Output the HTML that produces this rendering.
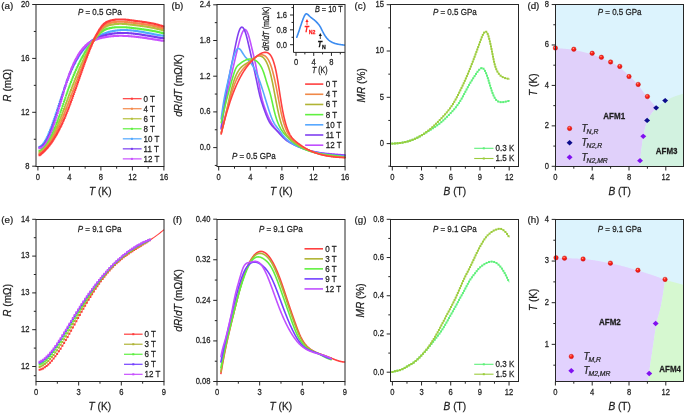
<!DOCTYPE html>
<html><head><meta charset="utf-8"><style>
html,body{margin:0;padding:0;background:#fff;}
svg{display:block;font-family:"Liberation Sans", sans-serif;will-change:transform;}
text{stroke-width:0.22px;}
</style></head><body>
<svg xmlns="http://www.w3.org/2000/svg" width="685" height="413" viewBox="0 0 685 413">
<defs><radialGradient id="rg" cx="0.4" cy="0.35" r="0.65"><stop offset="0" stop-color="#ffb0a0"/><stop offset="0.35" stop-color="#ff2a1a"/><stop offset="1" stop-color="#e01010"/></radialGradient></defs>
<rect width="685" height="413" fill="#fff"/>
<path d="M38.50,145.96h2.0v2.0h-2.0zM39.20,145.69h2.0v2.0h-2.0zM39.90,145.27h2.0v2.0h-2.0zM40.60,144.71h2.0v2.0h-2.0zM41.30,144.02h2.0v2.0h-2.0zM42.00,143.20h2.0v2.0h-2.0zM42.70,142.26h2.0v2.0h-2.0zM43.40,141.20h2.0v2.0h-2.0zM44.10,140.04h2.0v2.0h-2.0zM44.80,138.77h2.0v2.0h-2.0zM45.50,137.40h2.0v2.0h-2.0zM46.20,135.94h2.0v2.0h-2.0zM46.90,134.40h2.0v2.0h-2.0zM47.60,132.78h2.0v2.0h-2.0zM48.30,131.09h2.0v2.0h-2.0zM49.00,129.33h2.0v2.0h-2.0zM49.70,127.51h2.0v2.0h-2.0zM50.40,125.64h2.0v2.0h-2.0zM51.10,123.71h2.0v2.0h-2.0zM51.80,121.75h2.0v2.0h-2.0zM52.50,119.75h2.0v2.0h-2.0zM53.20,117.72h2.0v2.0h-2.0zM53.90,115.66h2.0v2.0h-2.0zM54.60,113.58h2.0v2.0h-2.0zM55.30,111.48h2.0v2.0h-2.0zM56.00,109.37h2.0v2.0h-2.0zM56.70,107.24h2.0v2.0h-2.0zM57.40,105.11h2.0v2.0h-2.0zM58.10,102.98h2.0v2.0h-2.0zM58.80,100.85h2.0v2.0h-2.0zM59.50,98.73h2.0v2.0h-2.0zM60.20,96.62h2.0v2.0h-2.0zM60.90,94.52h2.0v2.0h-2.0zM61.60,92.44h2.0v2.0h-2.0zM62.30,90.39h2.0v2.0h-2.0zM63.00,88.36h2.0v2.0h-2.0zM63.70,86.36h2.0v2.0h-2.0zM64.40,84.40h2.0v2.0h-2.0zM65.10,82.47h2.0v2.0h-2.0zM65.80,80.59h2.0v2.0h-2.0zM66.50,78.76h2.0v2.0h-2.0zM67.20,76.98h2.0v2.0h-2.0zM67.90,75.24h2.0v2.0h-2.0zM68.60,73.55h2.0v2.0h-2.0zM69.30,71.91h2.0v2.0h-2.0zM70.00,70.31h2.0v2.0h-2.0zM70.70,68.76h2.0v2.0h-2.0zM71.40,67.25h2.0v2.0h-2.0zM72.10,65.78h2.0v2.0h-2.0zM72.80,64.36h2.0v2.0h-2.0zM73.50,62.97h2.0v2.0h-2.0zM74.20,61.63h2.0v2.0h-2.0zM74.90,60.33h2.0v2.0h-2.0zM75.60,59.07h2.0v2.0h-2.0zM76.30,57.84h2.0v2.0h-2.0zM77.00,56.66h2.0v2.0h-2.0zM77.70,55.51h2.0v2.0h-2.0zM78.40,54.40h2.0v2.0h-2.0zM79.10,53.32h2.0v2.0h-2.0zM79.80,52.28h2.0v2.0h-2.0zM80.50,51.28h2.0v2.0h-2.0zM81.20,50.30h2.0v2.0h-2.0zM81.90,49.36h2.0v2.0h-2.0zM82.60,48.45h2.0v2.0h-2.0zM83.30,47.58h2.0v2.0h-2.0zM84.00,46.73h2.0v2.0h-2.0zM84.70,45.91h2.0v2.0h-2.0zM85.40,45.13h2.0v2.0h-2.0zM86.10,44.37h2.0v2.0h-2.0zM86.80,43.63h2.0v2.0h-2.0zM87.50,42.93h2.0v2.0h-2.0zM88.20,42.25h2.0v2.0h-2.0zM88.90,41.60h2.0v2.0h-2.0zM89.60,40.97h2.0v2.0h-2.0zM90.30,40.36h2.0v2.0h-2.0zM91.00,39.78h2.0v2.0h-2.0zM91.70,39.22h2.0v2.0h-2.0zM92.40,38.69h2.0v2.0h-2.0zM93.10,38.17h2.0v2.0h-2.0zM93.80,37.67h2.0v2.0h-2.0zM94.50,37.20h2.0v2.0h-2.0zM95.20,36.74h2.0v2.0h-2.0zM95.90,36.30h2.0v2.0h-2.0zM96.60,35.87h2.0v2.0h-2.0zM97.30,35.47h2.0v2.0h-2.0zM98.00,35.08h2.0v2.0h-2.0zM98.70,34.70h2.0v2.0h-2.0zM99.40,34.34h2.0v2.0h-2.0zM100.10,33.99h2.0v2.0h-2.0zM100.80,33.66h2.0v2.0h-2.0zM101.50,33.34h2.0v2.0h-2.0zM102.20,33.03h2.0v2.0h-2.0zM102.90,32.74h2.0v2.0h-2.0zM103.60,32.46h2.0v2.0h-2.0zM104.30,32.19h2.0v2.0h-2.0zM105.00,31.93h2.0v2.0h-2.0zM105.70,31.69h2.0v2.0h-2.0zM106.40,31.46h2.0v2.0h-2.0zM107.10,31.24h2.0v2.0h-2.0zM107.80,31.03h2.0v2.0h-2.0zM108.50,30.84h2.0v2.0h-2.0zM109.20,30.65h2.0v2.0h-2.0zM109.90,30.48h2.0v2.0h-2.0zM110.60,30.31h2.0v2.0h-2.0zM111.30,30.16h2.0v2.0h-2.0zM112.00,30.02h2.0v2.0h-2.0zM112.70,29.89h2.0v2.0h-2.0zM113.40,29.77h2.0v2.0h-2.0zM114.10,29.66h2.0v2.0h-2.0zM114.80,29.56h2.0v2.0h-2.0zM115.50,29.46h2.0v2.0h-2.0zM116.20,29.38h2.0v2.0h-2.0zM116.90,29.31h2.0v2.0h-2.0zM117.60,29.24h2.0v2.0h-2.0zM118.30,29.19h2.0v2.0h-2.0zM119.00,29.14h2.0v2.0h-2.0zM119.70,29.10h2.0v2.0h-2.0zM120.40,29.07h2.0v2.0h-2.0zM121.10,29.05h2.0v2.0h-2.0zM121.80,29.04h2.0v2.0h-2.0zM122.50,29.03h2.0v2.0h-2.0zM123.20,29.03h2.0v2.0h-2.0zM123.90,29.04h2.0v2.0h-2.0zM124.60,29.05h2.0v2.0h-2.0zM125.30,29.07h2.0v2.0h-2.0zM126.00,29.10h2.0v2.0h-2.0zM126.70,29.14h2.0v2.0h-2.0zM127.40,29.18h2.0v2.0h-2.0zM128.10,29.22h2.0v2.0h-2.0zM128.80,29.28h2.0v2.0h-2.0zM129.50,29.33h2.0v2.0h-2.0zM130.20,29.40h2.0v2.0h-2.0zM130.90,29.47h2.0v2.0h-2.0zM131.60,29.54h2.0v2.0h-2.0zM132.30,29.62h2.0v2.0h-2.0zM133.00,29.70h2.0v2.0h-2.0zM133.70,29.79h2.0v2.0h-2.0zM134.40,29.88h2.0v2.0h-2.0zM135.10,29.98h2.0v2.0h-2.0zM135.80,30.08h2.0v2.0h-2.0zM136.50,30.18h2.0v2.0h-2.0zM137.20,30.29h2.0v2.0h-2.0zM137.90,30.40h2.0v2.0h-2.0zM138.60,30.51h2.0v2.0h-2.0zM139.30,30.63h2.0v2.0h-2.0zM140.00,30.75h2.0v2.0h-2.0zM140.70,30.87h2.0v2.0h-2.0zM141.40,30.99h2.0v2.0h-2.0zM142.10,31.12h2.0v2.0h-2.0zM142.80,31.25h2.0v2.0h-2.0zM143.50,31.38h2.0v2.0h-2.0zM144.20,31.51h2.0v2.0h-2.0zM144.90,31.64h2.0v2.0h-2.0zM145.60,31.78h2.0v2.0h-2.0zM146.30,31.91h2.0v2.0h-2.0zM147.00,32.05h2.0v2.0h-2.0zM147.70,32.18h2.0v2.0h-2.0zM148.40,32.32h2.0v2.0h-2.0zM149.10,32.45h2.0v2.0h-2.0zM149.80,32.59h2.0v2.0h-2.0zM150.50,32.73h2.0v2.0h-2.0zM151.20,32.86h2.0v2.0h-2.0zM151.90,33.00h2.0v2.0h-2.0zM152.60,33.13h2.0v2.0h-2.0zM153.30,33.26h2.0v2.0h-2.0zM154.00,33.39h2.0v2.0h-2.0zM154.70,33.53h2.0v2.0h-2.0zM155.40,33.65h2.0v2.0h-2.0zM156.10,33.78h2.0v2.0h-2.0zM156.80,33.91h2.0v2.0h-2.0zM157.50,34.03h2.0v2.0h-2.0zM158.20,34.15h2.0v2.0h-2.0zM158.90,34.27h2.0v2.0h-2.0zM159.60,34.38h2.0v2.0h-2.0zM160.30,34.49h2.0v2.0h-2.0zM161.00,34.60h2.0v2.0h-2.0zM161.70,34.71h2.0v2.0h-2.0zM162.40,34.81h2.0v2.0h-2.0z" fill="#50a8ff"/>
<path d="M38.50,146.55h2.0v2.0h-2.0zM39.20,146.44h2.0v2.0h-2.0zM39.90,146.19h2.0v2.0h-2.0zM40.60,145.79h2.0v2.0h-2.0zM41.30,145.26h2.0v2.0h-2.0zM42.00,144.61h2.0v2.0h-2.0zM42.70,143.83h2.0v2.0h-2.0zM43.40,142.92h2.0v2.0h-2.0zM44.10,141.91h2.0v2.0h-2.0zM44.80,140.79h2.0v2.0h-2.0zM45.50,139.56h2.0v2.0h-2.0zM46.20,138.23h2.0v2.0h-2.0zM46.90,136.80h2.0v2.0h-2.0zM47.60,135.29h2.0v2.0h-2.0zM48.30,133.69h2.0v2.0h-2.0zM49.00,132.01h2.0v2.0h-2.0zM49.70,130.26h2.0v2.0h-2.0zM50.40,128.44h2.0v2.0h-2.0zM51.10,126.55h2.0v2.0h-2.0zM51.80,124.60h2.0v2.0h-2.0zM52.50,122.59h2.0v2.0h-2.0zM53.20,120.53h2.0v2.0h-2.0zM53.90,118.43h2.0v2.0h-2.0zM54.60,116.28h2.0v2.0h-2.0zM55.30,114.10h2.0v2.0h-2.0zM56.00,111.89h2.0v2.0h-2.0zM56.70,109.65h2.0v2.0h-2.0zM57.40,107.39h2.0v2.0h-2.0zM58.10,105.11h2.0v2.0h-2.0zM58.80,102.83h2.0v2.0h-2.0zM59.50,100.54h2.0v2.0h-2.0zM60.20,98.25h2.0v2.0h-2.0zM60.90,95.96h2.0v2.0h-2.0zM61.60,93.69h2.0v2.0h-2.0zM62.30,91.44h2.0v2.0h-2.0zM63.00,89.21h2.0v2.0h-2.0zM63.70,87.01h2.0v2.0h-2.0zM64.40,84.85h2.0v2.0h-2.0zM65.10,82.74h2.0v2.0h-2.0zM65.80,80.67h2.0v2.0h-2.0zM66.50,78.67h2.0v2.0h-2.0zM67.20,76.73h2.0v2.0h-2.0zM67.90,74.84h2.0v2.0h-2.0zM68.60,73.02h2.0v2.0h-2.0zM69.30,71.26h2.0v2.0h-2.0zM70.00,69.56h2.0v2.0h-2.0zM70.70,67.91h2.0v2.0h-2.0zM71.40,66.32h2.0v2.0h-2.0zM72.10,64.79h2.0v2.0h-2.0zM72.80,63.31h2.0v2.0h-2.0zM73.50,61.88h2.0v2.0h-2.0zM74.20,60.50h2.0v2.0h-2.0zM74.90,59.17h2.0v2.0h-2.0zM75.60,57.89h2.0v2.0h-2.0zM76.30,56.66h2.0v2.0h-2.0zM77.00,55.48h2.0v2.0h-2.0zM77.70,54.34h2.0v2.0h-2.0zM78.40,53.25h2.0v2.0h-2.0zM79.10,52.20h2.0v2.0h-2.0zM79.80,51.20h2.0v2.0h-2.0zM80.50,50.23h2.0v2.0h-2.0zM81.20,49.31h2.0v2.0h-2.0zM81.90,48.42h2.0v2.0h-2.0zM82.60,47.58h2.0v2.0h-2.0zM83.30,46.77h2.0v2.0h-2.0zM84.00,45.99h2.0v2.0h-2.0zM84.70,45.25h2.0v2.0h-2.0zM85.40,44.55h2.0v2.0h-2.0zM86.10,43.87h2.0v2.0h-2.0zM86.80,43.23h2.0v2.0h-2.0zM87.50,42.62h2.0v2.0h-2.0zM88.20,42.04h2.0v2.0h-2.0zM88.90,41.48h2.0v2.0h-2.0zM89.60,40.95h2.0v2.0h-2.0zM90.30,40.45h2.0v2.0h-2.0zM91.00,39.97h2.0v2.0h-2.0zM91.70,39.52h2.0v2.0h-2.0zM92.40,39.09h2.0v2.0h-2.0zM93.10,38.68h2.0v2.0h-2.0zM93.80,38.29h2.0v2.0h-2.0zM94.50,37.92h2.0v2.0h-2.0zM95.20,37.56h2.0v2.0h-2.0zM95.90,37.23h2.0v2.0h-2.0zM96.60,36.90h2.0v2.0h-2.0zM97.30,36.60h2.0v2.0h-2.0zM98.00,36.30h2.0v2.0h-2.0zM98.70,36.02h2.0v2.0h-2.0zM99.40,35.75h2.0v2.0h-2.0zM100.10,35.50h2.0v2.0h-2.0zM100.80,35.25h2.0v2.0h-2.0zM101.50,35.01h2.0v2.0h-2.0zM102.20,34.78h2.0v2.0h-2.0zM102.90,34.56h2.0v2.0h-2.0zM103.60,34.36h2.0v2.0h-2.0zM104.30,34.16h2.0v2.0h-2.0zM105.00,33.97h2.0v2.0h-2.0zM105.70,33.79h2.0v2.0h-2.0zM106.40,33.62h2.0v2.0h-2.0zM107.10,33.46h2.0v2.0h-2.0zM107.80,33.31h2.0v2.0h-2.0zM108.50,33.17h2.0v2.0h-2.0zM109.20,33.03h2.0v2.0h-2.0zM109.90,32.91h2.0v2.0h-2.0zM110.60,32.79h2.0v2.0h-2.0zM111.30,32.68h2.0v2.0h-2.0zM112.00,32.58h2.0v2.0h-2.0zM112.70,32.49h2.0v2.0h-2.0zM113.40,32.41h2.0v2.0h-2.0zM114.10,32.33h2.0v2.0h-2.0zM114.80,32.26h2.0v2.0h-2.0zM115.50,32.20h2.0v2.0h-2.0zM116.20,32.14h2.0v2.0h-2.0zM116.90,32.10h2.0v2.0h-2.0zM117.60,32.06h2.0v2.0h-2.0zM118.30,32.02h2.0v2.0h-2.0zM119.00,32.00h2.0v2.0h-2.0zM119.70,31.98h2.0v2.0h-2.0zM120.40,31.96h2.0v2.0h-2.0zM121.10,31.96h2.0v2.0h-2.0zM121.80,31.95h2.0v2.0h-2.0zM122.50,31.96h2.0v2.0h-2.0zM123.20,31.97h2.0v2.0h-2.0zM123.90,31.98h2.0v2.0h-2.0zM124.60,32.01h2.0v2.0h-2.0zM125.30,32.03h2.0v2.0h-2.0zM126.00,32.07h2.0v2.0h-2.0zM126.70,32.10h2.0v2.0h-2.0zM127.40,32.14h2.0v2.0h-2.0zM128.10,32.19h2.0v2.0h-2.0zM128.80,32.24h2.0v2.0h-2.0zM129.50,32.30h2.0v2.0h-2.0zM130.20,32.36h2.0v2.0h-2.0zM130.90,32.42h2.0v2.0h-2.0zM131.60,32.49h2.0v2.0h-2.0zM132.30,32.57h2.0v2.0h-2.0zM133.00,32.64h2.0v2.0h-2.0zM133.70,32.72h2.0v2.0h-2.0zM134.40,32.81h2.0v2.0h-2.0zM135.10,32.89h2.0v2.0h-2.0zM135.80,32.98h2.0v2.0h-2.0zM136.50,33.08h2.0v2.0h-2.0zM137.20,33.17h2.0v2.0h-2.0zM137.90,33.27h2.0v2.0h-2.0zM138.60,33.37h2.0v2.0h-2.0zM139.30,33.48h2.0v2.0h-2.0zM140.00,33.58h2.0v2.0h-2.0zM140.70,33.69h2.0v2.0h-2.0zM141.40,33.80h2.0v2.0h-2.0zM142.10,33.91h2.0v2.0h-2.0zM142.80,34.03h2.0v2.0h-2.0zM143.50,34.14h2.0v2.0h-2.0zM144.20,34.26h2.0v2.0h-2.0zM144.90,34.38h2.0v2.0h-2.0zM145.60,34.50h2.0v2.0h-2.0zM146.30,34.62h2.0v2.0h-2.0zM147.00,34.74h2.0v2.0h-2.0zM147.70,34.86h2.0v2.0h-2.0zM148.40,34.98h2.0v2.0h-2.0zM149.10,35.11h2.0v2.0h-2.0zM149.80,35.23h2.0v2.0h-2.0zM150.50,35.35h2.0v2.0h-2.0zM151.20,35.48h2.0v2.0h-2.0zM151.90,35.60h2.0v2.0h-2.0zM152.60,35.72h2.0v2.0h-2.0zM153.30,35.84h2.0v2.0h-2.0zM154.00,35.97h2.0v2.0h-2.0zM154.70,36.09h2.0v2.0h-2.0zM155.40,36.21h2.0v2.0h-2.0zM156.10,36.33h2.0v2.0h-2.0zM156.80,36.44h2.0v2.0h-2.0zM157.50,36.56h2.0v2.0h-2.0zM158.20,36.68h2.0v2.0h-2.0zM158.90,36.79h2.0v2.0h-2.0zM159.60,36.90h2.0v2.0h-2.0zM160.30,37.01h2.0v2.0h-2.0zM161.00,37.12h2.0v2.0h-2.0zM161.70,37.22h2.0v2.0h-2.0zM162.40,37.33h2.0v2.0h-2.0z" fill="#7a3cf0"/>
<path d="M38.50,147.14h2.0v2.0h-2.0zM39.20,147.19h2.0v2.0h-2.0zM39.90,147.10h2.0v2.0h-2.0zM40.60,146.87h2.0v2.0h-2.0zM41.30,146.51h2.0v2.0h-2.0zM42.00,146.01h2.0v2.0h-2.0zM42.70,145.39h2.0v2.0h-2.0zM43.40,144.65h2.0v2.0h-2.0zM44.10,143.78h2.0v2.0h-2.0zM44.80,142.80h2.0v2.0h-2.0zM45.50,141.71h2.0v2.0h-2.0zM46.20,140.51h2.0v2.0h-2.0zM46.90,139.20h2.0v2.0h-2.0zM47.60,137.80h2.0v2.0h-2.0zM48.30,136.29h2.0v2.0h-2.0zM49.00,134.70h2.0v2.0h-2.0zM49.70,133.01h2.0v2.0h-2.0zM50.40,131.23h2.0v2.0h-2.0zM51.10,129.38h2.0v2.0h-2.0zM51.80,127.44h2.0v2.0h-2.0zM52.50,125.43h2.0v2.0h-2.0zM53.20,123.35h2.0v2.0h-2.0zM53.90,121.20h2.0v2.0h-2.0zM54.60,118.99h2.0v2.0h-2.0zM55.30,116.72h2.0v2.0h-2.0zM56.00,114.41h2.0v2.0h-2.0zM56.70,112.05h2.0v2.0h-2.0zM57.40,109.66h2.0v2.0h-2.0zM58.10,107.24h2.0v2.0h-2.0zM58.80,104.80h2.0v2.0h-2.0zM59.50,102.34h2.0v2.0h-2.0zM60.20,99.88h2.0v2.0h-2.0zM60.90,97.41h2.0v2.0h-2.0zM61.60,94.94h2.0v2.0h-2.0zM62.30,92.49h2.0v2.0h-2.0zM63.00,90.06h2.0v2.0h-2.0zM63.70,87.66h2.0v2.0h-2.0zM64.40,85.30h2.0v2.0h-2.0zM65.10,83.00h2.0v2.0h-2.0zM65.80,80.75h2.0v2.0h-2.0zM66.50,78.57h2.0v2.0h-2.0zM67.20,76.47h2.0v2.0h-2.0zM67.90,74.45h2.0v2.0h-2.0zM68.60,72.49h2.0v2.0h-2.0zM69.30,70.62h2.0v2.0h-2.0zM70.00,68.81h2.0v2.0h-2.0zM70.70,67.07h2.0v2.0h-2.0zM71.40,65.40h2.0v2.0h-2.0zM72.10,63.79h2.0v2.0h-2.0zM72.80,62.26h2.0v2.0h-2.0zM73.50,60.78h2.0v2.0h-2.0zM74.20,59.37h2.0v2.0h-2.0zM74.90,58.01h2.0v2.0h-2.0zM75.60,56.72h2.0v2.0h-2.0zM76.30,55.48h2.0v2.0h-2.0zM77.00,54.30h2.0v2.0h-2.0zM77.70,53.18h2.0v2.0h-2.0zM78.40,52.11h2.0v2.0h-2.0zM79.10,51.08h2.0v2.0h-2.0zM79.80,50.11h2.0v2.0h-2.0zM80.50,49.19h2.0v2.0h-2.0zM81.20,48.32h2.0v2.0h-2.0zM81.90,47.49h2.0v2.0h-2.0zM82.60,46.70h2.0v2.0h-2.0zM83.30,45.96h2.0v2.0h-2.0zM84.00,45.26h2.0v2.0h-2.0zM84.70,44.59h2.0v2.0h-2.0zM85.40,43.97h2.0v2.0h-2.0zM86.10,43.38h2.0v2.0h-2.0zM86.80,42.83h2.0v2.0h-2.0zM87.50,42.31h2.0v2.0h-2.0zM88.20,41.82h2.0v2.0h-2.0zM88.90,41.37h2.0v2.0h-2.0zM89.60,40.94h2.0v2.0h-2.0zM90.30,40.54h2.0v2.0h-2.0zM91.00,40.16h2.0v2.0h-2.0zM91.70,39.82h2.0v2.0h-2.0zM92.40,39.49h2.0v2.0h-2.0zM93.10,39.18h2.0v2.0h-2.0zM93.80,38.90h2.0v2.0h-2.0zM94.50,38.63h2.0v2.0h-2.0zM95.20,38.39h2.0v2.0h-2.0zM95.90,38.15h2.0v2.0h-2.0zM96.60,37.93h2.0v2.0h-2.0zM97.30,37.73h2.0v2.0h-2.0zM98.00,37.53h2.0v2.0h-2.0zM98.70,37.35h2.0v2.0h-2.0zM99.40,37.17h2.0v2.0h-2.0zM100.10,37.00h2.0v2.0h-2.0zM100.80,36.84h2.0v2.0h-2.0zM101.50,36.68h2.0v2.0h-2.0zM102.20,36.53h2.0v2.0h-2.0zM102.90,36.39h2.0v2.0h-2.0zM103.60,36.26h2.0v2.0h-2.0zM104.30,36.13h2.0v2.0h-2.0zM105.00,36.01h2.0v2.0h-2.0zM105.70,35.89h2.0v2.0h-2.0zM106.40,35.78h2.0v2.0h-2.0zM107.10,35.68h2.0v2.0h-2.0zM107.80,35.59h2.0v2.0h-2.0zM108.50,35.50h2.0v2.0h-2.0zM109.20,35.42h2.0v2.0h-2.0zM109.90,35.34h2.0v2.0h-2.0zM110.60,35.27h2.0v2.0h-2.0zM111.30,35.20h2.0v2.0h-2.0zM112.00,35.14h2.0v2.0h-2.0zM112.70,35.09h2.0v2.0h-2.0zM113.40,35.04h2.0v2.0h-2.0zM114.10,35.00h2.0v2.0h-2.0zM114.80,34.96h2.0v2.0h-2.0zM115.50,34.93h2.0v2.0h-2.0zM116.20,34.91h2.0v2.0h-2.0zM116.90,34.89h2.0v2.0h-2.0zM117.60,34.87h2.0v2.0h-2.0zM118.30,34.86h2.0v2.0h-2.0zM119.00,34.85h2.0v2.0h-2.0zM119.70,34.85h2.0v2.0h-2.0zM120.40,34.85h2.0v2.0h-2.0zM121.10,34.86h2.0v2.0h-2.0zM121.80,34.87h2.0v2.0h-2.0zM122.50,34.89h2.0v2.0h-2.0zM123.20,34.91h2.0v2.0h-2.0zM123.90,34.93h2.0v2.0h-2.0zM124.60,34.96h2.0v2.0h-2.0zM125.30,34.99h2.0v2.0h-2.0zM126.00,35.03h2.0v2.0h-2.0zM126.70,35.07h2.0v2.0h-2.0zM127.40,35.11h2.0v2.0h-2.0zM128.10,35.16h2.0v2.0h-2.0zM128.80,35.21h2.0v2.0h-2.0zM129.50,35.27h2.0v2.0h-2.0zM130.20,35.32h2.0v2.0h-2.0zM130.90,35.38h2.0v2.0h-2.0zM131.60,35.45h2.0v2.0h-2.0zM132.30,35.51h2.0v2.0h-2.0zM133.00,35.58h2.0v2.0h-2.0zM133.70,35.66h2.0v2.0h-2.0zM134.40,35.73h2.0v2.0h-2.0zM135.10,35.81h2.0v2.0h-2.0zM135.80,35.89h2.0v2.0h-2.0zM136.50,35.97h2.0v2.0h-2.0zM137.20,36.06h2.0v2.0h-2.0zM137.90,36.14h2.0v2.0h-2.0zM138.60,36.23h2.0v2.0h-2.0zM139.30,36.32h2.0v2.0h-2.0zM140.00,36.42h2.0v2.0h-2.0zM140.70,36.51h2.0v2.0h-2.0zM141.40,36.61h2.0v2.0h-2.0zM142.10,36.71h2.0v2.0h-2.0zM142.80,36.81h2.0v2.0h-2.0zM143.50,36.91h2.0v2.0h-2.0zM144.20,37.01h2.0v2.0h-2.0zM144.90,37.11h2.0v2.0h-2.0zM145.60,37.22h2.0v2.0h-2.0zM146.30,37.33h2.0v2.0h-2.0zM147.00,37.43h2.0v2.0h-2.0zM147.70,37.54h2.0v2.0h-2.0zM148.40,37.65h2.0v2.0h-2.0zM149.10,37.76h2.0v2.0h-2.0zM149.80,37.87h2.0v2.0h-2.0zM150.50,37.98h2.0v2.0h-2.0zM151.20,38.09h2.0v2.0h-2.0zM151.90,38.20h2.0v2.0h-2.0zM152.60,38.31h2.0v2.0h-2.0zM153.30,38.43h2.0v2.0h-2.0zM154.00,38.54h2.0v2.0h-2.0zM154.70,38.65h2.0v2.0h-2.0zM155.40,38.76h2.0v2.0h-2.0zM156.10,38.87h2.0v2.0h-2.0zM156.80,38.98h2.0v2.0h-2.0zM157.50,39.09h2.0v2.0h-2.0zM158.20,39.20h2.0v2.0h-2.0zM158.90,39.31h2.0v2.0h-2.0zM159.60,39.42h2.0v2.0h-2.0zM160.30,39.53h2.0v2.0h-2.0zM161.00,39.63h2.0v2.0h-2.0zM161.70,39.74h2.0v2.0h-2.0zM162.40,39.84h2.0v2.0h-2.0z" fill="#c850ff"/>
<path d="M38.50,149.83h2.0v2.0h-2.0zM39.20,149.66h2.0v2.0h-2.0zM39.90,149.39h2.0v2.0h-2.0zM40.60,149.03h2.0v2.0h-2.0zM41.30,148.58h2.0v2.0h-2.0zM42.00,148.04h2.0v2.0h-2.0zM42.70,147.40h2.0v2.0h-2.0zM43.40,146.68h2.0v2.0h-2.0zM44.10,145.88h2.0v2.0h-2.0zM44.80,144.99h2.0v2.0h-2.0zM45.50,144.03h2.0v2.0h-2.0zM46.20,142.98h2.0v2.0h-2.0zM46.90,141.86h2.0v2.0h-2.0zM47.60,140.67h2.0v2.0h-2.0zM48.30,139.40h2.0v2.0h-2.0zM49.00,138.07h2.0v2.0h-2.0zM49.70,136.67h2.0v2.0h-2.0zM50.40,135.20h2.0v2.0h-2.0zM51.10,133.67h2.0v2.0h-2.0zM51.80,132.08h2.0v2.0h-2.0zM52.50,130.43h2.0v2.0h-2.0zM53.20,128.72h2.0v2.0h-2.0zM53.90,126.96h2.0v2.0h-2.0zM54.60,125.15h2.0v2.0h-2.0zM55.30,123.29h2.0v2.0h-2.0zM56.00,121.39h2.0v2.0h-2.0zM56.70,119.45h2.0v2.0h-2.0zM57.40,117.47h2.0v2.0h-2.0zM58.10,115.46h2.0v2.0h-2.0zM58.80,113.43h2.0v2.0h-2.0zM59.50,111.37h2.0v2.0h-2.0zM60.20,109.29h2.0v2.0h-2.0zM60.90,107.20h2.0v2.0h-2.0zM61.60,105.09h2.0v2.0h-2.0zM62.30,102.98h2.0v2.0h-2.0zM63.00,100.87h2.0v2.0h-2.0zM63.70,98.76h2.0v2.0h-2.0zM64.40,96.67h2.0v2.0h-2.0zM65.10,94.59h2.0v2.0h-2.0zM65.80,92.54h2.0v2.0h-2.0zM66.50,90.52h2.0v2.0h-2.0zM67.20,88.54h2.0v2.0h-2.0zM67.90,86.59h2.0v2.0h-2.0zM68.60,84.68h2.0v2.0h-2.0zM69.30,82.80h2.0v2.0h-2.0zM70.00,80.96h2.0v2.0h-2.0zM70.70,79.16h2.0v2.0h-2.0zM71.40,77.39h2.0v2.0h-2.0zM72.10,75.66h2.0v2.0h-2.0zM72.80,73.96h2.0v2.0h-2.0zM73.50,72.30h2.0v2.0h-2.0zM74.20,70.67h2.0v2.0h-2.0zM74.90,69.08h2.0v2.0h-2.0zM75.60,67.52h2.0v2.0h-2.0zM76.30,65.99h2.0v2.0h-2.0zM77.00,64.50h2.0v2.0h-2.0zM77.70,63.04h2.0v2.0h-2.0zM78.40,61.61h2.0v2.0h-2.0zM79.10,60.22h2.0v2.0h-2.0zM79.80,58.86h2.0v2.0h-2.0zM80.50,57.53h2.0v2.0h-2.0zM81.20,56.23h2.0v2.0h-2.0zM81.90,54.97h2.0v2.0h-2.0zM82.60,53.74h2.0v2.0h-2.0zM83.30,52.53h2.0v2.0h-2.0zM84.00,51.36h2.0v2.0h-2.0zM84.70,50.22h2.0v2.0h-2.0zM85.40,49.12h2.0v2.0h-2.0zM86.10,48.07h2.0v2.0h-2.0zM86.80,47.06h2.0v2.0h-2.0zM87.50,46.09h2.0v2.0h-2.0zM88.20,45.15h2.0v2.0h-2.0zM88.90,44.23h2.0v2.0h-2.0zM89.60,43.32h2.0v2.0h-2.0zM90.30,42.42h2.0v2.0h-2.0zM91.00,41.53h2.0v2.0h-2.0zM91.70,40.64h2.0v2.0h-2.0zM92.40,39.76h2.0v2.0h-2.0zM93.10,38.88h2.0v2.0h-2.0zM93.80,38.00h2.0v2.0h-2.0zM94.50,37.14h2.0v2.0h-2.0zM95.20,36.30h2.0v2.0h-2.0zM95.90,35.47h2.0v2.0h-2.0zM96.60,34.67h2.0v2.0h-2.0zM97.30,33.90h2.0v2.0h-2.0zM98.00,33.18h2.0v2.0h-2.0zM98.70,32.50h2.0v2.0h-2.0zM99.40,31.87h2.0v2.0h-2.0zM100.10,31.29h2.0v2.0h-2.0zM100.80,30.74h2.0v2.0h-2.0zM101.50,30.23h2.0v2.0h-2.0zM102.20,29.77h2.0v2.0h-2.0zM102.90,29.34h2.0v2.0h-2.0zM103.60,28.96h2.0v2.0h-2.0zM104.30,28.62h2.0v2.0h-2.0zM105.00,28.31h2.0v2.0h-2.0zM105.70,28.04h2.0v2.0h-2.0zM106.40,27.81h2.0v2.0h-2.0zM107.10,27.59h2.0v2.0h-2.0zM107.80,27.41h2.0v2.0h-2.0zM108.50,27.24h2.0v2.0h-2.0zM109.20,27.09h2.0v2.0h-2.0zM109.90,26.95h2.0v2.0h-2.0zM110.60,26.82h2.0v2.0h-2.0zM111.30,26.71h2.0v2.0h-2.0zM112.00,26.60h2.0v2.0h-2.0zM112.70,26.51h2.0v2.0h-2.0zM113.40,26.43h2.0v2.0h-2.0zM114.10,26.36h2.0v2.0h-2.0zM114.80,26.30h2.0v2.0h-2.0zM115.50,26.25h2.0v2.0h-2.0zM116.20,26.20h2.0v2.0h-2.0zM116.90,26.17h2.0v2.0h-2.0zM117.60,26.15h2.0v2.0h-2.0zM118.30,26.13h2.0v2.0h-2.0zM119.00,26.13h2.0v2.0h-2.0zM119.70,26.13h2.0v2.0h-2.0zM120.40,26.14h2.0v2.0h-2.0zM121.10,26.15h2.0v2.0h-2.0zM121.80,26.17h2.0v2.0h-2.0zM122.50,26.20h2.0v2.0h-2.0zM123.20,26.23h2.0v2.0h-2.0zM123.90,26.28h2.0v2.0h-2.0zM124.60,26.32h2.0v2.0h-2.0zM125.30,26.37h2.0v2.0h-2.0zM126.00,26.43h2.0v2.0h-2.0zM126.70,26.49h2.0v2.0h-2.0zM127.40,26.55h2.0v2.0h-2.0zM128.10,26.62h2.0v2.0h-2.0zM128.80,26.69h2.0v2.0h-2.0zM129.50,26.76h2.0v2.0h-2.0zM130.20,26.84h2.0v2.0h-2.0zM130.90,26.92h2.0v2.0h-2.0zM131.60,27.00h2.0v2.0h-2.0zM132.30,27.08h2.0v2.0h-2.0zM133.00,27.16h2.0v2.0h-2.0zM133.70,27.25h2.0v2.0h-2.0zM134.40,27.33h2.0v2.0h-2.0zM135.10,27.42h2.0v2.0h-2.0zM135.80,27.50h2.0v2.0h-2.0zM136.50,27.59h2.0v2.0h-2.0zM137.20,27.68h2.0v2.0h-2.0zM137.90,27.77h2.0v2.0h-2.0zM138.60,27.86h2.0v2.0h-2.0zM139.30,27.95h2.0v2.0h-2.0zM140.00,28.04h2.0v2.0h-2.0zM140.70,28.14h2.0v2.0h-2.0zM141.40,28.23h2.0v2.0h-2.0zM142.10,28.33h2.0v2.0h-2.0zM142.80,28.43h2.0v2.0h-2.0zM143.50,28.53h2.0v2.0h-2.0zM144.20,28.63h2.0v2.0h-2.0zM144.90,28.74h2.0v2.0h-2.0zM145.60,28.84h2.0v2.0h-2.0zM146.30,28.95h2.0v2.0h-2.0zM147.00,29.06h2.0v2.0h-2.0zM147.70,29.18h2.0v2.0h-2.0zM148.40,29.29h2.0v2.0h-2.0zM149.10,29.41h2.0v2.0h-2.0zM149.80,29.53h2.0v2.0h-2.0zM150.50,29.66h2.0v2.0h-2.0zM151.20,29.78h2.0v2.0h-2.0zM151.90,29.91h2.0v2.0h-2.0zM152.60,30.05h2.0v2.0h-2.0zM153.30,30.18h2.0v2.0h-2.0zM154.00,30.32h2.0v2.0h-2.0zM154.70,30.47h2.0v2.0h-2.0zM155.40,30.61h2.0v2.0h-2.0zM156.10,30.76h2.0v2.0h-2.0zM156.80,30.92h2.0v2.0h-2.0zM157.50,31.08h2.0v2.0h-2.0zM158.20,31.24h2.0v2.0h-2.0zM158.90,31.41h2.0v2.0h-2.0zM159.60,31.58h2.0v2.0h-2.0zM160.30,31.75h2.0v2.0h-2.0zM161.00,31.93h2.0v2.0h-2.0zM161.70,32.11h2.0v2.0h-2.0zM162.40,32.30h2.0v2.0h-2.0z" fill="#5ef040"/>
<path d="M38.50,151.60h2.0v2.0h-2.0zM39.20,151.28h2.0v2.0h-2.0zM39.90,150.90h2.0v2.0h-2.0zM40.60,150.46h2.0v2.0h-2.0zM41.30,149.94h2.0v2.0h-2.0zM42.00,149.37h2.0v2.0h-2.0zM42.70,148.73h2.0v2.0h-2.0zM43.40,148.02h2.0v2.0h-2.0zM44.10,147.26h2.0v2.0h-2.0zM44.80,146.43h2.0v2.0h-2.0zM45.50,145.55h2.0v2.0h-2.0zM46.20,144.61h2.0v2.0h-2.0zM46.90,143.61h2.0v2.0h-2.0zM47.60,142.56h2.0v2.0h-2.0zM48.30,141.45h2.0v2.0h-2.0zM49.00,140.29h2.0v2.0h-2.0zM49.70,139.07h2.0v2.0h-2.0zM50.40,137.81h2.0v2.0h-2.0zM51.10,136.49h2.0v2.0h-2.0zM51.80,135.13h2.0v2.0h-2.0zM52.50,133.71h2.0v2.0h-2.0zM53.20,132.25h2.0v2.0h-2.0zM53.90,130.75h2.0v2.0h-2.0zM54.60,129.20h2.0v2.0h-2.0zM55.30,127.61h2.0v2.0h-2.0zM56.00,125.98h2.0v2.0h-2.0zM56.70,124.31h2.0v2.0h-2.0zM57.40,122.61h2.0v2.0h-2.0zM58.10,120.87h2.0v2.0h-2.0zM58.80,119.10h2.0v2.0h-2.0zM59.50,117.31h2.0v2.0h-2.0zM60.20,115.49h2.0v2.0h-2.0zM60.90,113.64h2.0v2.0h-2.0zM61.60,111.77h2.0v2.0h-2.0zM62.30,109.89h2.0v2.0h-2.0zM63.00,107.98h2.0v2.0h-2.0zM63.70,106.07h2.0v2.0h-2.0zM64.40,104.14h2.0v2.0h-2.0zM65.10,102.22h2.0v2.0h-2.0zM65.80,100.30h2.0v2.0h-2.0zM66.50,98.38h2.0v2.0h-2.0zM67.20,96.47h2.0v2.0h-2.0zM67.90,94.58h2.0v2.0h-2.0zM68.60,92.69h2.0v2.0h-2.0zM69.30,90.82h2.0v2.0h-2.0zM70.00,88.96h2.0v2.0h-2.0zM70.70,87.12h2.0v2.0h-2.0zM71.40,85.29h2.0v2.0h-2.0zM72.10,83.47h2.0v2.0h-2.0zM72.80,81.67h2.0v2.0h-2.0zM73.50,79.88h2.0v2.0h-2.0zM74.20,78.11h2.0v2.0h-2.0zM74.90,76.36h2.0v2.0h-2.0zM75.60,74.62h2.0v2.0h-2.0zM76.30,72.91h2.0v2.0h-2.0zM77.00,71.21h2.0v2.0h-2.0zM77.70,69.53h2.0v2.0h-2.0zM78.40,67.87h2.0v2.0h-2.0zM79.10,66.23h2.0v2.0h-2.0zM79.80,64.61h2.0v2.0h-2.0zM80.50,63.02h2.0v2.0h-2.0zM81.20,61.44h2.0v2.0h-2.0zM81.90,59.89h2.0v2.0h-2.0zM82.60,58.36h2.0v2.0h-2.0zM83.30,56.86h2.0v2.0h-2.0zM84.00,55.38h2.0v2.0h-2.0zM84.70,53.93h2.0v2.0h-2.0zM85.40,52.50h2.0v2.0h-2.0zM86.10,51.12h2.0v2.0h-2.0zM86.80,49.77h2.0v2.0h-2.0zM87.50,48.46h2.0v2.0h-2.0zM88.20,47.17h2.0v2.0h-2.0zM88.90,45.91h2.0v2.0h-2.0zM89.60,44.67h2.0v2.0h-2.0zM90.30,43.45h2.0v2.0h-2.0zM91.00,42.24h2.0v2.0h-2.0zM91.70,41.05h2.0v2.0h-2.0zM92.40,39.88h2.0v2.0h-2.0zM93.10,38.73h2.0v2.0h-2.0zM93.80,37.61h2.0v2.0h-2.0zM94.50,36.50h2.0v2.0h-2.0zM95.20,35.43h2.0v2.0h-2.0zM95.90,34.39h2.0v2.0h-2.0zM96.60,33.39h2.0v2.0h-2.0zM97.30,32.43h2.0v2.0h-2.0zM98.00,31.52h2.0v2.0h-2.0zM98.70,30.67h2.0v2.0h-2.0zM99.40,29.87h2.0v2.0h-2.0zM100.10,29.13h2.0v2.0h-2.0zM100.80,28.44h2.0v2.0h-2.0zM101.50,27.80h2.0v2.0h-2.0zM102.20,27.21h2.0v2.0h-2.0zM102.90,26.68h2.0v2.0h-2.0zM103.60,26.20h2.0v2.0h-2.0zM104.30,25.78h2.0v2.0h-2.0zM105.00,25.41h2.0v2.0h-2.0zM105.70,25.08h2.0v2.0h-2.0zM106.40,24.80h2.0v2.0h-2.0zM107.10,24.54h2.0v2.0h-2.0zM107.80,24.32h2.0v2.0h-2.0zM108.50,24.12h2.0v2.0h-2.0zM109.20,23.94h2.0v2.0h-2.0zM109.90,23.78h2.0v2.0h-2.0zM110.60,23.63h2.0v2.0h-2.0zM111.30,23.50h2.0v2.0h-2.0zM112.00,23.38h2.0v2.0h-2.0zM112.70,23.27h2.0v2.0h-2.0zM113.40,23.18h2.0v2.0h-2.0zM114.10,23.10h2.0v2.0h-2.0zM114.80,23.03h2.0v2.0h-2.0zM115.50,22.97h2.0v2.0h-2.0zM116.20,22.92h2.0v2.0h-2.0zM116.90,22.88h2.0v2.0h-2.0zM117.60,22.86h2.0v2.0h-2.0zM118.30,22.84h2.0v2.0h-2.0zM119.00,22.83h2.0v2.0h-2.0zM119.70,22.84h2.0v2.0h-2.0zM120.40,22.85h2.0v2.0h-2.0zM121.10,22.86h2.0v2.0h-2.0zM121.80,22.89h2.0v2.0h-2.0zM122.50,22.92h2.0v2.0h-2.0zM123.20,22.96h2.0v2.0h-2.0zM123.90,23.01h2.0v2.0h-2.0zM124.60,23.06h2.0v2.0h-2.0zM125.30,23.12h2.0v2.0h-2.0zM126.00,23.18h2.0v2.0h-2.0zM126.70,23.25h2.0v2.0h-2.0zM127.40,23.32h2.0v2.0h-2.0zM128.10,23.39h2.0v2.0h-2.0zM128.80,23.47h2.0v2.0h-2.0zM129.50,23.55h2.0v2.0h-2.0zM130.20,23.64h2.0v2.0h-2.0zM130.90,23.72h2.0v2.0h-2.0zM131.60,23.81h2.0v2.0h-2.0zM132.30,23.90h2.0v2.0h-2.0zM133.00,23.99h2.0v2.0h-2.0zM133.70,24.07h2.0v2.0h-2.0zM134.40,24.16h2.0v2.0h-2.0zM135.10,24.25h2.0v2.0h-2.0zM135.80,24.34h2.0v2.0h-2.0zM136.50,24.43h2.0v2.0h-2.0zM137.20,24.52h2.0v2.0h-2.0zM137.90,24.61h2.0v2.0h-2.0zM138.60,24.70h2.0v2.0h-2.0zM139.30,24.79h2.0v2.0h-2.0zM140.00,24.88h2.0v2.0h-2.0zM140.70,24.98h2.0v2.0h-2.0zM141.40,25.07h2.0v2.0h-2.0zM142.10,25.17h2.0v2.0h-2.0zM142.80,25.27h2.0v2.0h-2.0zM143.50,25.37h2.0v2.0h-2.0zM144.20,25.47h2.0v2.0h-2.0zM144.90,25.57h2.0v2.0h-2.0zM145.60,25.68h2.0v2.0h-2.0zM146.30,25.79h2.0v2.0h-2.0zM147.00,25.90h2.0v2.0h-2.0zM147.70,26.02h2.0v2.0h-2.0zM148.40,26.14h2.0v2.0h-2.0zM149.10,26.26h2.0v2.0h-2.0zM149.80,26.38h2.0v2.0h-2.0zM150.50,26.51h2.0v2.0h-2.0zM151.20,26.65h2.0v2.0h-2.0zM151.90,26.78h2.0v2.0h-2.0zM152.60,26.93h2.0v2.0h-2.0zM153.30,27.07h2.0v2.0h-2.0zM154.00,27.22h2.0v2.0h-2.0zM154.70,27.38h2.0v2.0h-2.0zM155.40,27.54h2.0v2.0h-2.0zM156.10,27.70h2.0v2.0h-2.0zM156.80,27.88h2.0v2.0h-2.0zM157.50,28.05h2.0v2.0h-2.0zM158.20,28.23h2.0v2.0h-2.0zM158.90,28.42h2.0v2.0h-2.0zM159.60,28.62h2.0v2.0h-2.0zM160.30,28.82h2.0v2.0h-2.0zM161.00,29.02h2.0v2.0h-2.0zM161.70,29.24h2.0v2.0h-2.0zM162.40,29.46h2.0v2.0h-2.0z" fill="#b4c03c"/>
<path d="M38.50,152.94h2.0v2.0h-2.0zM39.20,152.52h2.0v2.0h-2.0zM39.90,152.05h2.0v2.0h-2.0zM40.60,151.54h2.0v2.0h-2.0zM41.30,150.98h2.0v2.0h-2.0zM42.00,150.38h2.0v2.0h-2.0zM42.70,149.73h2.0v2.0h-2.0zM43.40,149.04h2.0v2.0h-2.0zM44.10,148.31h2.0v2.0h-2.0zM44.80,147.53h2.0v2.0h-2.0zM45.50,146.71h2.0v2.0h-2.0zM46.20,145.85h2.0v2.0h-2.0zM46.90,144.94h2.0v2.0h-2.0zM47.60,143.99h2.0v2.0h-2.0zM48.30,143.00h2.0v2.0h-2.0zM49.00,141.97h2.0v2.0h-2.0zM49.70,140.90h2.0v2.0h-2.0zM50.40,139.79h2.0v2.0h-2.0zM51.10,138.64h2.0v2.0h-2.0zM51.80,137.44h2.0v2.0h-2.0zM52.50,136.21h2.0v2.0h-2.0zM53.20,134.94h2.0v2.0h-2.0zM53.90,133.63h2.0v2.0h-2.0zM54.60,132.28h2.0v2.0h-2.0zM55.30,130.89h2.0v2.0h-2.0zM56.00,129.47h2.0v2.0h-2.0zM56.70,128.01h2.0v2.0h-2.0zM57.40,126.51h2.0v2.0h-2.0zM58.10,124.98h2.0v2.0h-2.0zM58.80,123.42h2.0v2.0h-2.0zM59.50,121.82h2.0v2.0h-2.0zM60.20,120.20h2.0v2.0h-2.0zM60.90,118.54h2.0v2.0h-2.0zM61.60,116.85h2.0v2.0h-2.0zM62.30,115.13h2.0v2.0h-2.0zM63.00,113.39h2.0v2.0h-2.0zM63.70,111.62h2.0v2.0h-2.0zM64.40,109.83h2.0v2.0h-2.0zM65.10,108.02h2.0v2.0h-2.0zM65.80,106.19h2.0v2.0h-2.0zM66.50,104.35h2.0v2.0h-2.0zM67.20,102.50h2.0v2.0h-2.0zM67.90,100.65h2.0v2.0h-2.0zM68.60,98.78h2.0v2.0h-2.0zM69.30,96.91h2.0v2.0h-2.0zM70.00,95.04h2.0v2.0h-2.0zM70.70,93.16h2.0v2.0h-2.0zM71.40,91.28h2.0v2.0h-2.0zM72.10,89.40h2.0v2.0h-2.0zM72.80,87.52h2.0v2.0h-2.0zM73.50,85.64h2.0v2.0h-2.0zM74.20,83.76h2.0v2.0h-2.0zM74.90,81.89h2.0v2.0h-2.0zM75.60,80.02h2.0v2.0h-2.0zM76.30,78.16h2.0v2.0h-2.0zM77.00,76.31h2.0v2.0h-2.0zM77.70,74.46h2.0v2.0h-2.0zM78.40,72.62h2.0v2.0h-2.0zM79.10,70.80h2.0v2.0h-2.0zM79.80,68.99h2.0v2.0h-2.0zM80.50,67.19h2.0v2.0h-2.0zM81.20,65.40h2.0v2.0h-2.0zM81.90,63.63h2.0v2.0h-2.0zM82.60,61.88h2.0v2.0h-2.0zM83.30,60.15h2.0v2.0h-2.0zM84.00,58.44h2.0v2.0h-2.0zM84.70,56.74h2.0v2.0h-2.0zM85.40,55.07h2.0v2.0h-2.0zM86.10,53.43h2.0v2.0h-2.0zM86.80,51.82h2.0v2.0h-2.0zM87.50,50.24h2.0v2.0h-2.0zM88.20,48.69h2.0v2.0h-2.0zM88.90,47.16h2.0v2.0h-2.0zM89.60,45.67h2.0v2.0h-2.0zM90.30,44.20h2.0v2.0h-2.0zM91.00,42.76h2.0v2.0h-2.0zM91.70,41.35h2.0v2.0h-2.0zM92.40,39.97h2.0v2.0h-2.0zM93.10,38.63h2.0v2.0h-2.0zM93.80,37.33h2.0v2.0h-2.0zM94.50,36.06h2.0v2.0h-2.0zM95.20,34.84h2.0v2.0h-2.0zM95.90,33.67h2.0v2.0h-2.0zM96.60,32.54h2.0v2.0h-2.0zM97.30,31.46h2.0v2.0h-2.0zM98.00,30.44h2.0v2.0h-2.0zM98.70,29.48h2.0v2.0h-2.0zM99.40,28.57h2.0v2.0h-2.0zM100.10,27.73h2.0v2.0h-2.0zM100.80,26.94h2.0v2.0h-2.0zM101.50,26.22h2.0v2.0h-2.0zM102.20,25.55h2.0v2.0h-2.0zM102.90,24.95h2.0v2.0h-2.0zM103.60,24.41h2.0v2.0h-2.0zM104.30,23.94h2.0v2.0h-2.0zM105.00,23.52h2.0v2.0h-2.0zM105.70,23.16h2.0v2.0h-2.0zM106.40,22.84h2.0v2.0h-2.0zM107.10,22.56h2.0v2.0h-2.0zM107.80,22.31h2.0v2.0h-2.0zM108.50,22.10h2.0v2.0h-2.0zM109.20,21.90h2.0v2.0h-2.0zM109.90,21.72h2.0v2.0h-2.0zM110.60,21.56h2.0v2.0h-2.0zM111.30,21.41h2.0v2.0h-2.0zM112.00,21.28h2.0v2.0h-2.0zM112.70,21.17h2.0v2.0h-2.0zM113.40,21.07h2.0v2.0h-2.0zM114.10,20.98h2.0v2.0h-2.0zM114.80,20.90h2.0v2.0h-2.0zM115.50,20.84h2.0v2.0h-2.0zM116.20,20.79h2.0v2.0h-2.0zM116.90,20.75h2.0v2.0h-2.0zM117.60,20.72h2.0v2.0h-2.0zM118.30,20.70h2.0v2.0h-2.0zM119.00,20.69h2.0v2.0h-2.0zM119.70,20.70h2.0v2.0h-2.0zM120.40,20.71h2.0v2.0h-2.0zM121.10,20.73h2.0v2.0h-2.0zM121.80,20.76h2.0v2.0h-2.0zM122.50,20.79h2.0v2.0h-2.0zM123.20,20.84h2.0v2.0h-2.0zM123.90,20.88h2.0v2.0h-2.0zM124.60,20.94h2.0v2.0h-2.0zM125.30,21.00h2.0v2.0h-2.0zM126.00,21.07h2.0v2.0h-2.0zM126.70,21.14h2.0v2.0h-2.0zM127.40,21.22h2.0v2.0h-2.0zM128.10,21.30h2.0v2.0h-2.0zM128.80,21.38h2.0v2.0h-2.0zM129.50,21.47h2.0v2.0h-2.0zM130.20,21.55h2.0v2.0h-2.0zM130.90,21.64h2.0v2.0h-2.0zM131.60,21.74h2.0v2.0h-2.0zM132.30,21.83h2.0v2.0h-2.0zM133.00,21.92h2.0v2.0h-2.0zM133.70,22.01h2.0v2.0h-2.0zM134.40,22.10h2.0v2.0h-2.0zM135.10,22.19h2.0v2.0h-2.0zM135.80,22.29h2.0v2.0h-2.0zM136.50,22.38h2.0v2.0h-2.0zM137.20,22.47h2.0v2.0h-2.0zM137.90,22.56h2.0v2.0h-2.0zM138.60,22.65h2.0v2.0h-2.0zM139.30,22.74h2.0v2.0h-2.0zM140.00,22.83h2.0v2.0h-2.0zM140.70,22.92h2.0v2.0h-2.0zM141.40,23.02h2.0v2.0h-2.0zM142.10,23.11h2.0v2.0h-2.0zM142.80,23.21h2.0v2.0h-2.0zM143.50,23.31h2.0v2.0h-2.0zM144.20,23.41h2.0v2.0h-2.0zM144.90,23.52h2.0v2.0h-2.0zM145.60,23.63h2.0v2.0h-2.0zM146.30,23.74h2.0v2.0h-2.0zM147.00,23.85h2.0v2.0h-2.0zM147.70,23.97h2.0v2.0h-2.0zM148.40,24.09h2.0v2.0h-2.0zM149.10,24.21h2.0v2.0h-2.0zM149.80,24.34h2.0v2.0h-2.0zM150.50,24.47h2.0v2.0h-2.0zM151.20,24.61h2.0v2.0h-2.0zM151.90,24.75h2.0v2.0h-2.0zM152.60,24.90h2.0v2.0h-2.0zM153.30,25.05h2.0v2.0h-2.0zM154.00,25.21h2.0v2.0h-2.0zM154.70,25.37h2.0v2.0h-2.0zM155.40,25.54h2.0v2.0h-2.0zM156.10,25.72h2.0v2.0h-2.0zM156.80,25.90h2.0v2.0h-2.0zM157.50,26.09h2.0v2.0h-2.0zM158.20,26.28h2.0v2.0h-2.0zM158.90,26.48h2.0v2.0h-2.0zM159.60,26.69h2.0v2.0h-2.0zM160.30,26.91h2.0v2.0h-2.0zM161.00,27.13h2.0v2.0h-2.0zM161.70,27.37h2.0v2.0h-2.0zM162.40,27.61h2.0v2.0h-2.0z" fill="#f4894a"/>
<path d="M38.50,154.22h2.0v2.0h-2.0zM39.20,153.69h2.0v2.0h-2.0zM39.90,153.14h2.0v2.0h-2.0zM40.60,152.56h2.0v2.0h-2.0zM41.30,151.96h2.0v2.0h-2.0zM42.00,151.34h2.0v2.0h-2.0zM42.70,150.68h2.0v2.0h-2.0zM43.40,150.01h2.0v2.0h-2.0zM44.10,149.30h2.0v2.0h-2.0zM44.80,148.57h2.0v2.0h-2.0zM45.50,147.81h2.0v2.0h-2.0zM46.20,147.02h2.0v2.0h-2.0zM46.90,146.20h2.0v2.0h-2.0zM47.60,145.35h2.0v2.0h-2.0zM48.30,144.48h2.0v2.0h-2.0zM49.00,143.57h2.0v2.0h-2.0zM49.70,142.63h2.0v2.0h-2.0zM50.40,141.67h2.0v2.0h-2.0zM51.10,140.67h2.0v2.0h-2.0zM51.80,139.64h2.0v2.0h-2.0zM52.50,138.58h2.0v2.0h-2.0zM53.20,137.48h2.0v2.0h-2.0zM53.90,136.35h2.0v2.0h-2.0zM54.60,135.19h2.0v2.0h-2.0zM55.30,134.00h2.0v2.0h-2.0zM56.00,132.77h2.0v2.0h-2.0zM56.70,131.51h2.0v2.0h-2.0zM57.40,130.21h2.0v2.0h-2.0zM58.10,128.87h2.0v2.0h-2.0zM58.80,127.50h2.0v2.0h-2.0zM59.50,126.10h2.0v2.0h-2.0zM60.20,124.66h2.0v2.0h-2.0zM60.90,123.18h2.0v2.0h-2.0zM61.60,121.66h2.0v2.0h-2.0zM62.30,120.10h2.0v2.0h-2.0zM63.00,118.51h2.0v2.0h-2.0zM63.70,116.88h2.0v2.0h-2.0zM64.40,115.21h2.0v2.0h-2.0zM65.10,113.51h2.0v2.0h-2.0zM65.80,111.77h2.0v2.0h-2.0zM66.50,110.01h2.0v2.0h-2.0zM67.20,108.22h2.0v2.0h-2.0zM67.90,106.40h2.0v2.0h-2.0zM68.60,104.56h2.0v2.0h-2.0zM69.30,102.69h2.0v2.0h-2.0zM70.00,100.80h2.0v2.0h-2.0zM70.70,98.89h2.0v2.0h-2.0zM71.40,96.96h2.0v2.0h-2.0zM72.10,95.02h2.0v2.0h-2.0zM72.80,93.07h2.0v2.0h-2.0zM73.50,91.10h2.0v2.0h-2.0zM74.20,89.12h2.0v2.0h-2.0zM74.90,87.13h2.0v2.0h-2.0zM75.60,85.14h2.0v2.0h-2.0zM76.30,83.14h2.0v2.0h-2.0zM77.00,81.14h2.0v2.0h-2.0zM77.70,79.13h2.0v2.0h-2.0zM78.40,77.13h2.0v2.0h-2.0zM79.10,75.13h2.0v2.0h-2.0zM79.80,73.13h2.0v2.0h-2.0zM80.50,71.14h2.0v2.0h-2.0zM81.20,69.15h2.0v2.0h-2.0zM81.90,67.18h2.0v2.0h-2.0zM82.60,65.21h2.0v2.0h-2.0zM83.30,63.26h2.0v2.0h-2.0zM84.00,61.33h2.0v2.0h-2.0zM84.70,59.41h2.0v2.0h-2.0zM85.40,57.51h2.0v2.0h-2.0zM86.10,55.63h2.0v2.0h-2.0zM86.80,53.77h2.0v2.0h-2.0zM87.50,51.94h2.0v2.0h-2.0zM88.20,50.14h2.0v2.0h-2.0zM88.90,48.37h2.0v2.0h-2.0zM89.60,46.63h2.0v2.0h-2.0zM90.30,44.93h2.0v2.0h-2.0zM91.00,43.27h2.0v2.0h-2.0zM91.70,41.65h2.0v2.0h-2.0zM92.40,40.07h2.0v2.0h-2.0zM93.10,38.53h2.0v2.0h-2.0zM93.80,37.05h2.0v2.0h-2.0zM94.50,35.61h2.0v2.0h-2.0zM95.20,34.23h2.0v2.0h-2.0zM95.90,32.90h2.0v2.0h-2.0zM96.60,31.64h2.0v2.0h-2.0zM97.30,30.43h2.0v2.0h-2.0zM98.00,29.28h2.0v2.0h-2.0zM98.70,28.20h2.0v2.0h-2.0zM99.40,27.17h2.0v2.0h-2.0zM100.10,26.22h2.0v2.0h-2.0zM100.80,25.33h2.0v2.0h-2.0zM101.50,24.51h2.0v2.0h-2.0zM102.20,23.77h2.0v2.0h-2.0zM102.90,23.09h2.0v2.0h-2.0zM103.60,22.49h2.0v2.0h-2.0zM104.30,21.96h2.0v2.0h-2.0zM105.00,21.49h2.0v2.0h-2.0zM105.70,21.08h2.0v2.0h-2.0zM106.40,20.73h2.0v2.0h-2.0zM107.10,20.42h2.0v2.0h-2.0zM107.80,20.15h2.0v2.0h-2.0zM108.50,19.91h2.0v2.0h-2.0zM109.20,19.70h2.0v2.0h-2.0zM109.90,19.51h2.0v2.0h-2.0zM110.60,19.33h2.0v2.0h-2.0zM111.30,19.17h2.0v2.0h-2.0zM112.00,19.03h2.0v2.0h-2.0zM112.70,18.90h2.0v2.0h-2.0zM113.40,18.79h2.0v2.0h-2.0zM114.10,18.69h2.0v2.0h-2.0zM114.80,18.61h2.0v2.0h-2.0zM115.50,18.54h2.0v2.0h-2.0zM116.20,18.49h2.0v2.0h-2.0zM116.90,18.45h2.0v2.0h-2.0zM117.60,18.42h2.0v2.0h-2.0zM118.30,18.40h2.0v2.0h-2.0zM119.00,18.39h2.0v2.0h-2.0zM119.70,18.39h2.0v2.0h-2.0zM120.40,18.41h2.0v2.0h-2.0zM121.10,18.43h2.0v2.0h-2.0zM121.80,18.46h2.0v2.0h-2.0zM122.50,18.50h2.0v2.0h-2.0zM123.20,18.54h2.0v2.0h-2.0zM123.90,18.60h2.0v2.0h-2.0zM124.60,18.66h2.0v2.0h-2.0zM125.30,18.73h2.0v2.0h-2.0zM126.00,18.80h2.0v2.0h-2.0zM126.70,18.87h2.0v2.0h-2.0zM127.40,18.96h2.0v2.0h-2.0zM128.10,19.04h2.0v2.0h-2.0zM128.80,19.13h2.0v2.0h-2.0zM129.50,19.22h2.0v2.0h-2.0zM130.20,19.31h2.0v2.0h-2.0zM130.90,19.41h2.0v2.0h-2.0zM131.60,19.50h2.0v2.0h-2.0zM132.30,19.60h2.0v2.0h-2.0zM133.00,19.70h2.0v2.0h-2.0zM133.70,19.79h2.0v2.0h-2.0zM134.40,19.89h2.0v2.0h-2.0zM135.10,19.98h2.0v2.0h-2.0zM135.80,20.07h2.0v2.0h-2.0zM136.50,20.16h2.0v2.0h-2.0zM137.20,20.25h2.0v2.0h-2.0zM137.90,20.34h2.0v2.0h-2.0zM138.60,20.43h2.0v2.0h-2.0zM139.30,20.53h2.0v2.0h-2.0zM140.00,20.62h2.0v2.0h-2.0zM140.70,20.71h2.0v2.0h-2.0zM141.40,20.81h2.0v2.0h-2.0zM142.10,20.90h2.0v2.0h-2.0zM142.80,21.00h2.0v2.0h-2.0zM143.50,21.10h2.0v2.0h-2.0zM144.20,21.20h2.0v2.0h-2.0zM144.90,21.30h2.0v2.0h-2.0zM145.60,21.41h2.0v2.0h-2.0zM146.30,21.52h2.0v2.0h-2.0zM147.00,21.64h2.0v2.0h-2.0zM147.70,21.76h2.0v2.0h-2.0zM148.40,21.88h2.0v2.0h-2.0zM149.10,22.01h2.0v2.0h-2.0zM149.80,22.14h2.0v2.0h-2.0zM150.50,22.27h2.0v2.0h-2.0zM151.20,22.41h2.0v2.0h-2.0zM151.90,22.56h2.0v2.0h-2.0zM152.60,22.71h2.0v2.0h-2.0zM153.30,22.87h2.0v2.0h-2.0zM154.00,23.04h2.0v2.0h-2.0zM154.70,23.21h2.0v2.0h-2.0zM155.40,23.39h2.0v2.0h-2.0zM156.10,23.57h2.0v2.0h-2.0zM156.80,23.77h2.0v2.0h-2.0zM157.50,23.97h2.0v2.0h-2.0zM158.20,24.18h2.0v2.0h-2.0zM158.90,24.39h2.0v2.0h-2.0zM159.60,24.62h2.0v2.0h-2.0zM160.30,24.86h2.0v2.0h-2.0zM161.00,25.10h2.0v2.0h-2.0zM161.70,25.35h2.0v2.0h-2.0zM162.40,25.62h2.0v2.0h-2.0z" fill="#ff3c3c"/>
<rect x="36" y="4.5" width="128" height="162" fill="none" stroke="#262626" stroke-width="1"/>
<line x1="37.9" y1="166.5" x2="37.9" y2="170.5" stroke="#262626" stroke-width="1"/>
<line x1="69.4" y1="166.5" x2="69.4" y2="170.5" stroke="#262626" stroke-width="1"/>
<line x1="100.9" y1="166.5" x2="100.9" y2="170.5" stroke="#262626" stroke-width="1"/>
<line x1="132.4" y1="166.5" x2="132.4" y2="170.5" stroke="#262626" stroke-width="1"/>
<line x1="163.9" y1="166.5" x2="163.9" y2="170.5" stroke="#262626" stroke-width="1"/>
<line x1="53.65" y1="166.5" x2="53.65" y2="168.7" stroke="#262626" stroke-width="1"/>
<line x1="85.15" y1="166.5" x2="85.15" y2="168.7" stroke="#262626" stroke-width="1"/>
<line x1="116.65" y1="166.5" x2="116.65" y2="168.7" stroke="#262626" stroke-width="1"/>
<line x1="148.15" y1="166.5" x2="148.15" y2="168.7" stroke="#262626" stroke-width="1"/>
<text transform="translate(37.9,180.2) scale(1,1.2)" font-size="7.6" text-anchor="middle" font-weight="normal" font-style="normal" fill="#1e1e1e" stroke="#1e1e1e" >0</text>
<text transform="translate(69.4,180.2) scale(1,1.2)" font-size="7.6" text-anchor="middle" font-weight="normal" font-style="normal" fill="#1e1e1e" stroke="#1e1e1e" >4</text>
<text transform="translate(100.9,180.2) scale(1,1.2)" font-size="7.6" text-anchor="middle" font-weight="normal" font-style="normal" fill="#1e1e1e" stroke="#1e1e1e" >8</text>
<text transform="translate(132.4,180.2) scale(1,1.2)" font-size="7.6" text-anchor="middle" font-weight="normal" font-style="normal" fill="#1e1e1e" stroke="#1e1e1e" >12</text>
<text transform="translate(163.9,180.2) scale(1,1.2)" font-size="7.6" text-anchor="middle" font-weight="normal" font-style="normal" fill="#1e1e1e" stroke="#1e1e1e" >16</text>
<line x1="32.2" y1="166.2" x2="36" y2="166.2" stroke="#262626" stroke-width="1"/>
<line x1="32.2" y1="112.3" x2="36" y2="112.3" stroke="#262626" stroke-width="1"/>
<line x1="32.2" y1="58.4" x2="36" y2="58.4" stroke="#262626" stroke-width="1"/>
<line x1="32.2" y1="4.5" x2="36" y2="4.5" stroke="#262626" stroke-width="1"/>
<line x1="33.8" y1="139.25" x2="36" y2="139.25" stroke="#262626" stroke-width="1"/>
<line x1="33.8" y1="85.35" x2="36" y2="85.35" stroke="#262626" stroke-width="1"/>
<line x1="33.8" y1="31.45" x2="36" y2="31.45" stroke="#262626" stroke-width="1"/>
<text transform="translate(29.4,168.58) scale(1,1.2)" font-size="7.6" text-anchor="end" font-weight="normal" font-style="normal" fill="#1e1e1e" stroke="#1e1e1e" >8</text>
<text transform="translate(29.4,114.68) scale(1,1.2)" font-size="7.6" text-anchor="end" font-weight="normal" font-style="normal" fill="#1e1e1e" stroke="#1e1e1e" >12</text>
<text transform="translate(29.4,60.78) scale(1,1.2)" font-size="7.6" text-anchor="end" font-weight="normal" font-style="normal" fill="#1e1e1e" stroke="#1e1e1e" >16</text>
<text transform="translate(29.4,6.88) scale(1,1.2)" font-size="7.6" text-anchor="end" font-weight="normal" font-style="normal" fill="#1e1e1e" stroke="#1e1e1e" >20</text>
<line x1="122.8" y1="98.7" x2="141.6" y2="98.7" stroke="#ff3c3c" stroke-width="1.2"/>
<rect x="130.9" y="97.7" width="2" height="2" fill="#ff3c3c"/>
<text transform="translate(143.6,101.6) scale(1,1.2)" font-size="8" text-anchor="start" font-weight="normal" font-style="normal" fill="#1e1e1e" stroke="#1e1e1e" >0 T</text>
<line x1="122.8" y1="108.73" x2="141.6" y2="108.73" stroke="#f4894a" stroke-width="1.2"/>
<rect x="130.9" y="107.73" width="2" height="2" fill="#f4894a"/>
<text transform="translate(143.6,111.63) scale(1,1.2)" font-size="8" text-anchor="start" font-weight="normal" font-style="normal" fill="#1e1e1e" stroke="#1e1e1e" >4 T</text>
<line x1="122.8" y1="118.76" x2="141.6" y2="118.76" stroke="#b4c03c" stroke-width="1.2"/>
<rect x="130.9" y="117.76" width="2" height="2" fill="#b4c03c"/>
<text transform="translate(143.6,121.66) scale(1,1.2)" font-size="8" text-anchor="start" font-weight="normal" font-style="normal" fill="#1e1e1e" stroke="#1e1e1e" >6 T</text>
<line x1="122.8" y1="128.79" x2="141.6" y2="128.79" stroke="#5ef040" stroke-width="1.2"/>
<rect x="130.9" y="127.79" width="2" height="2" fill="#5ef040"/>
<text transform="translate(143.6,131.69) scale(1,1.2)" font-size="8" text-anchor="start" font-weight="normal" font-style="normal" fill="#1e1e1e" stroke="#1e1e1e" >8 T</text>
<line x1="122.8" y1="138.82" x2="141.6" y2="138.82" stroke="#50a8ff" stroke-width="1.2"/>
<rect x="130.9" y="137.82" width="2" height="2" fill="#50a8ff"/>
<text transform="translate(143.6,141.72) scale(1,1.2)" font-size="8" text-anchor="start" font-weight="normal" font-style="normal" fill="#1e1e1e" stroke="#1e1e1e" >10 T</text>
<line x1="122.8" y1="148.85" x2="141.6" y2="148.85" stroke="#7a3cf0" stroke-width="1.2"/>
<rect x="130.9" y="147.85" width="2" height="2" fill="#7a3cf0"/>
<text transform="translate(143.6,151.75) scale(1,1.2)" font-size="8" text-anchor="start" font-weight="normal" font-style="normal" fill="#1e1e1e" stroke="#1e1e1e" >11 T</text>
<line x1="122.8" y1="158.88" x2="141.6" y2="158.88" stroke="#c850ff" stroke-width="1.2"/>
<rect x="130.9" y="157.88" width="2" height="2" fill="#c850ff"/>
<text transform="translate(143.6,161.78) scale(1,1.2)" font-size="8" text-anchor="start" font-weight="normal" font-style="normal" fill="#1e1e1e" stroke="#1e1e1e" >12 T</text>
<text transform="translate(99.8,14.7) scale(1,1.2)" font-size="8" text-anchor="middle" font-weight="normal" font-style="normal" fill="#1e1e1e" stroke="#1e1e1e" ><tspan font-style="italic">P</tspan> = 0.5 GPa</text>
<text transform="translate(100.3,194.7) scale(1,1.14)" font-size="10.1" text-anchor="middle" fill="#1e1e1e" stroke="#1e1e1e"><tspan font-style="italic">T</tspan> (K)</text>
<text transform="translate(10.9,85.3) rotate(-90) scale(1,1.14)" x="0" y="0" font-size="10.1" text-anchor="middle" fill="#1e1e1e" stroke="#1e1e1e"><tspan font-style="italic">R</tspan> (mΩ)</text>
<text transform="translate(1.2,9.2) scale(1,1.0)" font-size="9.8" fill="#1e1e1e" stroke="#1e1e1e">(a)</text>
<path d="M221.2,129.19 L221.51,126.96 L221.82,124.78 L222.13,122.66 L222.44,120.59 L222.75,118.57 L223.06,116.59 L223.37,114.67 L223.68,112.79 L223.99,110.95 L224.3,109.15 L224.61,107.39 L224.92,105.67 L225.23,103.98 L225.54,102.33 L225.85,100.71 L226.16,99.13 L226.47,97.57 L226.78,96.03 L227.1,94.52 L227.41,93.04 L227.72,91.58 L228.03,90.13 L228.34,88.7 L228.65,87.29 L228.96,85.9 L229.27,84.52 L229.58,83.14 L229.89,81.78 L230.2,80.42 L230.51,79.07 L230.82,77.72 L231.13,76.38 L231.44,75.03 L231.75,73.68 L232.06,72.33 L232.37,70.98 L232.68,69.63 L232.99,68.28 L233.3,66.92 L233.61,65.57 L233.92,64.22 L234.23,62.87 L234.54,61.53 L234.85,60.18 L235.16,58.85 L235.47,57.51 L235.78,56.18 L236.09,54.86 L236.4,53.55 L236.71,52.24 L237.02,50.94 L237.33,49.65 L237.64,48.37 L237.95,47.1 L238.27,45.85 L238.58,44.62 L238.89,43.41 L239.2,42.23 L239.51,41.07 L239.82,39.95 L240.13,38.87 L240.44,37.83 L240.75,36.83 L241.06,35.89 L241.37,34.99 L241.68,34.15 L241.99,33.36 L242.3,32.64 L242.61,31.99 L242.92,31.4 L243.23,30.89 L243.54,30.45 L243.85,30.09 L244.16,29.82 L244.47,29.64 L244.78,29.54 L245.09,29.54 L245.4,29.63 L245.71,29.81 L246.02,30.08 L246.33,30.44 L246.64,30.89 L246.95,31.42 L247.26,32.03 L247.57,32.73 L247.88,33.5 L248.19,34.35 L248.5,35.28 L248.81,36.27 L249.12,37.32 L249.44,38.43 L249.75,39.59 L250.06,40.78 L250.37,42.02 L250.68,43.28 L250.99,44.56 L251.3,45.85 L251.61,47.16 L251.92,48.46 L252.23,49.76 L252.54,51.06 L252.85,52.36 L253.16,53.66 L253.47,54.97 L253.78,56.29 L254.09,57.63 L254.4,58.99 L254.71,60.37 L255.02,61.79 L255.33,63.23 L255.64,64.71 L255.95,66.24 L256.26,67.81 L256.57,69.42 L256.88,71.09 L257.19,72.82 L257.5,74.59 L257.81,76.39 L258.12,78.21 L258.43,80.05 L258.74,81.9 L259.05,83.73 L259.36,85.55 L259.67,87.35 L259.98,89.1 L260.29,90.8 L260.61,92.43 L260.92,93.99 L261.23,95.47 L261.54,96.86 L261.85,98.17 L262.16,99.41 L262.47,100.59 L262.78,101.7 L263.09,102.76 L263.4,103.78 L263.71,104.75 L264.02,105.69 L264.33,106.6 L264.64,107.48 L264.95,108.35 L265.26,109.21 L265.57,110.05 L265.88,110.88 L266.19,111.7 L266.5,112.5 L266.81,113.29 L267.12,114.06 L267.43,114.81 L267.74,115.55 L268.05,116.27 L268.36,116.98 L268.67,117.66 L268.98,118.33 L269.29,118.98 L269.6,119.62 L269.91,120.23 L270.22,120.83 L270.53,121.4 L270.84,121.96 L271.15,122.51 L271.46,123.04 L271.77,123.55 L272.09,124.05 L272.4,124.53 L272.71,125 L273.02,125.46 L273.33,125.91 L273.64,126.34 L273.95,126.76 L274.26,127.18 L274.57,127.58 L274.88,127.98 L275.19,128.36 L275.5,128.74 L275.81,129.11 L276.12,129.48 L276.43,129.84 L276.74,130.19 L277.05,130.54 L277.36,130.89 L277.67,131.23 L277.98,131.56 L278.29,131.9 L278.6,132.23 L278.91,132.55 L279.22,132.87 L279.53,133.19 L279.84,133.5 L280.15,133.81 L280.46,134.12 L280.77,134.42 L281.08,134.72 L281.39,135.02 L281.7,135.31 L282.01,135.6 L282.32,135.88 L282.63,136.16 L282.94,136.44 L283.26,136.72 L283.57,136.99 L283.88,137.26 L284.19,137.52 L284.5,137.78 L284.81,138.04 L285.12,138.29 L285.43,138.55 L285.74,138.79 L286.05,139.04 L286.36,139.28 L286.67,139.52 L286.98,139.76 L287.29,139.99 L287.6,140.22 L287.91,140.45 L288.22,140.67 L288.53,140.89 L288.84,141.11 L289.15,141.33 L289.46,141.54 L289.77,141.75 L290.08,141.96 L290.39,142.16 L290.7,142.37 L291.01,142.57 L291.32,142.76 L291.63,142.96 L291.94,143.15 L292.25,143.34 L292.56,143.53 L292.87,143.72 L293.18,143.9 L293.49,144.08 L293.8,144.26 L294.11,144.43 L294.43,144.61 L294.74,144.78 L295.05,144.95 L295.36,145.11 L295.67,145.28 L295.98,145.44 L296.29,145.6 L296.6,145.76 L296.91,145.91 L297.22,146.06 L297.53,146.22 L297.84,146.36 L298.15,146.51 L298.46,146.66 L298.77,146.8 L299.08,146.94 L299.39,147.08 L299.7,147.21 L300.01,147.35 L300.32,147.48 L300.63,147.61 L300.94,147.74 L301.25,147.87 L301.56,147.99 L301.87,148.12 L302.18,148.24 L302.49,148.36 L302.8,148.47 L303.11,148.59 L303.42,148.7 L303.73,148.82 L304.04,148.93 L304.35,149.03 L304.66,149.14 L304.97,149.25 L305.28,149.35 L305.59,149.45 L305.91,149.55 L306.22,149.65 L306.53,149.75 L306.84,149.84 L307.15,149.93 L307.46,150.03 L307.77,150.12 L308.08,150.21 L308.39,150.29 L308.7,150.38 L309.01,150.46 L309.32,150.55 L309.63,150.63 L309.94,150.71 L310.25,150.79 L310.56,150.87 L310.87,150.94 L311.18,151.02 L311.49,151.09 L311.8,151.16 L312.11,151.23 L312.42,151.3 L312.73,151.37 L313.04,151.44 L313.35,151.5 L313.66,151.57 L313.97,151.63 L314.28,151.69 L314.59,151.75 L314.9,151.81 L315.21,151.87 L315.52,151.93 L315.83,151.99 L316.14,152.04 L316.45,152.1 L316.76,152.15 L317.08,152.2 L317.39,152.26 L317.7,152.31 L318.01,152.36 L318.32,152.4 L318.63,152.45 L318.94,152.5 L319.25,152.55 L319.56,152.59 L319.87,152.63 L320.18,152.68 L320.49,152.72 L320.8,152.76 L321.11,152.8 L321.42,152.85 L321.73,152.88 L322.04,152.92 L322.35,152.96 L322.66,153 L322.97,153.04 L323.28,153.07 L323.59,153.11 L323.9,153.14 L324.21,153.18 L324.52,153.21 L324.83,153.25 L325.14,153.28 L325.45,153.31 L325.76,153.34 L326.07,153.38 L326.38,153.41 L326.69,153.44 L327,153.47 L327.31,153.5 L327.62,153.53 L327.93,153.56 L328.25,153.58 L328.56,153.61 L328.87,153.64 L329.18,153.67 L329.49,153.7 L329.8,153.72 L330.11,153.75 L330.42,153.78 L330.73,153.8 L331.04,153.83 L331.35,153.86 L331.66,153.88 L331.97,153.91 L332.28,153.93 L332.59,153.96 L332.9,153.99 L333.21,154.01 L333.52,154.04 L333.83,154.06 L334.14,154.09 L334.45,154.11 L334.76,154.14 L335.07,154.17 L335.38,154.19 L335.69,154.22 L336,154.24 L336.31,154.27 L336.62,154.3 L336.93,154.32 L337.24,154.35 L337.55,154.38 L337.86,154.4 L338.17,154.43 L338.48,154.46 L338.79,154.49 L339.1,154.51 L339.42,154.54 L339.73,154.57 L340.04,154.6 L340.35,154.63 L340.66,154.66 L340.97,154.69 L341.28,154.72 L341.59,154.75 L341.9,154.78 L342.21,154.82 L342.52,154.85 L342.83,154.88 L343.14,154.91 L343.45,154.95 L343.76,154.98 L344.07,155.02 L344.38,155.05 L344.69,155.09 L345,155.13" fill="none" stroke="#c050ff" stroke-width="1.6" stroke-linejoin="round" stroke-linecap="round" />
<path d="M221.2,128.28 L221.51,125.62 L221.82,123.04 L222.13,120.51 L222.44,118.06 L222.75,115.66 L223.06,113.33 L223.37,111.05 L223.68,108.83 L223.99,106.67 L224.3,104.55 L224.61,102.49 L224.92,100.47 L225.23,98.5 L225.54,96.58 L225.85,94.69 L226.16,92.85 L226.47,91.04 L226.78,89.27 L227.1,87.53 L227.41,85.82 L227.72,84.14 L228.03,82.48 L228.34,80.85 L228.65,79.25 L228.96,77.66 L229.27,76.09 L229.58,74.54 L229.89,73.01 L230.2,71.48 L230.51,69.97 L230.82,68.46 L231.13,66.96 L231.44,65.46 L231.75,63.96 L232.06,62.46 L232.37,60.96 L232.68,59.46 L232.99,57.95 L233.3,56.43 L233.61,54.9 L233.92,53.35 L234.23,51.8 L234.54,50.25 L234.85,48.7 L235.16,47.16 L235.47,45.64 L235.78,44.14 L236.09,42.67 L236.4,41.23 L236.71,39.82 L237.02,38.47 L237.33,37.16 L237.64,35.91 L237.95,34.72 L238.27,33.6 L238.58,32.56 L238.89,31.59 L239.2,30.71 L239.51,29.91 L239.82,29.22 L240.13,28.63 L240.44,28.14 L240.75,27.75 L241.06,27.46 L241.37,27.27 L241.68,27.17 L241.99,27.16 L242.3,27.24 L242.61,27.41 L242.92,27.66 L243.23,27.99 L243.54,28.41 L243.85,28.91 L244.16,29.49 L244.47,30.15 L244.78,30.89 L245.09,31.7 L245.4,32.58 L245.71,33.54 L246.02,34.56 L246.33,35.64 L246.64,36.77 L246.95,37.95 L247.26,39.17 L247.57,40.43 L247.88,41.71 L248.19,43.02 L248.5,44.35 L248.81,45.7 L249.12,47.05 L249.44,48.4 L249.75,49.75 L250.06,51.11 L250.37,52.47 L250.68,53.83 L250.99,55.2 L251.3,56.57 L251.61,57.94 L251.92,59.32 L252.23,60.7 L252.54,62.09 L252.85,63.48 L253.16,64.88 L253.47,66.28 L253.78,67.68 L254.09,69.1 L254.4,70.52 L254.71,71.94 L255.02,73.38 L255.33,74.82 L255.64,76.26 L255.95,77.72 L256.26,79.18 L256.57,80.65 L256.88,82.13 L257.19,83.62 L257.5,85.11 L257.81,86.6 L258.12,88.07 L258.43,89.52 L258.74,90.95 L259.05,92.33 L259.36,93.67 L259.67,94.96 L259.98,96.19 L260.29,97.37 L260.61,98.51 L260.92,99.6 L261.23,100.65 L261.54,101.67 L261.85,102.66 L262.16,103.62 L262.47,104.56 L262.78,105.48 L263.09,106.38 L263.4,107.28 L263.71,108.17 L264.02,109.05 L264.33,109.93 L264.64,110.8 L264.95,111.66 L265.26,112.51 L265.57,113.34 L265.88,114.17 L266.19,114.97 L266.5,115.76 L266.81,116.52 L267.12,117.27 L267.43,117.99 L267.74,118.69 L268.05,119.36 L268.36,120 L268.67,120.61 L268.98,121.19 L269.29,121.75 L269.6,122.28 L269.91,122.79 L270.22,123.27 L270.53,123.73 L270.84,124.18 L271.15,124.6 L271.46,125.01 L271.77,125.4 L272.09,125.77 L272.4,126.13 L272.71,126.48 L273.02,126.82 L273.33,127.15 L273.64,127.48 L273.95,127.79 L274.26,128.11 L274.57,128.41 L274.88,128.72 L275.19,129.02 L275.5,129.33 L275.81,129.64 L276.12,129.95 L276.43,130.26 L276.74,130.58 L277.05,130.91 L277.36,131.23 L277.67,131.56 L277.98,131.9 L278.29,132.23 L278.6,132.57 L278.91,132.91 L279.22,133.25 L279.53,133.59 L279.84,133.93 L280.15,134.27 L280.46,134.61 L280.77,134.95 L281.08,135.29 L281.39,135.62 L281.7,135.96 L282.01,136.29 L282.32,136.61 L282.63,136.93 L282.94,137.25 L283.26,137.56 L283.57,137.87 L283.88,138.17 L284.19,138.47 L284.5,138.75 L284.81,139.03 L285.12,139.31 L285.43,139.57 L285.74,139.83 L286.05,140.08 L286.36,140.32 L286.67,140.55 L286.98,140.77 L287.29,140.99 L287.6,141.2 L287.91,141.4 L288.22,141.6 L288.53,141.79 L288.84,141.97 L289.15,142.16 L289.46,142.33 L289.77,142.51 L290.08,142.68 L290.39,142.84 L290.7,143.01 L291.01,143.17 L291.32,143.33 L291.63,143.5 L291.94,143.65 L292.25,143.81 L292.56,143.97 L292.87,144.12 L293.18,144.27 L293.49,144.43 L293.8,144.58 L294.11,144.73 L294.43,144.87 L294.74,145.02 L295.05,145.16 L295.36,145.31 L295.67,145.45 L295.98,145.59 L296.29,145.73 L296.6,145.87 L296.91,146 L297.22,146.14 L297.53,146.27 L297.84,146.4 L298.15,146.53 L298.46,146.66 L298.77,146.79 L299.08,146.92 L299.39,147.05 L299.7,147.17 L300.01,147.29 L300.32,147.42 L300.63,147.54 L300.94,147.66 L301.25,147.77 L301.56,147.89 L301.87,148.01 L302.18,148.12 L302.49,148.23 L302.8,148.35 L303.11,148.46 L303.42,148.57 L303.73,148.68 L304.04,148.78 L304.35,148.89 L304.66,148.99 L304.97,149.1 L305.28,149.2 L305.59,149.3 L305.91,149.4 L306.22,149.5 L306.53,149.6 L306.84,149.7 L307.15,149.79 L307.46,149.89 L307.77,149.98 L308.08,150.07 L308.39,150.17 L308.7,150.26 L309.01,150.35 L309.32,150.43 L309.63,150.52 L309.94,150.61 L310.25,150.69 L310.56,150.78 L310.87,150.86 L311.18,150.94 L311.49,151.02 L311.8,151.1 L312.11,151.18 L312.42,151.26 L312.73,151.34 L313.04,151.41 L313.35,151.49 L313.66,151.56 L313.97,151.63 L314.28,151.71 L314.59,151.78 L314.9,151.85 L315.21,151.92 L315.52,151.99 L315.83,152.05 L316.14,152.12 L316.45,152.19 L316.76,152.25 L317.08,152.31 L317.39,152.38 L317.7,152.44 L318.01,152.5 L318.32,152.56 L318.63,152.62 L318.94,152.68 L319.25,152.74 L319.56,152.79 L319.87,152.85 L320.18,152.91 L320.49,152.96 L320.8,153.01 L321.11,153.07 L321.42,153.12 L321.73,153.17 L322.04,153.22 L322.35,153.27 L322.66,153.32 L322.97,153.37 L323.28,153.42 L323.59,153.46 L323.9,153.51 L324.21,153.55 L324.52,153.6 L324.83,153.64 L325.14,153.69 L325.45,153.73 L325.76,153.77 L326.07,153.81 L326.38,153.85 L326.69,153.89 L327,153.93 L327.31,153.97 L327.62,154.01 L327.93,154.04 L328.25,154.08 L328.56,154.12 L328.87,154.15 L329.18,154.19 L329.49,154.22 L329.8,154.25 L330.11,154.29 L330.42,154.32 L330.73,154.35 L331.04,154.38 L331.35,154.41 L331.66,154.44 L331.97,154.47 L332.28,154.5 L332.59,154.53 L332.9,154.56 L333.21,154.58 L333.52,154.61 L333.83,154.64 L334.14,154.66 L334.45,154.69 L334.76,154.71 L335.07,154.74 L335.38,154.76 L335.69,154.78 L336,154.81 L336.31,154.83 L336.62,154.85 L336.93,154.87 L337.24,154.89 L337.55,154.92 L337.86,154.94 L338.17,154.96 L338.48,154.98 L338.79,154.99 L339.1,155.01 L339.42,155.03 L339.73,155.05 L340.04,155.07 L340.35,155.08 L340.66,155.1 L340.97,155.12 L341.28,155.13 L341.59,155.15 L341.9,155.16 L342.21,155.18 L342.52,155.19 L342.83,155.21 L343.14,155.22 L343.45,155.24 L343.76,155.25 L344.07,155.26 L344.38,155.28 L344.69,155.29 L345,155.3" fill="none" stroke="#8040f0" stroke-width="1.6" stroke-linejoin="round" stroke-linecap="round" />
<path d="M221.2,119 L221.51,116.48 L221.82,114.07 L222.13,111.77 L222.44,109.58 L222.75,107.48 L223.06,105.47 L223.37,103.54 L223.68,101.7 L223.99,99.93 L224.3,98.22 L224.61,96.58 L224.92,95 L225.23,93.46 L225.54,91.98 L225.85,90.53 L226.16,89.11 L226.47,87.72 L226.78,86.35 L227.1,85 L227.41,83.66 L227.72,82.32 L228.03,80.98 L228.34,79.64 L228.65,78.28 L228.96,76.9 L229.27,75.51 L229.58,74.11 L229.89,72.7 L230.2,71.29 L230.51,69.88 L230.82,68.48 L231.13,67.09 L231.44,65.72 L231.75,64.38 L232.06,63.06 L232.37,61.77 L232.68,60.52 L232.99,59.31 L233.3,58.14 L233.61,57.03 L233.92,55.97 L234.23,54.97 L234.54,54.04 L234.85,53.18 L235.16,52.39 L235.47,51.68 L235.78,51.04 L236.09,50.48 L236.4,49.99 L236.71,49.57 L237.02,49.22 L237.33,48.94 L237.64,48.73 L237.95,48.59 L238.27,48.51 L238.58,48.5 L238.89,48.55 L239.2,48.66 L239.51,48.83 L239.82,49.07 L240.13,49.36 L240.44,49.71 L240.75,50.1 L241.06,50.53 L241.37,50.99 L241.68,51.47 L241.99,51.97 L242.3,52.47 L242.61,52.97 L242.92,53.46 L243.23,53.95 L243.54,54.44 L243.85,54.91 L244.16,55.37 L244.47,55.81 L244.78,56.24 L245.09,56.64 L245.4,57.03 L245.71,57.39 L246.02,57.73 L246.33,58.06 L246.64,58.38 L246.95,58.7 L247.26,59 L247.57,59.31 L247.88,59.62 L248.19,59.94 L248.5,60.27 L248.81,60.61 L249.12,60.96 L249.44,61.32 L249.75,61.7 L250.06,62.08 L250.37,62.48 L250.68,62.89 L250.99,63.31 L251.3,63.74 L251.61,64.19 L251.92,64.65 L252.23,65.12 L252.54,65.61 L252.85,66.11 L253.16,66.62 L253.47,67.15 L253.78,67.7 L254.09,68.25 L254.4,68.83 L254.71,69.41 L255.02,70.02 L255.33,70.64 L255.64,71.27 L255.95,71.92 L256.26,72.59 L256.57,73.27 L256.88,73.97 L257.19,74.69 L257.5,75.43 L257.81,76.18 L258.12,76.95 L258.43,77.74 L258.74,78.54 L259.05,79.37 L259.36,80.21 L259.67,81.07 L259.98,81.94 L260.29,82.83 L260.61,83.74 L260.92,84.65 L261.23,85.58 L261.54,86.53 L261.85,87.48 L262.16,88.44 L262.47,89.41 L262.78,90.39 L263.09,91.38 L263.4,92.37 L263.71,93.37 L264.02,94.38 L264.33,95.39 L264.64,96.4 L264.95,97.41 L265.26,98.43 L265.57,99.44 L265.88,100.46 L266.19,101.47 L266.5,102.49 L266.81,103.5 L267.12,104.5 L267.43,105.5 L267.74,106.5 L268.05,107.49 L268.36,108.47 L268.67,109.44 L268.98,110.41 L269.29,111.36 L269.6,112.29 L269.91,113.21 L270.22,114.11 L270.53,114.99 L270.84,115.85 L271.15,116.68 L271.46,117.49 L271.77,118.26 L272.09,119.01 L272.4,119.72 L272.71,120.4 L273.02,121.05 L273.33,121.66 L273.64,122.25 L273.95,122.81 L274.26,123.35 L274.57,123.86 L274.88,124.35 L275.19,124.83 L275.5,125.28 L275.81,125.72 L276.12,126.15 L276.43,126.57 L276.74,126.98 L277.05,127.39 L277.36,127.79 L277.67,128.18 L277.98,128.58 L278.29,128.98 L278.6,129.38 L278.91,129.79 L279.22,130.2 L279.53,130.62 L279.84,131.05 L280.15,131.48 L280.46,131.92 L280.77,132.35 L281.08,132.79 L281.39,133.22 L281.7,133.66 L282.01,134.08 L282.32,134.51 L282.63,134.92 L282.94,135.33 L283.26,135.73 L283.57,136.12 L283.88,136.5 L284.19,136.87 L284.5,137.23 L284.81,137.58 L285.12,137.92 L285.43,138.26 L285.74,138.58 L286.05,138.9 L286.36,139.21 L286.67,139.51 L286.98,139.8 L287.29,140.09 L287.6,140.37 L287.91,140.64 L288.22,140.9 L288.53,141.16 L288.84,141.41 L289.15,141.65 L289.46,141.89 L289.77,142.12 L290.08,142.35 L290.39,142.57 L290.7,142.78 L291.01,142.99 L291.32,143.19 L291.63,143.39 L291.94,143.59 L292.25,143.77 L292.56,143.96 L292.87,144.14 L293.18,144.31 L293.49,144.48 L293.8,144.65 L294.11,144.82 L294.43,144.98 L294.74,145.13 L295.05,145.29 L295.36,145.44 L295.67,145.59 L295.98,145.73 L296.29,145.88 L296.6,146.02 L296.91,146.16 L297.22,146.29 L297.53,146.43 L297.84,146.56 L298.15,146.69 L298.46,146.83 L298.77,146.96 L299.08,147.08 L299.39,147.21 L299.7,147.34 L300.01,147.46 L300.32,147.59 L300.63,147.71 L300.94,147.83 L301.25,147.95 L301.56,148.07 L301.87,148.19 L302.18,148.3 L302.49,148.42 L302.8,148.53 L303.11,148.65 L303.42,148.76 L303.73,148.87 L304.04,148.98 L304.35,149.09 L304.66,149.2 L304.97,149.3 L305.28,149.41 L305.59,149.51 L305.91,149.61 L306.22,149.72 L306.53,149.82 L306.84,149.92 L307.15,150.02 L307.46,150.11 L307.77,150.21 L308.08,150.31 L308.39,150.4 L308.7,150.49 L309.01,150.59 L309.32,150.68 L309.63,150.77 L309.94,150.86 L310.25,150.95 L310.56,151.03 L310.87,151.12 L311.18,151.21 L311.49,151.29 L311.8,151.37 L312.11,151.46 L312.42,151.54 L312.73,151.62 L313.04,151.7 L313.35,151.78 L313.66,151.86 L313.97,151.93 L314.28,152.01 L314.59,152.09 L314.9,152.16 L315.21,152.23 L315.52,152.31 L315.83,152.38 L316.14,152.45 L316.45,152.52 L316.76,152.59 L317.08,152.66 L317.39,152.72 L317.7,152.79 L318.01,152.86 L318.32,152.92 L318.63,152.99 L318.94,153.05 L319.25,153.11 L319.56,153.17 L319.87,153.23 L320.18,153.29 L320.49,153.35 L320.8,153.41 L321.11,153.47 L321.42,153.53 L321.73,153.58 L322.04,153.64 L322.35,153.7 L322.66,153.75 L322.97,153.8 L323.28,153.86 L323.59,153.91 L323.9,153.96 L324.21,154.01 L324.52,154.06 L324.83,154.11 L325.14,154.16 L325.45,154.21 L325.76,154.25 L326.07,154.3 L326.38,154.35 L326.69,154.39 L327,154.44 L327.31,154.48 L327.62,154.53 L327.93,154.57 L328.25,154.61 L328.56,154.65 L328.87,154.69 L329.18,154.74 L329.49,154.78 L329.8,154.81 L330.11,154.85 L330.42,154.89 L330.73,154.93 L331.04,154.97 L331.35,155 L331.66,155.04 L331.97,155.08 L332.28,155.11 L332.59,155.15 L332.9,155.18 L333.21,155.21 L333.52,155.25 L333.83,155.28 L334.14,155.31 L334.45,155.35 L334.76,155.38 L335.07,155.41 L335.38,155.44 L335.69,155.47 L336,155.5 L336.31,155.53 L336.62,155.56 L336.93,155.58 L337.24,155.61 L337.55,155.64 L337.86,155.67 L338.17,155.69 L338.48,155.72 L338.79,155.75 L339.1,155.77 L339.42,155.8 L339.73,155.82 L340.04,155.85 L340.35,155.87 L340.66,155.9 L340.97,155.92 L341.28,155.94 L341.59,155.97 L341.9,155.99 L342.21,156.01 L342.52,156.03 L342.83,156.06 L343.14,156.08 L343.45,156.1 L343.76,156.12 L344.07,156.14 L344.38,156.16 L344.69,156.18 L345,156.2" fill="none" stroke="#58a8ff" stroke-width="1.6" stroke-linejoin="round" stroke-linecap="round" />
<path d="M221.2,122.61 L221.51,121.18 L221.82,119.78 L222.13,118.39 L222.44,117.01 L222.75,115.65 L223.06,114.31 L223.37,112.98 L223.68,111.66 L223.99,110.36 L224.3,109.07 L224.61,107.79 L224.92,106.52 L225.23,105.27 L225.54,104.03 L225.85,102.79 L226.16,101.57 L226.47,100.36 L226.78,99.15 L227.1,97.96 L227.41,96.77 L227.72,95.6 L228.03,94.43 L228.34,93.26 L228.65,92.11 L228.96,90.96 L229.27,89.81 L229.58,88.68 L229.89,87.54 L230.2,86.42 L230.51,85.29 L230.82,84.17 L231.13,83.06 L231.44,81.94 L231.75,80.83 L232.06,79.73 L232.37,78.64 L232.68,77.56 L232.99,76.5 L233.3,75.46 L233.61,74.46 L233.92,73.48 L234.23,72.54 L234.54,71.65 L234.85,70.8 L235.16,70 L235.47,69.26 L235.78,68.57 L236.09,67.95 L236.4,67.4 L236.71,66.9 L237.02,66.45 L237.33,66.05 L237.64,65.69 L237.95,65.37 L238.27,65.07 L238.58,64.79 L238.89,64.53 L239.2,64.27 L239.51,64.02 L239.82,63.78 L240.13,63.53 L240.44,63.29 L240.75,63.06 L241.06,62.83 L241.37,62.61 L241.68,62.39 L241.99,62.18 L242.3,61.97 L242.61,61.76 L242.92,61.57 L243.23,61.38 L243.54,61.19 L243.85,61.01 L244.16,60.84 L244.47,60.67 L244.78,60.52 L245.09,60.36 L245.4,60.22 L245.71,60.08 L246.02,59.95 L246.33,59.83 L246.64,59.71 L246.95,59.61 L247.26,59.51 L247.57,59.42 L247.88,59.34 L248.19,59.26 L248.5,59.2 L248.81,59.14 L249.12,59.1 L249.44,59.06 L249.75,59.03 L250.06,59.02 L250.37,59.01 L250.68,59.01 L250.99,59.02 L251.3,59.05 L251.61,59.08 L251.92,59.12 L252.23,59.18 L252.54,59.25 L252.85,59.32 L253.16,59.41 L253.47,59.51 L253.78,59.62 L254.09,59.75 L254.4,59.88 L254.71,60.03 L255.02,60.19 L255.33,60.37 L255.64,60.55 L255.95,60.75 L256.26,60.96 L256.57,61.19 L256.88,61.43 L257.19,61.68 L257.5,61.95 L257.81,62.24 L258.12,62.54 L258.43,62.87 L258.74,63.21 L259.05,63.58 L259.36,63.97 L259.67,64.38 L259.98,64.82 L260.29,65.29 L260.61,65.79 L260.92,66.32 L261.23,66.88 L261.54,67.47 L261.85,68.1 L262.16,68.76 L262.47,69.45 L262.78,70.19 L263.09,70.97 L263.4,71.78 L263.71,72.64 L264.02,73.54 L264.33,74.49 L264.64,75.47 L264.95,76.49 L265.26,77.54 L265.57,78.59 L265.88,79.65 L266.19,80.7 L266.5,81.73 L266.81,82.75 L267.12,83.73 L267.43,84.7 L267.74,85.66 L268.05,86.62 L268.36,87.57 L268.67,88.53 L268.98,89.51 L269.29,90.51 L269.6,91.53 L269.91,92.6 L270.22,93.71 L270.53,94.87 L270.84,96.09 L271.15,97.37 L271.46,98.71 L271.77,100.08 L272.09,101.49 L272.4,102.91 L272.71,104.33 L273.02,105.75 L273.33,107.14 L273.64,108.5 L273.95,109.82 L274.26,111.09 L274.57,112.31 L274.88,113.48 L275.19,114.62 L275.5,115.71 L275.81,116.75 L276.12,117.76 L276.43,118.73 L276.74,119.66 L277.05,120.55 L277.36,121.41 L277.67,122.23 L277.98,123.02 L278.29,123.78 L278.6,124.51 L278.91,125.2 L279.22,125.87 L279.53,126.51 L279.84,127.13 L280.15,127.72 L280.46,128.28 L280.77,128.83 L281.08,129.35 L281.39,129.85 L281.7,130.33 L282.01,130.79 L282.32,131.24 L282.63,131.67 L282.94,132.09 L283.26,132.49 L283.57,132.89 L283.88,133.27 L284.19,133.64 L284.5,134 L284.81,134.36 L285.12,134.71 L285.43,135.05 L285.74,135.39 L286.05,135.73 L286.36,136.06 L286.67,136.39 L286.98,136.71 L287.29,137.03 L287.6,137.35 L287.91,137.66 L288.22,137.97 L288.53,138.27 L288.84,138.57 L289.15,138.87 L289.46,139.16 L289.77,139.45 L290.08,139.73 L290.39,140.01 L290.7,140.29 L291.01,140.56 L291.32,140.83 L291.63,141.1 L291.94,141.36 L292.25,141.62 L292.56,141.87 L292.87,142.12 L293.18,142.37 L293.49,142.62 L293.8,142.86 L294.11,143.09 L294.43,143.33 L294.74,143.56 L295.05,143.79 L295.36,144.01 L295.67,144.23 L295.98,144.45 L296.29,144.66 L296.6,144.88 L296.91,145.08 L297.22,145.29 L297.53,145.49 L297.84,145.69 L298.15,145.88 L298.46,146.08 L298.77,146.27 L299.08,146.45 L299.39,146.64 L299.7,146.82 L300.01,146.99 L300.32,147.17 L300.63,147.34 L300.94,147.51 L301.25,147.68 L301.56,147.84 L301.87,148 L302.18,148.16 L302.49,148.32 L302.8,148.47 L303.11,148.62 L303.42,148.77 L303.73,148.91 L304.04,149.06 L304.35,149.2 L304.66,149.33 L304.97,149.47 L305.28,149.6 L305.59,149.73 L305.91,149.86 L306.22,149.99 L306.53,150.11 L306.84,150.23 L307.15,150.35 L307.46,150.47 L307.77,150.58 L308.08,150.7 L308.39,150.81 L308.7,150.92 L309.01,151.02 L309.32,151.13 L309.63,151.23 L309.94,151.33 L310.25,151.43 L310.56,151.53 L310.87,151.62 L311.18,151.72 L311.49,151.81 L311.8,151.9 L312.11,151.98 L312.42,152.07 L312.73,152.15 L313.04,152.24 L313.35,152.32 L313.66,152.4 L313.97,152.47 L314.28,152.55 L314.59,152.63 L314.9,152.7 L315.21,152.77 L315.52,152.84 L315.83,152.91 L316.14,152.98 L316.45,153.04 L316.76,153.11 L317.08,153.17 L317.39,153.23 L317.7,153.29 L318.01,153.35 L318.32,153.41 L318.63,153.47 L318.94,153.53 L319.25,153.58 L319.56,153.64 L319.87,153.69 L320.18,153.74 L320.49,153.79 L320.8,153.84 L321.11,153.89 L321.42,153.94 L321.73,153.99 L322.04,154.03 L322.35,154.08 L322.66,154.13 L322.97,154.17 L323.28,154.21 L323.59,154.26 L323.9,154.3 L324.21,154.34 L324.52,154.38 L324.83,154.42 L325.14,154.46 L325.45,154.5 L325.76,154.54 L326.07,154.58 L326.38,154.62 L326.69,154.65 L327,154.69 L327.31,154.73 L327.62,154.76 L327.93,154.8 L328.25,154.84 L328.56,154.87 L328.87,154.91 L329.18,154.94 L329.49,154.98 L329.8,155.01 L330.11,155.05 L330.42,155.08 L330.73,155.12 L331.04,155.15 L331.35,155.19 L331.66,155.22 L331.97,155.26 L332.28,155.29 L332.59,155.33 L332.9,155.36 L333.21,155.4 L333.52,155.44 L333.83,155.47 L334.14,155.51 L334.45,155.55 L334.76,155.58 L335.07,155.62 L335.38,155.66 L335.69,155.7 L336,155.74 L336.31,155.78 L336.62,155.82 L336.93,155.86 L337.24,155.9 L337.55,155.94 L337.86,155.98 L338.17,156.02 L338.48,156.07 L338.79,156.11 L339.1,156.16 L339.42,156.2 L339.73,156.25 L340.04,156.3 L340.35,156.35 L340.66,156.4 L340.97,156.45 L341.28,156.5 L341.59,156.55 L341.9,156.6 L342.21,156.66 L342.52,156.71 L342.83,156.77 L343.14,156.83 L343.45,156.88 L343.76,156.94 L344.07,157.01 L344.38,157.07 L344.69,157.13 L345,157.2" fill="none" stroke="#60f040" stroke-width="1.6" stroke-linejoin="round" stroke-linecap="round" />
<path d="M221.2,132.44 L221.51,131.36 L221.82,130.25 L222.13,129.11 L222.44,127.94 L222.75,126.74 L223.06,125.52 L223.37,124.27 L223.68,123 L223.99,121.71 L224.3,120.4 L224.61,119.07 L224.92,117.73 L225.23,116.38 L225.54,115.01 L225.85,113.64 L226.16,112.26 L226.47,110.87 L226.78,109.48 L227.1,108.09 L227.41,106.7 L227.72,105.31 L228.03,103.92 L228.34,102.54 L228.65,101.17 L228.96,99.81 L229.27,98.46 L229.58,97.12 L229.89,95.8 L230.2,94.5 L230.51,93.21 L230.82,91.95 L231.13,90.71 L231.44,89.49 L231.75,88.3 L232.06,87.14 L232.37,86.01 L232.68,84.91 L232.99,83.85 L233.3,82.82 L233.61,81.82 L233.92,80.87 L234.23,79.96 L234.54,79.08 L234.85,78.24 L235.16,77.43 L235.47,76.65 L235.78,75.91 L236.09,75.2 L236.4,74.53 L236.71,73.88 L237.02,73.26 L237.33,72.67 L237.64,72.11 L237.95,71.57 L238.27,71.06 L238.58,70.57 L238.89,70.11 L239.2,69.66 L239.51,69.24 L239.82,68.84 L240.13,68.46 L240.44,68.1 L240.75,67.76 L241.06,67.43 L241.37,67.12 L241.68,66.82 L241.99,66.54 L242.3,66.27 L242.61,66.01 L242.92,65.76 L243.23,65.53 L243.54,65.3 L243.85,65.08 L244.16,64.87 L244.47,64.66 L244.78,64.46 L245.09,64.26 L245.4,64.07 L245.71,63.87 L246.02,63.68 L246.33,63.49 L246.64,63.3 L246.95,63.11 L247.26,62.92 L247.57,62.72 L247.88,62.52 L248.19,62.31 L248.5,62.1 L248.81,61.88 L249.12,61.66 L249.44,61.43 L249.75,61.2 L250.06,60.96 L250.37,60.73 L250.68,60.49 L250.99,60.25 L251.3,60.01 L251.61,59.77 L251.92,59.54 L252.23,59.3 L252.54,59.07 L252.85,58.84 L253.16,58.61 L253.47,58.39 L253.78,58.17 L254.09,57.96 L254.4,57.76 L254.71,57.56 L255.02,57.37 L255.33,57.19 L255.64,57.02 L255.95,56.86 L256.26,56.71 L256.57,56.57 L256.88,56.45 L257.19,56.33 L257.5,56.23 L257.81,56.14 L258.12,56.07 L258.43,56.01 L258.74,55.97 L259.05,55.95 L259.36,55.94 L259.67,55.95 L259.98,55.98 L260.29,56.03 L260.61,56.1 L260.92,56.19 L261.23,56.3 L261.54,56.43 L261.85,56.59 L262.16,56.77 L262.47,56.97 L262.78,57.2 L263.09,57.46 L263.4,57.73 L263.71,58.04 L264.02,58.38 L264.33,58.74 L264.64,59.13 L264.95,59.55 L265.26,60.01 L265.57,60.5 L265.88,61.02 L266.19,61.58 L266.5,62.18 L266.81,62.82 L267.12,63.49 L267.43,64.21 L267.74,64.97 L268.05,65.78 L268.36,66.63 L268.67,67.53 L268.98,68.47 L269.29,69.47 L269.6,70.51 L269.91,71.61 L270.22,72.76 L270.53,73.96 L270.84,75.22 L271.15,76.52 L271.46,77.87 L271.77,79.27 L272.09,80.71 L272.4,82.18 L272.71,83.69 L273.02,85.24 L273.33,86.81 L273.64,88.41 L273.95,90.03 L274.26,91.66 L274.57,93.3 L274.88,94.95 L275.19,96.6 L275.5,98.25 L275.81,99.88 L276.12,101.51 L276.43,103.12 L276.74,104.71 L277.05,106.27 L277.36,107.81 L277.67,109.31 L277.98,110.77 L278.29,112.2 L278.6,113.58 L278.91,114.92 L279.22,116.22 L279.53,117.47 L279.84,118.67 L280.15,119.82 L280.46,120.92 L280.77,121.97 L281.08,122.98 L281.39,123.94 L281.7,124.85 L282.01,125.73 L282.32,126.56 L282.63,127.36 L282.94,128.12 L283.26,128.84 L283.57,129.53 L283.88,130.18 L284.19,130.8 L284.5,131.39 L284.81,131.96 L285.12,132.49 L285.43,133.01 L285.74,133.49 L286.05,133.96 L286.36,134.4 L286.67,134.82 L286.98,135.23 L287.29,135.62 L287.6,135.99 L287.91,136.36 L288.22,136.7 L288.53,137.04 L288.84,137.36 L289.15,137.67 L289.46,137.97 L289.77,138.27 L290.08,138.55 L290.39,138.83 L290.7,139.1 L291.01,139.36 L291.32,139.62 L291.63,139.88 L291.94,140.13 L292.25,140.38 L292.56,140.62 L292.87,140.87 L293.18,141.11 L293.49,141.34 L293.8,141.58 L294.11,141.81 L294.43,142.04 L294.74,142.27 L295.05,142.5 L295.36,142.72 L295.67,142.94 L295.98,143.16 L296.29,143.38 L296.6,143.59 L296.91,143.81 L297.22,144.01 L297.53,144.22 L297.84,144.43 L298.15,144.63 L298.46,144.83 L298.77,145.03 L299.08,145.22 L299.39,145.42 L299.7,145.61 L300.01,145.8 L300.32,145.99 L300.63,146.17 L300.94,146.35 L301.25,146.53 L301.56,146.71 L301.87,146.89 L302.18,147.06 L302.49,147.23 L302.8,147.4 L303.11,147.57 L303.42,147.74 L303.73,147.9 L304.04,148.06 L304.35,148.22 L304.66,148.38 L304.97,148.54 L305.28,148.69 L305.59,148.84 L305.91,148.99 L306.22,149.14 L306.53,149.29 L306.84,149.43 L307.15,149.58 L307.46,149.72 L307.77,149.86 L308.08,149.99 L308.39,150.13 L308.7,150.26 L309.01,150.39 L309.32,150.52 L309.63,150.65 L309.94,150.78 L310.25,150.9 L310.56,151.03 L310.87,151.15 L311.18,151.27 L311.49,151.39 L311.8,151.5 L312.11,151.62 L312.42,151.73 L312.73,151.84 L313.04,151.95 L313.35,152.06 L313.66,152.17 L313.97,152.27 L314.28,152.37 L314.59,152.48 L314.9,152.58 L315.21,152.68 L315.52,152.77 L315.83,152.87 L316.14,152.97 L316.45,153.06 L316.76,153.15 L317.08,153.24 L317.39,153.33 L317.7,153.42 L318.01,153.5 L318.32,153.59 L318.63,153.67 L318.94,153.75 L319.25,153.84 L319.56,153.92 L319.87,153.99 L320.18,154.07 L320.49,154.15 L320.8,154.22 L321.11,154.3 L321.42,154.37 L321.73,154.44 L322.04,154.51 L322.35,154.58 L322.66,154.64 L322.97,154.71 L323.28,154.78 L323.59,154.84 L323.9,154.9 L324.21,154.97 L324.52,155.03 L324.83,155.09 L325.14,155.15 L325.45,155.2 L325.76,155.26 L326.07,155.32 L326.38,155.37 L326.69,155.42 L327,155.48 L327.31,155.53 L327.62,155.58 L327.93,155.63 L328.25,155.68 L328.56,155.73 L328.87,155.78 L329.18,155.82 L329.49,155.87 L329.8,155.91 L330.11,155.96 L330.42,156 L330.73,156.04 L331.04,156.09 L331.35,156.13 L331.66,156.17 L331.97,156.21 L332.28,156.25 L332.59,156.28 L332.9,156.32 L333.21,156.36 L333.52,156.4 L333.83,156.43 L334.14,156.47 L334.45,156.5 L334.76,156.53 L335.07,156.57 L335.38,156.6 L335.69,156.63 L336,156.66 L336.31,156.69 L336.62,156.73 L336.93,156.76 L337.24,156.79 L337.55,156.81 L337.86,156.84 L338.17,156.87 L338.48,156.9 L338.79,156.93 L339.1,156.95 L339.42,156.98 L339.73,157.01 L340.04,157.03 L340.35,157.06 L340.66,157.08 L340.97,157.11 L341.28,157.13 L341.59,157.16 L341.9,157.18 L342.21,157.21 L342.52,157.23 L342.83,157.25 L343.14,157.28 L343.45,157.3 L343.76,157.32 L344.07,157.34 L344.38,157.37 L344.69,157.39 L345,157.41" fill="none" stroke="#b0b434" stroke-width="1.6" stroke-linejoin="round" stroke-linecap="round" />
<path d="M221.2,133.24 L221.51,132.04 L221.82,130.82 L222.13,129.6 L222.44,128.37 L222.75,127.14 L223.06,125.9 L223.37,124.65 L223.68,123.4 L223.99,122.15 L224.3,120.9 L224.61,119.65 L224.92,118.39 L225.23,117.14 L225.54,115.89 L225.85,114.64 L226.16,113.39 L226.47,112.15 L226.78,110.92 L227.1,109.69 L227.41,108.47 L227.72,107.25 L228.03,106.05 L228.34,104.85 L228.65,103.67 L228.96,102.5 L229.27,101.33 L229.58,100.19 L229.89,99.05 L230.2,97.93 L230.51,96.83 L230.82,95.75 L231.13,94.68 L231.44,93.63 L231.75,92.6 L232.06,91.59 L232.37,90.6 L232.68,89.63 L232.99,88.68 L233.3,87.76 L233.61,86.87 L233.92,86 L234.23,85.15 L234.54,84.33 L234.85,83.53 L235.16,82.75 L235.47,82 L235.78,81.26 L236.09,80.55 L236.4,79.86 L236.71,79.19 L237.02,78.54 L237.33,77.91 L237.64,77.3 L237.95,76.7 L238.27,76.13 L238.58,75.57 L238.89,75.02 L239.2,74.5 L239.51,73.98 L239.82,73.49 L240.13,73 L240.44,72.53 L240.75,72.08 L241.06,71.63 L241.37,71.2 L241.68,70.78 L241.99,70.37 L242.3,69.98 L242.61,69.59 L242.92,69.21 L243.23,68.84 L243.54,68.48 L243.85,68.12 L244.16,67.78 L244.47,67.44 L244.78,67.11 L245.09,66.78 L245.4,66.46 L245.71,66.14 L246.02,65.83 L246.33,65.52 L246.64,65.21 L246.95,64.91 L247.26,64.61 L247.57,64.31 L247.88,64.01 L248.19,63.71 L248.5,63.41 L248.81,63.11 L249.12,62.81 L249.44,62.51 L249.75,62.22 L250.06,61.92 L250.37,61.63 L250.68,61.33 L250.99,61.04 L251.3,60.76 L251.61,60.47 L251.92,60.19 L252.23,59.91 L252.54,59.63 L252.85,59.36 L253.16,59.09 L253.47,58.83 L253.78,58.57 L254.09,58.32 L254.4,58.07 L254.71,57.83 L255.02,57.59 L255.33,57.36 L255.64,57.13 L255.95,56.92 L256.26,56.71 L256.57,56.51 L256.88,56.32 L257.19,56.14 L257.5,55.96 L257.81,55.8 L258.12,55.65 L258.43,55.51 L258.74,55.38 L259.05,55.26 L259.36,55.16 L259.67,55.07 L259.98,54.99 L260.29,54.92 L260.61,54.88 L260.92,54.84 L261.23,54.82 L261.54,54.82 L261.85,54.83 L262.16,54.86 L262.47,54.9 L262.78,54.97 L263.09,55.05 L263.4,55.15 L263.71,55.27 L264.02,55.41 L264.33,55.57 L264.64,55.75 L264.95,55.95 L265.26,56.17 L265.57,56.42 L265.88,56.69 L266.19,56.99 L266.5,57.31 L266.81,57.66 L267.12,58.03 L267.43,58.44 L267.74,58.89 L268.05,59.36 L268.36,59.87 L268.67,60.42 L268.98,61.01 L269.29,61.64 L269.6,62.31 L269.91,63.03 L270.22,63.79 L270.53,64.6 L270.84,65.45 L271.15,66.35 L271.46,67.3 L271.77,68.29 L272.09,69.33 L272.4,70.42 L272.71,71.54 L273.02,72.72 L273.33,73.93 L273.64,75.19 L273.95,76.49 L274.26,77.83 L274.57,79.2 L274.88,80.62 L275.19,82.06 L275.5,83.55 L275.81,85.06 L276.12,86.61 L276.43,88.18 L276.74,89.79 L277.05,91.42 L277.36,93.06 L277.67,94.72 L277.98,96.39 L278.29,98.05 L278.6,99.72 L278.91,101.37 L279.22,103.01 L279.53,104.63 L279.84,106.23 L280.15,107.8 L280.46,109.34 L280.77,110.84 L281.08,112.31 L281.39,113.73 L281.7,115.11 L282.01,116.44 L282.32,117.72 L282.63,118.94 L282.94,120.12 L283.26,121.25 L283.57,122.33 L283.88,123.37 L284.19,124.36 L284.5,125.31 L284.81,126.22 L285.12,127.09 L285.43,127.92 L285.74,128.71 L286.05,129.47 L286.36,130.19 L286.67,130.88 L286.98,131.54 L287.29,132.17 L287.6,132.77 L287.91,133.34 L288.22,133.89 L288.53,134.41 L288.84,134.91 L289.15,135.39 L289.46,135.84 L289.77,136.28 L290.08,136.7 L290.39,137.09 L290.7,137.48 L291.01,137.84 L291.32,138.19 L291.63,138.53 L291.94,138.86 L292.25,139.17 L292.56,139.47 L292.87,139.77 L293.18,140.06 L293.49,140.33 L293.8,140.6 L294.11,140.87 L294.43,141.12 L294.74,141.38 L295.05,141.63 L295.36,141.87 L295.67,142.11 L295.98,142.35 L296.29,142.59 L296.6,142.82 L296.91,143.05 L297.22,143.28 L297.53,143.51 L297.84,143.73 L298.15,143.95 L298.46,144.17 L298.77,144.39 L299.08,144.6 L299.39,144.81 L299.7,145.02 L300.01,145.23 L300.32,145.43 L300.63,145.63 L300.94,145.83 L301.25,146.03 L301.56,146.22 L301.87,146.42 L302.18,146.61 L302.49,146.79 L302.8,146.98 L303.11,147.16 L303.42,147.34 L303.73,147.52 L304.04,147.7 L304.35,147.87 L304.66,148.05 L304.97,148.22 L305.28,148.38 L305.59,148.55 L305.91,148.71 L306.22,148.87 L306.53,149.03 L306.84,149.19 L307.15,149.35 L307.46,149.5 L307.77,149.65 L308.08,149.8 L308.39,149.95 L308.7,150.09 L309.01,150.24 L309.32,150.38 L309.63,150.52 L309.94,150.66 L310.25,150.79 L310.56,150.92 L310.87,151.06 L311.18,151.19 L311.49,151.31 L311.8,151.44 L312.11,151.57 L312.42,151.69 L312.73,151.81 L313.04,151.93 L313.35,152.05 L313.66,152.16 L313.97,152.28 L314.28,152.39 L314.59,152.5 L314.9,152.61 L315.21,152.71 L315.52,152.82 L315.83,152.92 L316.14,153.03 L316.45,153.13 L316.76,153.23 L317.08,153.32 L317.39,153.42 L317.7,153.51 L318.01,153.61 L318.32,153.7 L318.63,153.79 L318.94,153.88 L319.25,153.96 L319.56,154.05 L319.87,154.13 L320.18,154.21 L320.49,154.3 L320.8,154.38 L321.11,154.45 L321.42,154.53 L321.73,154.61 L322.04,154.68 L322.35,154.75 L322.66,154.83 L322.97,154.9 L323.28,154.96 L323.59,155.03 L323.9,155.1 L324.21,155.16 L324.52,155.23 L324.83,155.29 L325.14,155.35 L325.45,155.41 L325.76,155.47 L326.07,155.53 L326.38,155.59 L326.69,155.64 L327,155.7 L327.31,155.75 L327.62,155.81 L327.93,155.86 L328.25,155.91 L328.56,155.96 L328.87,156.01 L329.18,156.05 L329.49,156.1 L329.8,156.15 L330.11,156.19 L330.42,156.24 L330.73,156.28 L331.04,156.32 L331.35,156.36 L331.66,156.4 L331.97,156.44 L332.28,156.48 L332.59,156.52 L332.9,156.56 L333.21,156.59 L333.52,156.63 L333.83,156.66 L334.14,156.7 L334.45,156.73 L334.76,156.76 L335.07,156.79 L335.38,156.82 L335.69,156.85 L336,156.88 L336.31,156.91 L336.62,156.94 L336.93,156.97 L337.24,157 L337.55,157.02 L337.86,157.05 L338.17,157.07 L338.48,157.1 L338.79,157.12 L339.1,157.15 L339.42,157.17 L339.73,157.19 L340.04,157.22 L340.35,157.24 L340.66,157.26 L340.97,157.28 L341.28,157.3 L341.59,157.32 L341.9,157.34 L342.21,157.36 L342.52,157.38 L342.83,157.4 L343.14,157.42 L343.45,157.44 L343.76,157.45 L344.07,157.47 L344.38,157.49 L344.69,157.51 L345,157.52" fill="none" stroke="#f08848" stroke-width="1.6" stroke-linejoin="round" stroke-linecap="round" />
<path d="M221.2,134.05 L221.51,132.71 L221.82,131.39 L222.13,130.09 L222.44,128.8 L222.75,127.53 L223.06,126.27 L223.37,125.03 L223.68,123.81 L223.99,122.6 L224.3,121.4 L224.61,120.22 L224.92,119.05 L225.23,117.9 L225.54,116.77 L225.85,115.64 L226.16,114.53 L226.47,113.44 L226.78,112.36 L227.1,111.29 L227.41,110.24 L227.72,109.2 L228.03,108.18 L228.34,107.16 L228.65,106.17 L228.96,105.18 L229.27,104.21 L229.58,103.25 L229.89,102.3 L230.2,101.37 L230.51,100.45 L230.82,99.54 L231.13,98.64 L231.44,97.76 L231.75,96.89 L232.06,96.03 L232.37,95.18 L232.68,94.35 L232.99,93.52 L233.3,92.71 L233.61,91.91 L233.92,91.12 L234.23,90.34 L234.54,89.57 L234.85,88.82 L235.16,88.07 L235.47,87.34 L235.78,86.62 L236.09,85.9 L236.4,85.2 L236.71,84.51 L237.02,83.82 L237.33,83.15 L237.64,82.49 L237.95,81.84 L238.27,81.2 L238.58,80.56 L238.89,79.94 L239.2,79.33 L239.51,78.72 L239.82,78.13 L240.13,77.54 L240.44,76.96 L240.75,76.4 L241.06,75.84 L241.37,75.28 L241.68,74.74 L241.99,74.21 L242.3,73.68 L242.61,73.16 L242.92,72.65 L243.23,72.15 L243.54,71.66 L243.85,71.17 L244.16,70.69 L244.47,70.22 L244.78,69.76 L245.09,69.3 L245.4,68.85 L245.71,68.41 L246.02,67.97 L246.33,67.54 L246.64,67.12 L246.95,66.7 L247.26,66.29 L247.57,65.89 L247.88,65.49 L248.19,65.1 L248.5,64.72 L248.81,64.34 L249.12,63.97 L249.44,63.6 L249.75,63.23 L250.06,62.88 L250.37,62.53 L250.68,62.18 L250.99,61.84 L251.3,61.5 L251.61,61.17 L251.92,60.84 L252.23,60.52 L252.54,60.2 L252.85,59.89 L253.16,59.58 L253.47,59.27 L253.78,58.97 L254.09,58.67 L254.4,58.38 L254.71,58.09 L255.02,57.8 L255.33,57.52 L255.64,57.24 L255.95,56.97 L256.26,56.71 L256.57,56.44 L256.88,56.19 L257.19,55.94 L257.5,55.69 L257.81,55.46 L258.12,55.23 L258.43,55 L258.74,54.79 L259.05,54.58 L259.36,54.38 L259.67,54.18 L259.98,54 L260.29,53.82 L260.61,53.65 L260.92,53.49 L261.23,53.34 L261.54,53.2 L261.85,53.07 L262.16,52.95 L262.47,52.84 L262.78,52.74 L263.09,52.65 L263.4,52.57 L263.71,52.5 L264.02,52.44 L264.33,52.4 L264.64,52.36 L264.95,52.34 L265.26,52.34 L265.57,52.34 L265.88,52.36 L266.19,52.39 L266.5,52.43 L266.81,52.49 L267.12,52.57 L267.43,52.68 L267.74,52.8 L268.05,52.94 L268.36,53.12 L268.67,53.32 L268.98,53.55 L269.29,53.82 L269.6,54.11 L269.91,54.45 L270.22,54.82 L270.53,55.23 L270.84,55.68 L271.15,56.18 L271.46,56.72 L271.77,57.32 L272.09,57.96 L272.4,58.65 L272.71,59.4 L273.02,60.2 L273.33,61.06 L273.64,61.98 L273.95,62.96 L274.26,64 L274.57,65.11 L274.88,66.28 L275.19,67.53 L275.5,68.85 L275.81,70.24 L276.12,71.7 L276.43,73.25 L276.74,74.87 L277.05,76.56 L277.36,78.32 L277.67,80.14 L277.98,82 L278.29,83.91 L278.6,85.85 L278.91,87.82 L279.22,89.8 L279.53,91.8 L279.84,93.8 L280.15,95.78 L280.46,97.76 L280.77,99.71 L281.08,101.64 L281.39,103.52 L281.7,105.36 L282.01,107.15 L282.32,108.87 L282.63,110.53 L282.94,112.13 L283.26,113.66 L283.57,115.14 L283.88,116.56 L284.19,117.92 L284.5,119.23 L284.81,120.48 L285.12,121.68 L285.43,122.83 L285.74,123.93 L286.05,124.98 L286.36,125.98 L286.67,126.93 L286.98,127.85 L287.29,128.71 L287.6,129.54 L287.91,130.33 L288.22,131.08 L288.53,131.79 L288.84,132.46 L289.15,133.1 L289.46,133.71 L289.77,134.29 L290.08,134.84 L290.39,135.36 L290.7,135.85 L291.01,136.32 L291.32,136.76 L291.63,137.18 L291.94,137.58 L292.25,137.97 L292.56,138.33 L292.87,138.67 L293.18,139 L293.49,139.32 L293.8,139.63 L294.11,139.92 L294.43,140.2 L294.74,140.48 L295.05,140.75 L295.36,141.02 L295.67,141.28 L295.98,141.54 L296.29,141.79 L296.6,142.05 L296.91,142.3 L297.22,142.55 L297.53,142.79 L297.84,143.03 L298.15,143.27 L298.46,143.51 L298.77,143.74 L299.08,143.98 L299.39,144.2 L299.7,144.43 L300.01,144.65 L300.32,144.88 L300.63,145.09 L300.94,145.31 L301.25,145.52 L301.56,145.73 L301.87,145.94 L302.18,146.15 L302.49,146.35 L302.8,146.55 L303.11,146.75 L303.42,146.95 L303.73,147.14 L304.04,147.33 L304.35,147.52 L304.66,147.71 L304.97,147.89 L305.28,148.08 L305.59,148.25 L305.91,148.43 L306.22,148.61 L306.53,148.78 L306.84,148.95 L307.15,149.12 L307.46,149.28 L307.77,149.45 L308.08,149.61 L308.39,149.77 L308.7,149.93 L309.01,150.08 L309.32,150.23 L309.63,150.38 L309.94,150.53 L310.25,150.68 L310.56,150.82 L310.87,150.97 L311.18,151.11 L311.49,151.24 L311.8,151.38 L312.11,151.52 L312.42,151.65 L312.73,151.78 L313.04,151.91 L313.35,152.03 L313.66,152.16 L313.97,152.28 L314.28,152.4 L314.59,152.52 L314.9,152.64 L315.21,152.75 L315.52,152.87 L315.83,152.98 L316.14,153.09 L316.45,153.19 L316.76,153.3 L317.08,153.41 L317.39,153.51 L317.7,153.61 L318.01,153.71 L318.32,153.81 L318.63,153.9 L318.94,154 L319.25,154.09 L319.56,154.18 L319.87,154.27 L320.18,154.36 L320.49,154.44 L320.8,154.53 L321.11,154.61 L321.42,154.69 L321.73,154.77 L322.04,154.85 L322.35,154.93 L322.66,155.01 L322.97,155.08 L323.28,155.15 L323.59,155.22 L323.9,155.29 L324.21,155.36 L324.52,155.43 L324.83,155.5 L325.14,155.56 L325.45,155.62 L325.76,155.69 L326.07,155.75 L326.38,155.81 L326.69,155.86 L327,155.92 L327.31,155.98 L327.62,156.03 L327.93,156.08 L328.25,156.14 L328.56,156.19 L328.87,156.24 L329.18,156.29 L329.49,156.33 L329.8,156.38 L330.11,156.43 L330.42,156.47 L330.73,156.51 L331.04,156.56 L331.35,156.6 L331.66,156.64 L331.97,156.68 L332.28,156.71 L332.59,156.75 L332.9,156.79 L333.21,156.82 L333.52,156.86 L333.83,156.89 L334.14,156.92 L334.45,156.96 L334.76,156.99 L335.07,157.02 L335.38,157.05 L335.69,157.08 L336,157.1 L336.31,157.13 L336.62,157.16 L336.93,157.18 L337.24,157.21 L337.55,157.23 L337.86,157.25 L338.17,157.28 L338.48,157.3 L338.79,157.32 L339.1,157.34 L339.42,157.36 L339.73,157.38 L340.04,157.4 L340.35,157.42 L340.66,157.44 L340.97,157.45 L341.28,157.47 L341.59,157.49 L341.9,157.5 L342.21,157.52 L342.52,157.53 L342.83,157.55 L343.14,157.56 L343.45,157.57 L343.76,157.59 L344.07,157.6 L344.38,157.61 L344.69,157.62 L345,157.64" fill="none" stroke="#ff4040" stroke-width="1.6" stroke-linejoin="round" stroke-linecap="round" />
<path d="M296.8,37.2 L297.04,36.58 L297.28,35.94 L297.51,35.3 L297.75,34.63 L297.99,33.96 L298.23,33.27 L298.47,32.58 L298.71,31.88 L298.94,31.17 L299.18,30.45 L299.42,29.73 L299.66,29.01 L299.9,28.29 L300.13,27.56 L300.37,26.84 L300.61,26.12 L300.85,25.4 L301.09,24.68 L301.33,23.97 L301.56,23.27 L301.8,22.57 L302.04,21.88 L302.28,21.21 L302.52,20.55 L302.75,19.9 L302.99,19.27 L303.23,18.65 L303.47,18.06 L303.71,17.49 L303.95,16.95 L304.18,16.44 L304.42,15.95 L304.66,15.5 L304.9,15.08 L305.14,14.72 L305.37,14.4 L305.61,14.15 L305.85,13.97 L306.09,13.86 L306.33,13.82 L306.57,13.83 L306.8,13.9 L307.04,14.01 L307.28,14.15 L307.52,14.31 L307.76,14.5 L307.99,14.69 L308.23,14.9 L308.47,15.12 L308.71,15.35 L308.95,15.58 L309.19,15.81 L309.42,16.05 L309.66,16.28 L309.9,16.51 L310.14,16.73 L310.38,16.94 L310.62,17.15 L310.85,17.35 L311.09,17.54 L311.33,17.73 L311.57,17.92 L311.81,18.11 L312.04,18.29 L312.28,18.47 L312.52,18.65 L312.76,18.82 L313,19 L313.24,19.18 L313.47,19.37 L313.71,19.55 L313.95,19.74 L314.19,19.93 L314.43,20.13 L314.66,20.33 L314.9,20.53 L315.14,20.74 L315.38,20.96 L315.62,21.18 L315.86,21.4 L316.09,21.63 L316.33,21.86 L316.57,22.1 L316.81,22.35 L317.05,22.6 L317.28,22.86 L317.52,23.12 L317.76,23.39 L318,23.66 L318.24,23.94 L318.48,24.23 L318.71,24.53 L318.95,24.84 L319.19,25.15 L319.43,25.49 L319.67,25.84 L319.9,26.2 L320.14,26.58 L320.38,26.99 L320.62,27.42 L320.86,27.86 L321.1,28.33 L321.33,28.81 L321.57,29.3 L321.81,29.79 L322.05,30.28 L322.29,30.77 L322.52,31.25 L322.76,31.72 L323,32.18 L323.24,32.64 L323.48,33.08 L323.72,33.51 L323.95,33.93 L324.19,34.34 L324.43,34.74 L324.67,35.13 L324.91,35.51 L325.14,35.88 L325.38,36.23 L325.62,36.58 L325.86,36.91 L326.1,37.23 L326.34,37.54 L326.57,37.84 L326.81,38.13 L327.05,38.4 L327.29,38.67 L327.53,38.93 L327.76,39.17 L328,39.41 L328.24,39.64 L328.48,39.86 L328.72,40.07 L328.96,40.27 L329.19,40.47 L329.43,40.65 L329.67,40.83 L329.91,41.01 L330.15,41.17 L330.38,41.33 L330.62,41.48 L330.86,41.63 L331.1,41.77 L331.34,41.91 L331.58,42.04 L331.81,42.17 L332.05,42.29 L332.29,42.41 L332.53,42.52 L332.77,42.63 L333.01,42.74 L333.24,42.84 L333.48,42.94 L333.72,43.03 L333.96,43.12 L334.2,43.21 L334.43,43.29 L334.67,43.37 L334.91,43.45 L335.15,43.52 L335.39,43.59 L335.63,43.66 L335.86,43.72 L336.1,43.78 L336.34,43.84 L336.58,43.9 L336.82,43.96 L337.05,44.01 L337.29,44.06 L337.53,44.11 L337.77,44.15 L338.01,44.2 L338.25,44.24 L338.48,44.28 L338.72,44.32 L338.96,44.36 L339.2,44.4 L339.44,44.43 L339.67,44.47 L339.91,44.5 L340.15,44.54 L340.39,44.57 L340.63,44.6 L340.87,44.64 L341.1,44.67 L341.34,44.7 L341.58,44.73 L341.82,44.76 L342.06,44.79 L342.29,44.82 L342.53,44.86 L342.77,44.89 L343.01,44.92 L343.25,44.96 L343.49,44.99 L343.72,45.03 L343.96,45.06 L344.2,45.1" fill="none" stroke="#3c8cf0" stroke-width="1.6" stroke-linejoin="round" stroke-linecap="round" />
<rect x="217" y="4.5" width="128" height="162" fill="none" stroke="#262626" stroke-width="1"/>
<line x1="293.5" y1="4.5" x2="293.5" y2="52.4" stroke="#262626" stroke-width="1"/>
<line x1="293.5" y1="52.4" x2="344.9" y2="52.4" stroke="#262626" stroke-width="1"/>
<line x1="296" y1="52.4" x2="296" y2="55.9" stroke="#262626" stroke-width="1"/>
<text transform="translate(296,65.2) scale(1,1.2)" font-size="7.6" text-anchor="middle" font-weight="normal" font-style="normal" fill="#1e1e1e" stroke="#1e1e1e" >0</text>
<line x1="313.72" y1="52.4" x2="313.72" y2="55.9" stroke="#262626" stroke-width="1"/>
<text transform="translate(313.72,65.2) scale(1,1.2)" font-size="7.6" text-anchor="middle" font-weight="normal" font-style="normal" fill="#1e1e1e" stroke="#1e1e1e" >4</text>
<line x1="331.44" y1="52.4" x2="331.44" y2="55.9" stroke="#262626" stroke-width="1"/>
<text transform="translate(331.44,65.2) scale(1,1.2)" font-size="7.6" text-anchor="middle" font-weight="normal" font-style="normal" fill="#1e1e1e" stroke="#1e1e1e" >8</text>
<line x1="304.86" y1="52.4" x2="304.86" y2="54.4" stroke="#262626" stroke-width="1"/>
<line x1="322.58" y1="52.4" x2="322.58" y2="54.4" stroke="#262626" stroke-width="1"/>
<line x1="340.3" y1="52.4" x2="340.3" y2="54.4" stroke="#262626" stroke-width="1"/>
<line x1="290" y1="44.7" x2="293.5" y2="44.7" stroke="#262626" stroke-width="1"/>
<text transform="translate(287,48) scale(1,1.2)" font-size="7.6" text-anchor="end" font-weight="normal" font-style="normal" fill="#1e1e1e" stroke="#1e1e1e" >0.0</text>
<line x1="290" y1="29.85" x2="293.5" y2="29.85" stroke="#262626" stroke-width="1"/>
<text transform="translate(287,33.15) scale(1,1.2)" font-size="7.6" text-anchor="end" font-weight="normal" font-style="normal" fill="#1e1e1e" stroke="#1e1e1e" >0.8</text>
<line x1="290" y1="15" x2="293.5" y2="15" stroke="#262626" stroke-width="1"/>
<text transform="translate(287,18.3) scale(1,1.2)" font-size="7.6" text-anchor="end" font-weight="normal" font-style="normal" fill="#1e1e1e" stroke="#1e1e1e" >1.6</text>
<line x1="291.5" y1="37.28" x2="293.5" y2="37.28" stroke="#262626" stroke-width="1"/>
<line x1="291.5" y1="22.43" x2="293.5" y2="22.43" stroke="#262626" stroke-width="1"/>
<line x1="291.5" y1="7.58" x2="293.5" y2="7.58" stroke="#262626" stroke-width="1"/>
<text transform="translate(319.8,72.9) scale(1,1.2)" font-size="7.0" text-anchor="middle" font-weight="normal" font-style="normal" fill="#1e1e1e" stroke="#1e1e1e" ><tspan font-style="italic">T</tspan> (K)</text>
<text transform="translate(269.2,28.7) rotate(-90) scale(1,1.2)" font-size="7.1" text-anchor="middle" fill="#1e1e1e" stroke="#1e1e1e"><tspan font-style="italic">dR</tspan>/<tspan font-style="italic">dT</tspan> (mΩ/K)</text>
<text transform="translate(342.6,11.9) scale(1,1.2)" font-size="7.3" text-anchor="end" font-weight="normal" font-style="normal" fill="#1e1e1e" stroke="#1e1e1e" ><tspan font-style="italic">B</tspan> = 10 T</text>
<path d="M307,19 L305.4,22 L308.6,22 Z" fill="#ff2020"/>
<line x1="307" y1="21.5" x2="307" y2="25" stroke="#ff2020" stroke-width="0.8"/>
<text transform="translate(304.2,32) scale(1,1.2)" font-size="7.4" font-weight="bold" font-style="italic" fill="#ff2020" stroke="#ff2020">T<tspan font-size="5.2" dy="1.8" font-style="normal">N2</tspan></text>
<path d="M320.3,33 L318.7,36 L321.9,36 Z" fill="#111"/>
<line x1="320.3" y1="35.5" x2="320.3" y2="39" stroke="#111" stroke-width="0.8"/>
<text transform="translate(317.6,47) scale(1,1.2)" font-size="7.4" font-weight="bold" font-style="italic" fill="#111" stroke="#111">T<tspan font-size="5.2" dy="1.8" font-style="normal">N</tspan></text>
<line x1="218.7" y1="166.5" x2="218.7" y2="170.5" stroke="#262626" stroke-width="1"/>
<line x1="250.3" y1="166.5" x2="250.3" y2="170.5" stroke="#262626" stroke-width="1"/>
<line x1="281.9" y1="166.5" x2="281.9" y2="170.5" stroke="#262626" stroke-width="1"/>
<line x1="313.5" y1="166.5" x2="313.5" y2="170.5" stroke="#262626" stroke-width="1"/>
<line x1="345.1" y1="166.5" x2="345.1" y2="170.5" stroke="#262626" stroke-width="1"/>
<line x1="234.5" y1="166.5" x2="234.5" y2="168.7" stroke="#262626" stroke-width="1"/>
<line x1="266.1" y1="166.5" x2="266.1" y2="168.7" stroke="#262626" stroke-width="1"/>
<line x1="297.7" y1="166.5" x2="297.7" y2="168.7" stroke="#262626" stroke-width="1"/>
<line x1="329.3" y1="166.5" x2="329.3" y2="168.7" stroke="#262626" stroke-width="1"/>
<text transform="translate(218.7,180.2) scale(1,1.2)" font-size="7.6" text-anchor="middle" font-weight="normal" font-style="normal" fill="#1e1e1e" stroke="#1e1e1e" >0</text>
<text transform="translate(250.3,180.2) scale(1,1.2)" font-size="7.6" text-anchor="middle" font-weight="normal" font-style="normal" fill="#1e1e1e" stroke="#1e1e1e" >4</text>
<text transform="translate(281.9,180.2) scale(1,1.2)" font-size="7.6" text-anchor="middle" font-weight="normal" font-style="normal" fill="#1e1e1e" stroke="#1e1e1e" >8</text>
<text transform="translate(313.5,180.2) scale(1,1.2)" font-size="7.6" text-anchor="middle" font-weight="normal" font-style="normal" fill="#1e1e1e" stroke="#1e1e1e" >12</text>
<text transform="translate(345.1,180.2) scale(1,1.2)" font-size="7.6" text-anchor="middle" font-weight="normal" font-style="normal" fill="#1e1e1e" stroke="#1e1e1e" >16</text>
<line x1="213.2" y1="147.6" x2="217" y2="147.6" stroke="#262626" stroke-width="1"/>
<line x1="213.2" y1="111.9" x2="217" y2="111.9" stroke="#262626" stroke-width="1"/>
<line x1="213.2" y1="76.2" x2="217" y2="76.2" stroke="#262626" stroke-width="1"/>
<line x1="213.2" y1="40.5" x2="217" y2="40.5" stroke="#262626" stroke-width="1"/>
<line x1="213.2" y1="4.8" x2="217" y2="4.8" stroke="#262626" stroke-width="1"/>
<line x1="214.8" y1="165.45" x2="217" y2="165.45" stroke="#262626" stroke-width="1"/>
<line x1="214.8" y1="129.75" x2="217" y2="129.75" stroke="#262626" stroke-width="1"/>
<line x1="214.8" y1="94.05" x2="217" y2="94.05" stroke="#262626" stroke-width="1"/>
<line x1="214.8" y1="58.35" x2="217" y2="58.35" stroke="#262626" stroke-width="1"/>
<line x1="214.8" y1="22.65" x2="217" y2="22.65" stroke="#262626" stroke-width="1"/>
<text transform="translate(210.4,149.98) scale(1,1.2)" font-size="7.6" text-anchor="end" font-weight="normal" font-style="normal" fill="#1e1e1e" stroke="#1e1e1e" >0.0</text>
<text transform="translate(210.4,114.28) scale(1,1.2)" font-size="7.6" text-anchor="end" font-weight="normal" font-style="normal" fill="#1e1e1e" stroke="#1e1e1e" >0.6</text>
<text transform="translate(210.4,78.58) scale(1,1.2)" font-size="7.6" text-anchor="end" font-weight="normal" font-style="normal" fill="#1e1e1e" stroke="#1e1e1e" >1.2</text>
<text transform="translate(210.4,42.88) scale(1,1.2)" font-size="7.6" text-anchor="end" font-weight="normal" font-style="normal" fill="#1e1e1e" stroke="#1e1e1e" >1.8</text>
<text transform="translate(210.4,7.18) scale(1,1.2)" font-size="7.6" text-anchor="end" font-weight="normal" font-style="normal" fill="#1e1e1e" stroke="#1e1e1e" >2.4</text>
<line x1="305.1" y1="84.1" x2="323.3" y2="84.1" stroke="#ff4040" stroke-width="1.6"/>
<text transform="translate(325.7,87) scale(1,1.2)" font-size="8" text-anchor="start" font-weight="normal" font-style="normal" fill="#1e1e1e" stroke="#1e1e1e" >0 T</text>
<line x1="305.1" y1="94.28" x2="323.3" y2="94.28" stroke="#f08848" stroke-width="1.6"/>
<text transform="translate(325.7,97.18) scale(1,1.2)" font-size="8" text-anchor="start" font-weight="normal" font-style="normal" fill="#1e1e1e" stroke="#1e1e1e" >4 T</text>
<line x1="305.1" y1="104.46" x2="323.3" y2="104.46" stroke="#b0b434" stroke-width="1.6"/>
<text transform="translate(325.7,107.36) scale(1,1.2)" font-size="8" text-anchor="start" font-weight="normal" font-style="normal" fill="#1e1e1e" stroke="#1e1e1e" >6 T</text>
<line x1="305.1" y1="114.64" x2="323.3" y2="114.64" stroke="#60f040" stroke-width="1.6"/>
<text transform="translate(325.7,117.54) scale(1,1.2)" font-size="8" text-anchor="start" font-weight="normal" font-style="normal" fill="#1e1e1e" stroke="#1e1e1e" >8 T</text>
<line x1="305.1" y1="124.82" x2="323.3" y2="124.82" stroke="#58a8ff" stroke-width="1.6"/>
<text transform="translate(325.7,127.72) scale(1,1.2)" font-size="8" text-anchor="start" font-weight="normal" font-style="normal" fill="#1e1e1e" stroke="#1e1e1e" >10 T</text>
<line x1="305.1" y1="135" x2="323.3" y2="135" stroke="#8040f0" stroke-width="1.6"/>
<text transform="translate(325.7,137.9) scale(1,1.2)" font-size="8" text-anchor="start" font-weight="normal" font-style="normal" fill="#1e1e1e" stroke="#1e1e1e" >11 T</text>
<line x1="305.1" y1="145.18" x2="323.3" y2="145.18" stroke="#c050ff" stroke-width="1.6"/>
<text transform="translate(325.7,148.08) scale(1,1.2)" font-size="8" text-anchor="start" font-weight="normal" font-style="normal" fill="#1e1e1e" stroke="#1e1e1e" >12 T</text>
<text transform="translate(253.8,158.6) scale(1,1.2)" font-size="8" text-anchor="middle" font-weight="normal" font-style="normal" fill="#1e1e1e" stroke="#1e1e1e" ><tspan font-style="italic">P</tspan> = 0.5 GPa</text>
<text transform="translate(281.3,194.7) scale(1,1.14)" font-size="10.1" text-anchor="middle" fill="#1e1e1e" stroke="#1e1e1e"><tspan font-style="italic">T</tspan> (K)</text>
<text transform="translate(181.7,85.5) rotate(-90) scale(1,1.14)" x="0" y="0" font-size="10.1" text-anchor="middle" fill="#1e1e1e" stroke="#1e1e1e"><tspan font-style="italic">dR</tspan>/<tspan font-style="italic">dT</tspan> (mΩ/K)</text>
<text transform="translate(171.4,9.2) scale(1,1.0)" font-size="9.8" fill="#1e1e1e" stroke="#1e1e1e">(b)</text>
<path d="M392.3,143.6 L392.45,143.6 L392.59,143.59 L392.74,143.59 L392.89,143.58 L393.03,143.58 L393.18,143.57 L393.33,143.57 L393.47,143.56 L393.62,143.56 L393.77,143.55 L393.91,143.54 L394.06,143.54 L394.21,143.53 L394.35,143.52 L394.5,143.52 L394.64,143.51 L394.79,143.5 L394.94,143.49 L395.08,143.48 L395.23,143.47 L395.38,143.46 L395.52,143.45 L395.67,143.44 L395.82,143.43 L395.96,143.42 L396.11,143.41 L396.26,143.4 L396.4,143.39 L396.55,143.38 L396.7,143.37 L396.84,143.35 L396.99,143.34 L397.14,143.33 L397.28,143.31 L397.43,143.3 L397.58,143.29 L397.72,143.27 L397.87,143.26 L398.02,143.24 L398.16,143.23 L398.31,143.21 L398.46,143.2 L398.6,143.18 L398.75,143.16 L398.9,143.15 L399.04,143.13 L399.19,143.11 L399.33,143.09 L399.48,143.07 L399.63,143.05 L399.77,143.04 L399.92,143.02 L400.07,143 L400.21,142.98 L400.36,142.96 L400.51,142.93 L400.65,142.91 L400.8,142.89 L400.95,142.87 L401.09,142.85 L401.24,142.82 L401.39,142.8 L401.53,142.78 L401.68,142.75 L401.83,142.73 L401.97,142.7 L402.12,142.68 L402.27,142.65 L402.41,142.63 L402.56,142.6 L402.71,142.58 L402.85,142.55 L403,142.52 L403.15,142.49 L403.29,142.47 L403.44,142.44 L403.58,142.41 L403.73,142.38 L403.88,142.35 L404.02,142.32 L404.17,142.29 L404.32,142.26 L404.46,142.23 L404.61,142.19 L404.76,142.16 L404.9,142.13 L405.05,142.1 L405.2,142.06 L405.34,142.03 L405.49,142 L405.64,141.96 L405.78,141.93 L405.93,141.89 L406.08,141.85 L406.22,141.82 L406.37,141.78 L406.52,141.74 L406.66,141.71 L406.81,141.67 L406.96,141.63 L407.1,141.59 L407.25,141.55 L407.4,141.51 L407.54,141.47 L407.69,141.43 L407.84,141.39 L407.98,141.35 L408.13,141.31 L408.27,141.26 L408.42,141.22 L408.57,141.18 L408.71,141.13 L408.86,141.09 L409.01,141.04 L409.15,141 L409.3,140.95 L409.45,140.91 L409.59,140.86 L409.74,140.81 L409.89,140.77 L410.03,140.72 L410.18,140.67 L410.33,140.62 L410.47,140.57 L410.62,140.52 L410.77,140.47 L410.91,140.42 L411.06,140.37 L411.21,140.32 L411.35,140.26 L411.5,140.21 L411.65,140.16 L411.79,140.1 L411.94,140.05 L412.09,139.99 L412.23,139.94 L412.38,139.88 L412.53,139.83 L412.67,139.77 L412.82,139.71 L412.96,139.65 L413.11,139.6 L413.26,139.54 L413.4,139.48 L413.55,139.42 L413.7,139.36 L413.84,139.3 L413.99,139.24 L414.14,139.17 L414.28,139.11 L414.43,139.05 L414.58,138.99 L414.72,138.92 L414.87,138.86 L415.02,138.79 L415.16,138.73 L415.31,138.66 L415.46,138.6 L415.6,138.53 L415.75,138.46 L415.9,138.39 L416.04,138.33 L416.19,138.26 L416.34,138.19 L416.48,138.12 L416.63,138.05 L416.78,137.98 L416.92,137.91 L417.07,137.83 L417.21,137.76 L417.36,137.69 L417.51,137.62 L417.65,137.54 L417.8,137.47 L417.95,137.4 L418.09,137.32 L418.24,137.24 L418.39,137.17 L418.53,137.09 L418.68,137.02 L418.83,136.94 L418.97,136.86 L419.12,136.78 L419.27,136.7 L419.41,136.62 L419.56,136.54 L419.71,136.46 L419.85,136.38 L420,136.3 L420.15,136.22 L420.29,136.14 L420.44,136.05 L420.59,135.97 L420.73,135.89 L420.88,135.8 L421.03,135.72 L421.17,135.63 L421.32,135.55 L421.47,135.46 L421.61,135.38 L421.76,135.29 L421.9,135.2 L422.05,135.11 L422.2,135.03 L422.34,134.94 L422.49,134.85 L422.64,134.76 L422.78,134.67 L422.93,134.58 L423.08,134.5 L423.22,134.41 L423.37,134.32 L423.52,134.23 L423.66,134.13 L423.81,134.04 L423.96,133.95 L424.1,133.86 L424.25,133.77 L424.4,133.68 L424.54,133.59 L424.69,133.5 L424.84,133.4 L424.98,133.31 L425.13,133.22 L425.28,133.13 L425.42,133.03 L425.57,132.94 L425.72,132.85 L425.86,132.76 L426.01,132.66 L426.15,132.57 L426.3,132.48 L426.45,132.38 L426.59,132.29 L426.74,132.2 L426.89,132.11 L427.03,132.01 L427.18,131.92 L427.33,131.83 L427.47,131.73 L427.62,131.64 L427.77,131.55 L427.91,131.45 L428.06,131.36 L428.21,131.27 L428.35,131.18 L428.5,131.08 L428.65,130.99 L428.79,130.9 L428.94,130.81 L429.09,130.71 L429.23,130.62 L429.38,130.53 L429.53,130.44 L429.67,130.34 L429.82,130.25 L429.97,130.16 L430.11,130.07 L430.26,129.97 L430.41,129.88 L430.55,129.79 L430.7,129.7 L430.84,129.6 L430.99,129.51 L431.14,129.42 L431.28,129.32 L431.43,129.23 L431.58,129.14 L431.72,129.04 L431.87,128.95 L432.02,128.85 L432.16,128.76 L432.31,128.67 L432.46,128.57 L432.6,128.48 L432.75,128.38 L432.9,128.29 L433.04,128.19 L433.19,128.09 L433.34,128 L433.48,127.9 L433.63,127.81 L433.78,127.71 L433.92,127.61 L434.07,127.51 L434.22,127.42 L434.36,127.32 L434.51,127.22 L434.66,127.12 L434.8,127.02 L434.95,126.92 L435.09,126.82 L435.24,126.72 L435.39,126.62 L435.53,126.52 L435.68,126.42 L435.83,126.32 L435.97,126.22 L436.12,126.12 L436.27,126.01 L436.41,125.91 L436.56,125.81 L436.71,125.7 L436.85,125.6 L437,125.49 L437.15,125.39 L437.29,125.28 L437.44,125.17 L437.59,125.07 L437.73,124.96 L437.88,124.85 L438.03,124.74 L438.17,124.63 L438.32,124.52 L438.47,124.41 L438.61,124.3 L438.76,124.19 L438.91,124.08 L439.05,123.97 L439.2,123.85 L439.35,123.74 L439.49,123.63 L439.64,123.51 L439.78,123.4 L439.93,123.28 L440.08,123.16 L440.22,123.05 L440.37,122.93 L440.52,122.81 L440.66,122.69 L440.81,122.57 L440.96,122.45 L441.1,122.33 L441.25,122.21 L441.4,122.09 L441.54,121.96 L441.69,121.84 L441.84,121.72 L441.98,121.59 L442.13,121.47 L442.28,121.34 L442.42,121.21 L442.57,121.09 L442.72,120.96 L442.86,120.83 L443.01,120.7 L443.16,120.57 L443.3,120.44 L443.45,120.3 L443.6,120.17 L443.74,120.04 L443.89,119.9 L444.04,119.77 L444.18,119.63 L444.33,119.49 L444.47,119.36 L444.62,119.22 L444.77,119.08 L444.91,118.94 L445.06,118.8 L445.21,118.66 L445.35,118.52 L445.5,118.38 L445.65,118.23 L445.79,118.09 L445.94,117.95 L446.09,117.8 L446.23,117.66 L446.38,117.51 L446.53,117.36 L446.67,117.22 L446.82,117.07 L446.97,116.92 L447.11,116.78 L447.26,116.63 L447.41,116.48 L447.55,116.33 L447.7,116.18 L447.85,116.03 L447.99,115.88 L448.14,115.73 L448.29,115.58 L448.43,115.43 L448.58,115.28 L448.72,115.13 L448.87,114.97 L449.02,114.82 L449.16,114.67 L449.31,114.52 L449.46,114.37 L449.6,114.21 L449.75,114.06 L449.9,113.91 L450.04,113.75 L450.19,113.6 L450.34,113.45 L450.48,113.29 L450.63,113.14 L450.78,112.99 L450.92,112.83 L451.07,112.68 L451.22,112.52 L451.36,112.37 L451.51,112.21 L451.66,112.06 L451.8,111.9 L451.95,111.74 L452.1,111.59 L452.24,111.43 L452.39,111.27 L452.54,111.11 L452.68,110.95 L452.83,110.79 L452.98,110.63 L453.12,110.46 L453.27,110.3 L453.41,110.14 L453.56,109.97 L453.71,109.81 L453.85,109.64 L454,109.47 L454.15,109.3 L454.29,109.13 L454.44,108.96 L454.59,108.78 L454.73,108.61 L454.88,108.43 L455.03,108.26 L455.17,108.08 L455.32,107.9 L455.47,107.72 L455.61,107.53 L455.76,107.35 L455.91,107.17 L456.05,106.98 L456.2,106.79 L456.35,106.6 L456.49,106.41 L456.64,106.21 L456.79,106.02 L456.93,105.82 L457.08,105.63 L457.23,105.43 L457.37,105.22 L457.52,105.02 L457.66,104.82 L457.81,104.61 L457.96,104.4 L458.1,104.2 L458.25,103.98 L458.4,103.77 L458.54,103.56 L458.69,103.34 L458.84,103.12 L458.98,102.91 L459.13,102.68 L459.28,102.46 L459.42,102.24 L459.57,102.01 L459.72,101.78 L459.86,101.55 L460.01,101.32 L460.16,101.09 L460.3,100.85 L460.45,100.62 L460.6,100.38 L460.74,100.14 L460.89,99.9 L461.04,99.65 L461.18,99.41 L461.33,99.16 L461.48,98.91 L461.62,98.66 L461.77,98.4 L461.92,98.15 L462.06,97.89 L462.21,97.63 L462.35,97.37 L462.5,97.11 L462.65,96.84 L462.79,96.58 L462.94,96.31 L463.09,96.04 L463.23,95.77 L463.38,95.5 L463.53,95.23 L463.67,94.96 L463.82,94.68 L463.97,94.41 L464.11,94.13 L464.26,93.85 L464.41,93.58 L464.55,93.3 L464.7,93.02 L464.85,92.74 L464.99,92.46 L465.14,92.18 L465.29,91.9 L465.43,91.62 L465.58,91.34 L465.73,91.06 L465.87,90.78 L466.02,90.5 L466.17,90.22 L466.31,89.94 L466.46,89.67 L466.61,89.39 L466.75,89.11 L466.9,88.83 L467.04,88.56 L467.19,88.28 L467.34,88.01 L467.48,87.74 L467.63,87.47 L467.78,87.2 L467.92,86.93 L468.07,86.66 L468.22,86.39 L468.36,86.13 L468.51,85.87 L468.66,85.6 L468.8,85.35 L468.95,85.09 L469.1,84.83 L469.24,84.58 L469.39,84.33 L469.54,84.08 L469.68,83.83 L469.83,83.58 L469.98,83.34 L470.12,83.09 L470.27,82.85 L470.42,82.61 L470.56,82.37 L470.71,82.13 L470.86,81.9 L471,81.66 L471.15,81.43 L471.29,81.2 L471.44,80.96 L471.59,80.73 L471.73,80.5 L471.88,80.27 L472.03,80.05 L472.17,79.82 L472.32,79.59 L472.47,79.37 L472.61,79.14 L472.76,78.91 L472.91,78.69 L473.05,78.47 L473.2,78.24 L473.35,78.02 L473.49,77.8 L473.64,77.57 L473.79,77.35 L473.93,77.13 L474.08,76.9 L474.23,76.68 L474.37,76.46 L474.52,76.23 L474.67,76.01 L474.81,75.79 L474.96,75.56 L475.11,75.34 L475.25,75.11 L475.4,74.89 L475.55,74.66 L475.69,74.44 L475.84,74.22 L475.98,73.99 L476.13,73.77 L476.28,73.55 L476.42,73.33 L476.57,73.11 L476.72,72.9 L476.86,72.68 L477.01,72.47 L477.16,72.26 L477.3,72.06 L477.45,71.85 L477.6,71.65 L477.74,71.46 L477.89,71.26 L478.04,71.07 L478.18,70.89 L478.33,70.71 L478.48,70.53 L478.62,70.36 L478.77,70.19 L478.92,70.03 L479.06,69.87 L479.21,69.71 L479.36,69.57 L479.5,69.42 L479.65,69.29 L479.8,69.15 L479.94,69.03 L480.09,68.91 L480.23,68.79 L480.38,68.68 L480.53,68.58 L480.67,68.48 L480.82,68.39 L480.97,68.3 L481.11,68.22 L481.26,68.15 L481.41,68.09 L481.55,68.04 L481.7,68 L481.85,67.97 L481.99,67.96 L482.14,67.96 L482.29,67.98 L482.43,68.01 L482.58,68.06 L482.73,68.12 L482.87,68.2 L483.02,68.3 L483.17,68.41 L483.31,68.54 L483.46,68.68 L483.61,68.84 L483.75,69 L483.9,69.19 L484.05,69.38 L484.19,69.59 L484.34,69.81 L484.49,70.04 L484.63,70.28 L484.78,70.53 L484.92,70.8 L485.07,71.07 L485.22,71.36 L485.36,71.66 L485.51,71.96 L485.66,72.28 L485.8,72.61 L485.95,72.95 L486.1,73.3 L486.24,73.65 L486.39,74.02 L486.54,74.4 L486.68,74.79 L486.83,75.18 L486.98,75.58 L487.12,76 L487.27,76.42 L487.42,76.85 L487.56,77.29 L487.71,77.73 L487.86,78.19 L488,78.65 L488.15,79.12 L488.3,79.59 L488.44,80.07 L488.59,80.55 L488.74,81.04 L488.88,81.53 L489.03,82.02 L489.17,82.51 L489.32,83.01 L489.47,83.5 L489.61,84 L489.76,84.5 L489.91,84.99 L490.05,85.49 L490.2,85.98 L490.35,86.46 L490.49,86.95 L490.64,87.43 L490.79,87.9 L490.93,88.37 L491.08,88.84 L491.23,89.29 L491.37,89.75 L491.52,90.19 L491.67,90.62 L491.81,91.05 L491.96,91.47 L492.11,91.89 L492.25,92.29 L492.4,92.69 L492.55,93.08 L492.69,93.46 L492.84,93.84 L492.99,94.2 L493.13,94.56 L493.28,94.91 L493.43,95.25 L493.57,95.58 L493.72,95.91 L493.86,96.22 L494.01,96.52 L494.16,96.82 L494.3,97.1 L494.45,97.38 L494.6,97.65 L494.74,97.91 L494.89,98.16 L495.04,98.4 L495.18,98.63 L495.33,98.85 L495.48,99.06 L495.62,99.27 L495.77,99.46 L495.92,99.65 L496.06,99.82 L496.21,99.99 L496.36,100.15 L496.5,100.3 L496.65,100.44 L496.8,100.58 L496.94,100.7 L497.09,100.82 L497.24,100.93 L497.38,101.03 L497.53,101.13 L497.68,101.22 L497.82,101.3 L497.97,101.38 L498.12,101.45 L498.26,101.52 L498.41,101.59 L498.55,101.64 L498.7,101.7 L498.85,101.75 L498.99,101.8 L499.14,101.84 L499.29,101.89 L499.43,101.92 L499.58,101.96 L499.73,101.99 L499.87,102.03 L500.02,102.05 L500.17,102.08 L500.31,102.1 L500.46,102.12 L500.61,102.14 L500.75,102.16 L500.9,102.17 L501.05,102.18 L501.19,102.19 L501.34,102.2 L501.49,102.2 L501.63,102.2 L501.78,102.2 L501.93,102.2 L502.07,102.2 L502.22,102.19 L502.37,102.19 L502.51,102.18 L502.66,102.17 L502.8,102.15 L502.95,102.14 L503.1,102.12 L503.24,102.1 L503.39,102.09 L503.54,102.07 L503.68,102.04 L503.83,102.02 L503.98,102 L504.12,101.97 L504.27,101.95 L504.42,101.92 L504.56,101.89 L504.71,101.86 L504.86,101.83 L505,101.8 L505.15,101.77 L505.3,101.74 L505.44,101.7 L505.59,101.67 L505.74,101.64 L505.88,101.6 L506.03,101.57 L506.18,101.53 L506.32,101.5 L506.47,101.46 L506.62,101.42 L506.76,101.39 L506.91,101.35 L507.06,101.32 L507.2,101.28 L507.35,101.25 L507.49,101.21 L507.64,101.18 L507.79,101.14 L507.93,101.11 L508.08,101.07 L508.23,101.04 L508.37,101.01 L508.52,100.98 L508.67,100.94 L508.81,100.91 L508.96,100.88 L509.11,100.86 L509.25,100.83 L509.4,100.8" fill="none" stroke="#5ef07a" stroke-width="1.0" stroke-linejoin="round" stroke-linecap="round" />
<rect x="391.3" y="142.6" width="2" height="2" fill="#5ef07a"/>
<rect x="393.9" y="142.49" width="2" height="2" fill="#5ef07a"/>
<rect x="396.49" y="142.29" width="2" height="2" fill="#5ef07a"/>
<rect x="399.07" y="142" width="2" height="2" fill="#5ef07a"/>
<rect x="401.64" y="141.59" width="2" height="2" fill="#5ef07a"/>
<rect x="404.19" y="141.07" width="2" height="2" fill="#5ef07a"/>
<rect x="406.71" y="140.43" width="2" height="2" fill="#5ef07a"/>
<rect x="409.19" y="139.66" width="2" height="2" fill="#5ef07a"/>
<rect x="411.64" y="138.78" width="2" height="2" fill="#5ef07a"/>
<rect x="414.04" y="137.78" width="2" height="2" fill="#5ef07a"/>
<rect x="416.39" y="136.68" width="2" height="2" fill="#5ef07a"/>
<rect x="418.69" y="135.47" width="2" height="2" fill="#5ef07a"/>
<rect x="420.95" y="134.18" width="2" height="2" fill="#5ef07a"/>
<rect x="423.17" y="132.82" width="2" height="2" fill="#5ef07a"/>
<rect x="425.37" y="131.44" width="2" height="2" fill="#5ef07a"/>
<rect x="427.56" y="130.04" width="2" height="2" fill="#5ef07a"/>
<rect x="429.76" y="128.66" width="2" height="2" fill="#5ef07a"/>
<rect x="431.95" y="127.25" width="2" height="2" fill="#5ef07a"/>
<rect x="434.11" y="125.81" width="2" height="2" fill="#5ef07a"/>
<rect x="436.24" y="124.32" width="2" height="2" fill="#5ef07a"/>
<rect x="438.32" y="122.76" width="2" height="2" fill="#5ef07a"/>
<rect x="440.35" y="121.13" width="2" height="2" fill="#5ef07a"/>
<rect x="442.31" y="119.43" width="2" height="2" fill="#5ef07a"/>
<rect x="444.22" y="117.65" width="2" height="2" fill="#5ef07a"/>
<rect x="446.06" y="115.82" width="2" height="2" fill="#5ef07a"/>
<rect x="447.88" y="113.96" width="2" height="2" fill="#5ef07a"/>
<rect x="449.68" y="112.09" width="2" height="2" fill="#5ef07a"/>
<rect x="451.46" y="110.19" width="2" height="2" fill="#5ef07a"/>
<rect x="453.19" y="108.25" width="2" height="2" fill="#5ef07a"/>
<rect x="454.84" y="106.25" width="2" height="2" fill="#5ef07a"/>
<rect x="456.41" y="104.17" width="2" height="2" fill="#5ef07a"/>
<rect x="457.9" y="102.04" width="2" height="2" fill="#5ef07a"/>
<rect x="459.3" y="99.85" width="2" height="2" fill="#5ef07a"/>
<rect x="460.64" y="97.62" width="2" height="2" fill="#5ef07a"/>
<rect x="461.92" y="95.36" width="2" height="2" fill="#5ef07a"/>
<rect x="463.15" y="93.07" width="2" height="2" fill="#5ef07a"/>
<rect x="464.36" y="90.77" width="2" height="2" fill="#5ef07a"/>
<rect x="465.57" y="88.46" width="2" height="2" fill="#5ef07a"/>
<rect x="466.79" y="86.17" width="2" height="2" fill="#5ef07a"/>
<rect x="468.06" y="83.9" width="2" height="2" fill="#5ef07a"/>
<rect x="469.38" y="81.66" width="2" height="2" fill="#5ef07a"/>
<rect x="470.76" y="79.46" width="2" height="2" fill="#5ef07a"/>
<rect x="472.18" y="77.28" width="2" height="2" fill="#5ef07a"/>
<rect x="473.6" y="75.1" width="2" height="2" fill="#5ef07a"/>
<rect x="475.03" y="72.93" width="2" height="2" fill="#5ef07a"/>
<rect x="476.5" y="70.79" width="2" height="2" fill="#5ef07a"/>
<rect x="478.15" y="68.78" width="2" height="2" fill="#5ef07a"/>
<rect x="480.19" y="67.19" width="2" height="2" fill="#5ef07a"/>
<rect x="482.51" y="67.74" width="2" height="2" fill="#5ef07a"/>
<rect x="483.97" y="69.88" width="2" height="2" fill="#5ef07a"/>
<rect x="485.07" y="72.23" width="2" height="2" fill="#5ef07a"/>
<rect x="486" y="74.66" width="2" height="2" fill="#5ef07a"/>
<rect x="486.83" y="77.12" width="2" height="2" fill="#5ef07a"/>
<rect x="487.61" y="79.61" width="2" height="2" fill="#5ef07a"/>
<rect x="488.35" y="82.1" width="2" height="2" fill="#5ef07a"/>
<rect x="489.09" y="84.59" width="2" height="2" fill="#5ef07a"/>
<rect x="489.84" y="87.08" width="2" height="2" fill="#5ef07a"/>
<rect x="490.64" y="89.55" width="2" height="2" fill="#5ef07a"/>
<rect x="491.52" y="92" width="2" height="2" fill="#5ef07a"/>
<rect x="492.49" y="94.41" width="2" height="2" fill="#5ef07a"/>
<rect x="493.65" y="96.74" width="2" height="2" fill="#5ef07a"/>
<rect x="495.11" y="98.88" width="2" height="2" fill="#5ef07a"/>
<rect x="497.15" y="100.47" width="2" height="2" fill="#5ef07a"/>
<rect x="499.64" y="101.15" width="2" height="2" fill="#5ef07a"/>
<rect x="502.24" y="101.11" width="2" height="2" fill="#5ef07a"/>
<rect x="504.79" y="100.62" width="2" height="2" fill="#5ef07a"/>
<rect x="507.32" y="100.02" width="2" height="2" fill="#5ef07a"/>
<path d="M392.3,143.6 L392.45,143.6 L392.59,143.59 L392.74,143.59 L392.89,143.58 L393.03,143.58 L393.18,143.57 L393.33,143.56 L393.47,143.56 L393.62,143.55 L393.77,143.54 L393.91,143.54 L394.06,143.53 L394.21,143.52 L394.35,143.52 L394.5,143.51 L394.64,143.5 L394.79,143.49 L394.94,143.48 L395.08,143.47 L395.23,143.46 L395.38,143.45 L395.52,143.44 L395.67,143.43 L395.82,143.42 L395.96,143.41 L396.11,143.4 L396.26,143.39 L396.4,143.38 L396.55,143.37 L396.7,143.36 L396.84,143.34 L396.99,143.33 L397.14,143.32 L397.28,143.3 L397.43,143.29 L397.58,143.28 L397.72,143.26 L397.87,143.25 L398.02,143.23 L398.16,143.22 L398.31,143.2 L398.46,143.19 L398.6,143.17 L398.75,143.15 L398.9,143.14 L399.04,143.12 L399.19,143.1 L399.33,143.09 L399.48,143.07 L399.63,143.05 L399.77,143.03 L399.92,143.01 L400.07,142.99 L400.21,142.97 L400.36,142.95 L400.51,142.93 L400.65,142.91 L400.8,142.89 L400.95,142.87 L401.09,142.84 L401.24,142.82 L401.39,142.8 L401.53,142.78 L401.68,142.75 L401.83,142.73 L401.97,142.7 L402.12,142.68 L402.27,142.65 L402.41,142.63 L402.56,142.6 L402.71,142.58 L402.85,142.55 L403,142.52 L403.15,142.5 L403.29,142.47 L403.44,142.44 L403.58,142.41 L403.73,142.38 L403.88,142.35 L404.02,142.32 L404.17,142.29 L404.32,142.26 L404.46,142.23 L404.61,142.2 L404.76,142.17 L404.9,142.14 L405.05,142.1 L405.2,142.07 L405.34,142.04 L405.49,142 L405.64,141.97 L405.78,141.93 L405.93,141.9 L406.08,141.86 L406.22,141.83 L406.37,141.79 L406.52,141.75 L406.66,141.72 L406.81,141.68 L406.96,141.64 L407.1,141.6 L407.25,141.56 L407.4,141.52 L407.54,141.48 L407.69,141.44 L407.84,141.4 L407.98,141.36 L408.13,141.32 L408.27,141.27 L408.42,141.23 L408.57,141.19 L408.71,141.14 L408.86,141.1 L409.01,141.05 L409.15,141.01 L409.3,140.96 L409.45,140.92 L409.59,140.87 L409.74,140.82 L409.89,140.77 L410.03,140.72 L410.18,140.68 L410.33,140.63 L410.47,140.58 L410.62,140.53 L410.77,140.47 L410.91,140.42 L411.06,140.37 L411.21,140.32 L411.35,140.27 L411.5,140.21 L411.65,140.16 L411.79,140.1 L411.94,140.05 L412.09,139.99 L412.23,139.94 L412.38,139.88 L412.53,139.82 L412.67,139.76 L412.82,139.71 L412.96,139.65 L413.11,139.59 L413.26,139.53 L413.4,139.47 L413.55,139.41 L413.7,139.34 L413.84,139.28 L413.99,139.22 L414.14,139.16 L414.28,139.09 L414.43,139.03 L414.58,138.96 L414.72,138.9 L414.87,138.83 L415.02,138.77 L415.16,138.7 L415.31,138.63 L415.46,138.56 L415.6,138.5 L415.75,138.43 L415.9,138.36 L416.04,138.29 L416.19,138.22 L416.34,138.15 L416.48,138.07 L416.63,138 L416.78,137.93 L416.92,137.86 L417.07,137.78 L417.21,137.71 L417.36,137.63 L417.51,137.56 L417.65,137.48 L417.8,137.41 L417.95,137.33 L418.09,137.25 L418.24,137.18 L418.39,137.1 L418.53,137.02 L418.68,136.94 L418.83,136.86 L418.97,136.78 L419.12,136.7 L419.27,136.62 L419.41,136.53 L419.56,136.45 L419.71,136.37 L419.85,136.28 L420,136.2 L420.15,136.12 L420.29,136.03 L420.44,135.94 L420.59,135.86 L420.73,135.77 L420.88,135.68 L421.03,135.6 L421.17,135.51 L421.32,135.42 L421.47,135.33 L421.61,135.24 L421.76,135.15 L421.9,135.06 L422.05,134.97 L422.2,134.88 L422.34,134.78 L422.49,134.69 L422.64,134.6 L422.78,134.5 L422.93,134.41 L423.08,134.31 L423.22,134.22 L423.37,134.12 L423.52,134.02 L423.66,133.93 L423.81,133.83 L423.96,133.73 L424.1,133.63 L424.25,133.53 L424.4,133.43 L424.54,133.33 L424.69,133.23 L424.84,133.13 L424.98,133.03 L425.13,132.92 L425.28,132.82 L425.42,132.72 L425.57,132.61 L425.72,132.51 L425.86,132.4 L426.01,132.3 L426.15,132.19 L426.3,132.08 L426.45,131.97 L426.59,131.87 L426.74,131.76 L426.89,131.65 L427.03,131.54 L427.18,131.43 L427.33,131.32 L427.47,131.21 L427.62,131.09 L427.77,130.98 L427.91,130.87 L428.06,130.75 L428.21,130.64 L428.35,130.52 L428.5,130.41 L428.65,130.29 L428.79,130.18 L428.94,130.06 L429.09,129.94 L429.23,129.82 L429.38,129.7 L429.53,129.58 L429.67,129.46 L429.82,129.34 L429.97,129.22 L430.11,129.1 L430.26,128.98 L430.41,128.86 L430.55,128.73 L430.7,128.61 L430.84,128.49 L430.99,128.36 L431.14,128.24 L431.28,128.11 L431.43,127.98 L431.58,127.86 L431.72,127.73 L431.87,127.6 L432.02,127.47 L432.16,127.35 L432.31,127.22 L432.46,127.09 L432.6,126.96 L432.75,126.83 L432.9,126.69 L433.04,126.56 L433.19,126.43 L433.34,126.3 L433.48,126.16 L433.63,126.03 L433.78,125.9 L433.92,125.76 L434.07,125.63 L434.22,125.49 L434.36,125.35 L434.51,125.22 L434.66,125.08 L434.8,124.94 L434.95,124.8 L435.09,124.67 L435.24,124.53 L435.39,124.39 L435.53,124.25 L435.68,124.11 L435.83,123.97 L435.97,123.82 L436.12,123.68 L436.27,123.54 L436.41,123.4 L436.56,123.25 L436.71,123.11 L436.85,122.97 L437,122.82 L437.15,122.68 L437.29,122.53 L437.44,122.39 L437.59,122.24 L437.73,122.09 L437.88,121.95 L438.03,121.8 L438.17,121.65 L438.32,121.5 L438.47,121.36 L438.61,121.21 L438.76,121.06 L438.91,120.91 L439.05,120.76 L439.2,120.61 L439.35,120.46 L439.49,120.31 L439.64,120.15 L439.78,120 L439.93,119.85 L440.08,119.7 L440.22,119.54 L440.37,119.39 L440.52,119.24 L440.66,119.08 L440.81,118.93 L440.96,118.77 L441.1,118.62 L441.25,118.46 L441.4,118.31 L441.54,118.15 L441.69,118 L441.84,117.84 L441.98,117.68 L442.13,117.53 L442.28,117.37 L442.42,117.21 L442.57,117.05 L442.72,116.9 L442.86,116.74 L443.01,116.58 L443.16,116.42 L443.3,116.26 L443.45,116.1 L443.6,115.94 L443.74,115.78 L443.89,115.62 L444.04,115.46 L444.18,115.3 L444.33,115.14 L444.47,114.98 L444.62,114.82 L444.77,114.66 L444.91,114.49 L445.06,114.33 L445.21,114.17 L445.35,114 L445.5,113.84 L445.65,113.67 L445.79,113.51 L445.94,113.34 L446.09,113.18 L446.23,113.01 L446.38,112.84 L446.53,112.67 L446.67,112.5 L446.82,112.33 L446.97,112.16 L447.11,111.99 L447.26,111.81 L447.41,111.64 L447.55,111.46 L447.7,111.29 L447.85,111.11 L447.99,110.93 L448.14,110.75 L448.29,110.57 L448.43,110.39 L448.58,110.21 L448.72,110.02 L448.87,109.84 L449.02,109.65 L449.16,109.46 L449.31,109.27 L449.46,109.08 L449.6,108.89 L449.75,108.69 L449.9,108.5 L450.04,108.3 L450.19,108.1 L450.34,107.9 L450.48,107.7 L450.63,107.49 L450.78,107.29 L450.92,107.08 L451.07,106.87 L451.22,106.66 L451.36,106.45 L451.51,106.23 L451.66,106.02 L451.8,105.8 L451.95,105.58 L452.1,105.35 L452.24,105.13 L452.39,104.9 L452.54,104.67 L452.68,104.44 L452.83,104.21 L452.98,103.98 L453.12,103.74 L453.27,103.5 L453.41,103.26 L453.56,103.02 L453.71,102.78 L453.85,102.53 L454,102.29 L454.15,102.04 L454.29,101.79 L454.44,101.54 L454.59,101.28 L454.73,101.03 L454.88,100.77 L455.03,100.51 L455.17,100.25 L455.32,99.99 L455.47,99.73 L455.61,99.46 L455.76,99.2 L455.91,98.93 L456.05,98.66 L456.2,98.39 L456.35,98.12 L456.49,97.85 L456.64,97.58 L456.79,97.3 L456.93,97.02 L457.08,96.75 L457.23,96.47 L457.37,96.19 L457.52,95.91 L457.66,95.63 L457.81,95.34 L457.96,95.06 L458.1,94.77 L458.25,94.49 L458.4,94.2 L458.54,93.91 L458.69,93.62 L458.84,93.33 L458.98,93.04 L459.13,92.75 L459.28,92.46 L459.42,92.16 L459.57,91.87 L459.72,91.57 L459.86,91.28 L460.01,90.98 L460.16,90.68 L460.3,90.38 L460.45,90.09 L460.6,89.79 L460.74,89.49 L460.89,89.18 L461.04,88.88 L461.18,88.58 L461.33,88.28 L461.48,87.97 L461.62,87.67 L461.77,87.36 L461.92,87.05 L462.06,86.75 L462.21,86.44 L462.35,86.13 L462.5,85.82 L462.65,85.51 L462.79,85.2 L462.94,84.89 L463.09,84.57 L463.23,84.26 L463.38,83.94 L463.53,83.63 L463.67,83.31 L463.82,82.99 L463.97,82.67 L464.11,82.35 L464.26,82.03 L464.41,81.71 L464.55,81.39 L464.7,81.06 L464.85,80.74 L464.99,80.41 L465.14,80.09 L465.29,79.76 L465.43,79.43 L465.58,79.1 L465.73,78.77 L465.87,78.44 L466.02,78.11 L466.17,77.77 L466.31,77.44 L466.46,77.1 L466.61,76.76 L466.75,76.43 L466.9,76.09 L467.04,75.75 L467.19,75.4 L467.34,75.06 L467.48,74.72 L467.63,74.37 L467.78,74.03 L467.92,73.68 L468.07,73.33 L468.22,72.98 L468.36,72.63 L468.51,72.28 L468.66,71.93 L468.8,71.57 L468.95,71.22 L469.1,70.86 L469.24,70.5 L469.39,70.15 L469.54,69.79 L469.68,69.43 L469.83,69.06 L469.98,68.7 L470.12,68.34 L470.27,67.97 L470.42,67.61 L470.56,67.24 L470.71,66.87 L470.86,66.5 L471,66.13 L471.15,65.76 L471.29,65.39 L471.44,65.02 L471.59,64.64 L471.73,64.27 L471.88,63.89 L472.03,63.52 L472.17,63.14 L472.32,62.76 L472.47,62.38 L472.61,62 L472.76,61.62 L472.91,61.24 L473.05,60.86 L473.2,60.47 L473.35,60.09 L473.49,59.7 L473.64,59.32 L473.79,58.93 L473.93,58.54 L474.08,58.16 L474.23,57.77 L474.37,57.38 L474.52,56.99 L474.67,56.6 L474.81,56.2 L474.96,55.81 L475.11,55.42 L475.25,55.02 L475.4,54.63 L475.55,54.23 L475.69,53.84 L475.84,53.44 L475.98,53.04 L476.13,52.64 L476.28,52.24 L476.42,51.85 L476.57,51.45 L476.72,51.04 L476.86,50.64 L477.01,50.24 L477.16,49.84 L477.3,49.44 L477.45,49.04 L477.6,48.63 L477.74,48.23 L477.89,47.83 L478.04,47.42 L478.18,47.02 L478.33,46.61 L478.48,46.21 L478.62,45.8 L478.77,45.4 L478.92,44.99 L479.06,44.59 L479.21,44.18 L479.36,43.78 L479.5,43.37 L479.65,42.97 L479.8,42.57 L479.94,42.16 L480.09,41.76 L480.23,41.35 L480.38,40.95 L480.53,40.55 L480.67,40.15 L480.82,39.75 L480.97,39.36 L481.11,38.97 L481.26,38.58 L481.41,38.2 L481.55,37.83 L481.7,37.45 L481.85,37.09 L481.99,36.73 L482.14,36.38 L482.29,36.04 L482.43,35.71 L482.58,35.38 L482.73,35.06 L482.87,34.76 L483.02,34.46 L483.17,34.18 L483.31,33.9 L483.46,33.64 L483.61,33.39 L483.75,33.16 L483.9,32.93 L484.05,32.73 L484.19,32.53 L484.34,32.36 L484.49,32.2 L484.63,32.05 L484.78,31.93 L484.92,31.82 L485.07,31.73 L485.22,31.66 L485.36,31.61 L485.51,31.58 L485.66,31.57 L485.8,31.58 L485.95,31.62 L486.1,31.68 L486.24,31.76 L486.39,31.86 L486.54,31.99 L486.68,32.15 L486.83,32.33 L486.98,32.54 L487.12,32.77 L487.27,33.03 L487.42,33.32 L487.56,33.64 L487.71,33.99 L487.86,34.36 L488,34.76 L488.15,35.18 L488.3,35.63 L488.44,36.1 L488.59,36.59 L488.74,37.1 L488.88,37.62 L489.03,38.16 L489.17,38.72 L489.32,39.29 L489.47,39.87 L489.61,40.46 L489.76,41.07 L489.91,41.68 L490.05,42.31 L490.2,42.94 L490.35,43.59 L490.49,44.24 L490.64,44.9 L490.79,45.58 L490.93,46.26 L491.08,46.96 L491.23,47.66 L491.37,48.38 L491.52,49.1 L491.67,49.83 L491.81,50.57 L491.96,51.32 L492.11,52.07 L492.25,52.82 L492.4,53.58 L492.55,54.33 L492.69,55.09 L492.84,55.84 L492.99,56.58 L493.13,57.32 L493.28,58.05 L493.43,58.77 L493.57,59.48 L493.72,60.17 L493.86,60.85 L494.01,61.52 L494.16,62.17 L494.3,62.8 L494.45,63.4 L494.6,63.99 L494.74,64.55 L494.89,65.09 L495.04,65.61 L495.18,66.11 L495.33,66.58 L495.48,67.04 L495.62,67.48 L495.77,67.91 L495.92,68.31 L496.06,68.7 L496.21,69.07 L496.36,69.43 L496.5,69.77 L496.65,70.1 L496.8,70.42 L496.94,70.72 L497.09,71.01 L497.24,71.29 L497.38,71.56 L497.53,71.82 L497.68,72.07 L497.82,72.32 L497.97,72.55 L498.12,72.78 L498.26,73 L498.41,73.21 L498.55,73.42 L498.7,73.62 L498.85,73.81 L498.99,74 L499.14,74.18 L499.29,74.35 L499.43,74.52 L499.58,74.69 L499.73,74.85 L499.87,75 L500.02,75.15 L500.17,75.29 L500.31,75.43 L500.46,75.56 L500.61,75.69 L500.75,75.81 L500.9,75.93 L501.05,76.05 L501.19,76.16 L501.34,76.27 L501.49,76.37 L501.63,76.47 L501.78,76.57 L501.93,76.66 L502.07,76.75 L502.22,76.84 L502.37,76.92 L502.51,77.01 L502.66,77.09 L502.8,77.16 L502.95,77.24 L503.1,77.31 L503.24,77.38 L503.39,77.45 L503.54,77.51 L503.68,77.57 L503.83,77.63 L503.98,77.69 L504.12,77.75 L504.27,77.81 L504.42,77.86 L504.56,77.91 L504.71,77.96 L504.86,78.01 L505,78.05 L505.15,78.1 L505.3,78.14 L505.44,78.18 L505.59,78.22 L505.74,78.26 L505.88,78.3 L506.03,78.34 L506.18,78.37 L506.32,78.41 L506.47,78.44 L506.62,78.48 L506.76,78.51 L506.91,78.54 L507.06,78.57 L507.2,78.6 L507.35,78.63 L507.49,78.66 L507.64,78.68 L507.79,78.71 L507.93,78.74 L508.08,78.76 L508.23,78.79 L508.37,78.82 L508.52,78.84 L508.67,78.87 L508.81,78.9 L508.96,78.92 L509.11,78.95 L509.25,78.97 L509.4,79" fill="none" stroke="#9ccc3c" stroke-width="1.0" stroke-linejoin="round" stroke-linecap="round" />
<rect x="391.3" y="142.6" width="2" height="2" fill="#9ccc3c"/>
<rect x="393.9" y="142.48" width="2" height="2" fill="#9ccc3c"/>
<rect x="396.49" y="142.29" width="2" height="2" fill="#9ccc3c"/>
<rect x="399.07" y="141.99" width="2" height="2" fill="#9ccc3c"/>
<rect x="401.64" y="141.59" width="2" height="2" fill="#9ccc3c"/>
<rect x="404.19" y="141.07" width="2" height="2" fill="#9ccc3c"/>
<rect x="406.71" y="140.44" width="2" height="2" fill="#9ccc3c"/>
<rect x="409.19" y="139.67" width="2" height="2" fill="#9ccc3c"/>
<rect x="411.64" y="138.78" width="2" height="2" fill="#9ccc3c"/>
<rect x="414.03" y="137.76" width="2" height="2" fill="#9ccc3c"/>
<rect x="416.37" y="136.63" width="2" height="2" fill="#9ccc3c"/>
<rect x="418.66" y="135.4" width="2" height="2" fill="#9ccc3c"/>
<rect x="420.89" y="134.07" width="2" height="2" fill="#9ccc3c"/>
<rect x="423.07" y="132.65" width="2" height="2" fill="#9ccc3c"/>
<rect x="425.2" y="131.16" width="2" height="2" fill="#9ccc3c"/>
<rect x="427.27" y="129.59" width="2" height="2" fill="#9ccc3c"/>
<rect x="429.29" y="127.95" width="2" height="2" fill="#9ccc3c"/>
<rect x="431.26" y="126.26" width="2" height="2" fill="#9ccc3c"/>
<rect x="433.19" y="124.51" width="2" height="2" fill="#9ccc3c"/>
<rect x="435.08" y="122.72" width="2" height="2" fill="#9ccc3c"/>
<rect x="436.93" y="120.9" width="2" height="2" fill="#9ccc3c"/>
<rect x="438.75" y="119.04" width="2" height="2" fill="#9ccc3c"/>
<rect x="440.54" y="117.16" width="2" height="2" fill="#9ccc3c"/>
<rect x="442.31" y="115.25" width="2" height="2" fill="#9ccc3c"/>
<rect x="444.06" y="113.33" width="2" height="2" fill="#9ccc3c"/>
<rect x="445.78" y="111.38" width="2" height="2" fill="#9ccc3c"/>
<rect x="447.44" y="109.38" width="2" height="2" fill="#9ccc3c"/>
<rect x="449.03" y="107.32" width="2" height="2" fill="#9ccc3c"/>
<rect x="450.53" y="105.2" width="2" height="2" fill="#9ccc3c"/>
<rect x="451.95" y="103.02" width="2" height="2" fill="#9ccc3c"/>
<rect x="453.29" y="100.79" width="2" height="2" fill="#9ccc3c"/>
<rect x="454.58" y="98.53" width="2" height="2" fill="#9ccc3c"/>
<rect x="455.82" y="96.25" width="2" height="2" fill="#9ccc3c"/>
<rect x="457.02" y="93.94" width="2" height="2" fill="#9ccc3c"/>
<rect x="458.19" y="91.62" width="2" height="2" fill="#9ccc3c"/>
<rect x="459.35" y="89.29" width="2" height="2" fill="#9ccc3c"/>
<rect x="460.48" y="86.95" width="2" height="2" fill="#9ccc3c"/>
<rect x="461.6" y="84.61" width="2" height="2" fill="#9ccc3c"/>
<rect x="462.7" y="82.25" width="2" height="2" fill="#9ccc3c"/>
<rect x="463.78" y="79.88" width="2" height="2" fill="#9ccc3c"/>
<rect x="464.84" y="77.51" width="2" height="2" fill="#9ccc3c"/>
<rect x="465.88" y="75.13" width="2" height="2" fill="#9ccc3c"/>
<rect x="466.9" y="72.74" width="2" height="2" fill="#9ccc3c"/>
<rect x="467.9" y="70.34" width="2" height="2" fill="#9ccc3c"/>
<rect x="468.88" y="67.93" width="2" height="2" fill="#9ccc3c"/>
<rect x="469.85" y="65.51" width="2" height="2" fill="#9ccc3c"/>
<rect x="470.8" y="63.1" width="2" height="2" fill="#9ccc3c"/>
<rect x="471.74" y="60.67" width="2" height="2" fill="#9ccc3c"/>
<rect x="472.67" y="58.24" width="2" height="2" fill="#9ccc3c"/>
<rect x="473.59" y="55.81" width="2" height="2" fill="#9ccc3c"/>
<rect x="474.49" y="53.37" width="2" height="2" fill="#9ccc3c"/>
<rect x="475.39" y="50.93" width="2" height="2" fill="#9ccc3c"/>
<rect x="476.28" y="48.49" width="2" height="2" fill="#9ccc3c"/>
<rect x="477.17" y="46.05" width="2" height="2" fill="#9ccc3c"/>
<rect x="478.06" y="43.6" width="2" height="2" fill="#9ccc3c"/>
<rect x="478.94" y="41.16" width="2" height="2" fill="#9ccc3c"/>
<rect x="479.83" y="38.72" width="2" height="2" fill="#9ccc3c"/>
<rect x="480.77" y="36.29" width="2" height="2" fill="#9ccc3c"/>
<rect x="481.8" y="33.9" width="2" height="2" fill="#9ccc3c"/>
<rect x="483.1" y="31.66" width="2" height="2" fill="#9ccc3c"/>
<rect x="485.25" y="30.76" width="2" height="2" fill="#9ccc3c"/>
<rect x="486.67" y="32.9" width="2" height="2" fill="#9ccc3c"/>
<rect x="487.52" y="35.36" width="2" height="2" fill="#9ccc3c"/>
<rect x="488.21" y="37.86" width="2" height="2" fill="#9ccc3c"/>
<rect x="488.84" y="40.39" width="2" height="2" fill="#9ccc3c"/>
<rect x="489.42" y="42.92" width="2" height="2" fill="#9ccc3c"/>
<rect x="489.98" y="45.46" width="2" height="2" fill="#9ccc3c"/>
<rect x="490.5" y="48.01" width="2" height="2" fill="#9ccc3c"/>
<rect x="491.01" y="50.56" width="2" height="2" fill="#9ccc3c"/>
<rect x="491.5" y="53.11" width="2" height="2" fill="#9ccc3c"/>
<rect x="492" y="55.66" width="2" height="2" fill="#9ccc3c"/>
<rect x="492.52" y="58.21" width="2" height="2" fill="#9ccc3c"/>
<rect x="493.06" y="60.75" width="2" height="2" fill="#9ccc3c"/>
<rect x="493.67" y="63.28" width="2" height="2" fill="#9ccc3c"/>
<rect x="494.39" y="65.78" width="2" height="2" fill="#9ccc3c"/>
<rect x="495.27" y="68.22" width="2" height="2" fill="#9ccc3c"/>
<rect x="496.39" y="70.57" width="2" height="2" fill="#9ccc3c"/>
<rect x="497.8" y="72.75" width="2" height="2" fill="#9ccc3c"/>
<rect x="499.57" y="74.65" width="2" height="2" fill="#9ccc3c"/>
<rect x="501.71" y="76.11" width="2" height="2" fill="#9ccc3c"/>
<rect x="504.12" y="77.09" width="2" height="2" fill="#9ccc3c"/>
<rect x="506.65" y="77.68" width="2" height="2" fill="#9ccc3c"/>
<rect x="390.5" y="4.5" width="128" height="162" fill="none" stroke="#262626" stroke-width="1"/>
<line x1="392.3" y1="166.5" x2="392.3" y2="170.5" stroke="#262626" stroke-width="1"/>
<line x1="421.52" y1="166.5" x2="421.52" y2="170.5" stroke="#262626" stroke-width="1"/>
<line x1="450.74" y1="166.5" x2="450.74" y2="170.5" stroke="#262626" stroke-width="1"/>
<line x1="479.96" y1="166.5" x2="479.96" y2="170.5" stroke="#262626" stroke-width="1"/>
<line x1="509.18" y1="166.5" x2="509.18" y2="170.5" stroke="#262626" stroke-width="1"/>
<line x1="406.91" y1="166.5" x2="406.91" y2="168.7" stroke="#262626" stroke-width="1"/>
<line x1="436.13" y1="166.5" x2="436.13" y2="168.7" stroke="#262626" stroke-width="1"/>
<line x1="465.35" y1="166.5" x2="465.35" y2="168.7" stroke="#262626" stroke-width="1"/>
<line x1="494.57" y1="166.5" x2="494.57" y2="168.7" stroke="#262626" stroke-width="1"/>
<text transform="translate(392.3,180.2) scale(1,1.2)" font-size="7.6" text-anchor="middle" font-weight="normal" font-style="normal" fill="#1e1e1e" stroke="#1e1e1e" >0</text>
<text transform="translate(421.52,180.2) scale(1,1.2)" font-size="7.6" text-anchor="middle" font-weight="normal" font-style="normal" fill="#1e1e1e" stroke="#1e1e1e" >3</text>
<text transform="translate(450.74,180.2) scale(1,1.2)" font-size="7.6" text-anchor="middle" font-weight="normal" font-style="normal" fill="#1e1e1e" stroke="#1e1e1e" >6</text>
<text transform="translate(479.96,180.2) scale(1,1.2)" font-size="7.6" text-anchor="middle" font-weight="normal" font-style="normal" fill="#1e1e1e" stroke="#1e1e1e" >9</text>
<text transform="translate(509.18,180.2) scale(1,1.2)" font-size="7.6" text-anchor="middle" font-weight="normal" font-style="normal" fill="#1e1e1e" stroke="#1e1e1e" >12</text>
<line x1="386.7" y1="143.6" x2="390.5" y2="143.6" stroke="#262626" stroke-width="1"/>
<line x1="386.7" y1="97.3" x2="390.5" y2="97.3" stroke="#262626" stroke-width="1"/>
<line x1="386.7" y1="51" x2="390.5" y2="51" stroke="#262626" stroke-width="1"/>
<line x1="386.7" y1="4.7" x2="390.5" y2="4.7" stroke="#262626" stroke-width="1"/>
<line x1="388.3" y1="166.19" x2="390.5" y2="166.19" stroke="#262626" stroke-width="1"/>
<line x1="388.3" y1="120.45" x2="390.5" y2="120.45" stroke="#262626" stroke-width="1"/>
<line x1="388.3" y1="74.15" x2="390.5" y2="74.15" stroke="#262626" stroke-width="1"/>
<line x1="388.3" y1="27.85" x2="390.5" y2="27.85" stroke="#262626" stroke-width="1"/>
<text transform="translate(383.9,145.98) scale(1,1.2)" font-size="7.6" text-anchor="end" font-weight="normal" font-style="normal" fill="#1e1e1e" stroke="#1e1e1e" >0</text>
<text transform="translate(383.9,99.68) scale(1,1.2)" font-size="7.6" text-anchor="end" font-weight="normal" font-style="normal" fill="#1e1e1e" stroke="#1e1e1e" >5</text>
<text transform="translate(383.9,53.38) scale(1,1.2)" font-size="7.6" text-anchor="end" font-weight="normal" font-style="normal" fill="#1e1e1e" stroke="#1e1e1e" >10</text>
<text transform="translate(383.9,7.08) scale(1,1.2)" font-size="7.6" text-anchor="end" font-weight="normal" font-style="normal" fill="#1e1e1e" stroke="#1e1e1e" >15</text>
<line x1="474.2" y1="148.3" x2="493.5" y2="148.3" stroke="#5ef07a" stroke-width="1.1"/>
<rect x="482.8" y="147.3" width="2" height="2" fill="#5ef07a"/>
<text transform="translate(495.6,151.2) scale(1,1.2)" font-size="8" text-anchor="start" font-weight="normal" font-style="normal" fill="#1e1e1e" stroke="#1e1e1e" >0.3 K</text>
<line x1="474.2" y1="158.5" x2="493.5" y2="158.5" stroke="#9ccc3c" stroke-width="1.1"/>
<rect x="482.8" y="157.5" width="2" height="2" fill="#9ccc3c"/>
<text transform="translate(495.6,161.4) scale(1,1.2)" font-size="8" text-anchor="start" font-weight="normal" font-style="normal" fill="#1e1e1e" stroke="#1e1e1e" >1.5 K</text>
<text transform="translate(454.8,14.7) scale(1,1.2)" font-size="8" text-anchor="middle" font-weight="normal" font-style="normal" fill="#1e1e1e" stroke="#1e1e1e" ><tspan font-style="italic">P</tspan> = 0.5 GPa</text>
<text transform="translate(454.8,194.7) scale(1,1.14)" font-size="10.1" text-anchor="middle" fill="#1e1e1e" stroke="#1e1e1e"><tspan font-style="italic">B</tspan> (T)</text>
<text transform="translate(364.5,85.3) rotate(-90) scale(1,1.14)" x="0" y="0" font-size="10.1" text-anchor="middle" fill="#1e1e1e" stroke="#1e1e1e"><tspan font-style="italic">MR</tspan> (%)</text>
<text transform="translate(354.6,9.2) scale(1,1.0)" font-size="9.8" fill="#1e1e1e" stroke="#1e1e1e">(c)</text>
<rect x="555.5" y="4.5" width="128" height="162" fill="#dcf3fd"/>
<path d="M555.4,166.3 L555.4,48.3 L555.91,48.31 L556.42,48.33 L556.92,48.34 L557.43,48.36 L557.94,48.37 L558.45,48.39 L558.95,48.41 L559.46,48.44 L559.97,48.46 L560.48,48.49 L560.98,48.51 L561.49,48.54 L562,48.57 L562.51,48.61 L563.01,48.64 L563.52,48.68 L564.03,48.72 L564.54,48.76 L565.04,48.8 L565.55,48.85 L566.06,48.9 L566.57,48.95 L567.07,49 L567.58,49.06 L568.09,49.12 L568.6,49.18 L569.1,49.24 L569.61,49.31 L570.12,49.37 L570.63,49.45 L571.13,49.52 L571.64,49.6 L572.15,49.68 L572.66,49.76 L573.16,49.85 L573.67,49.94 L574.18,50.03 L574.69,50.13 L575.19,50.23 L575.7,50.33 L576.21,50.44 L576.72,50.54 L577.22,50.65 L577.73,50.76 L578.24,50.88 L578.75,50.99 L579.25,51.11 L579.76,51.23 L580.27,51.35 L580.78,51.47 L581.28,51.59 L581.79,51.71 L582.3,51.83 L582.81,51.95 L583.31,52.08 L583.82,52.2 L584.33,52.32 L584.84,52.44 L585.34,52.57 L585.85,52.69 L586.36,52.82 L586.87,52.95 L587.37,53.08 L587.88,53.21 L588.39,53.35 L588.9,53.48 L589.41,53.62 L589.91,53.77 L590.42,53.92 L590.93,54.07 L591.44,54.22 L591.94,54.38 L592.45,54.55 L592.96,54.72 L593.47,54.89 L593.97,55.07 L594.48,55.25 L594.99,55.44 L595.5,55.63 L596,55.82 L596.51,56.02 L597.02,56.22 L597.53,56.42 L598.03,56.63 L598.54,56.84 L599.05,57.05 L599.56,57.26 L600.06,57.47 L600.57,57.69 L601.08,57.9 L601.59,58.12 L602.09,58.34 L602.6,58.56 L603.11,58.78 L603.62,59.01 L604.12,59.23 L604.63,59.45 L605.14,59.68 L605.65,59.91 L606.15,60.14 L606.66,60.37 L607.17,60.6 L607.68,60.83 L608.18,61.07 L608.69,61.3 L609.2,61.54 L609.71,61.78 L610.21,62.02 L610.72,62.26 L611.23,62.51 L611.74,62.75 L612.24,63 L612.75,63.26 L613.26,63.51 L613.77,63.77 L614.27,64.04 L614.78,64.32 L615.29,64.6 L615.8,64.89 L616.3,65.18 L616.81,65.49 L617.32,65.8 L617.83,66.13 L618.33,66.46 L618.84,66.81 L619.35,67.17 L619.86,67.54 L620.36,67.93 L620.87,68.33 L621.38,68.74 L621.89,69.16 L622.39,69.59 L622.9,70.03 L623.41,70.47 L623.92,70.93 L624.43,71.39 L624.93,71.86 L625.44,72.33 L625.95,72.8 L626.46,73.28 L626.96,73.76 L627.47,74.24 L627.98,74.72 L628.49,75.2 L628.99,75.68 L629.5,76.16 L630.01,76.64 L630.52,77.12 L631.02,77.59 L631.53,78.08 L632.04,78.56 L632.55,79.05 L633.05,79.55 L633.56,80.05 L634.07,80.57 L634.58,81.09 L635.08,81.62 L635.59,82.16 L636.1,82.72 L636.61,83.28 L637.11,83.87 L637.62,84.46 L638.13,85.08 L638.64,85.71 L639.14,86.36 L639.65,87.01 L640.16,87.68 L640.67,88.36 L641.17,89.04 L641.68,89.73 L642.19,90.43 L642.7,91.12 L643.2,91.81 L643.71,92.51 L644.22,93.19 L644.73,93.87 L645.23,94.55 L645.74,95.21 L646.25,95.86 L646.76,96.5 L647.26,97.12 L647.77,97.73 L648.28,98.32 L648.79,98.91 L649.29,99.48 L649.8,100.05 L650.31,100.62 L650.82,101.18 L651.32,101.75 L651.83,102.31 L652.34,102.88 L652.85,103.46 L653.35,104.05 L653.86,104.65 L654.37,105.26 L654.88,105.89 L655.38,106.54 L655.89,107.21 L656.4,107.9 L656.4,107.9 L656.23,108.09 L656.06,108.29 L655.89,108.48 L655.72,108.67 L655.55,108.85 L655.38,109.04 L655.21,109.23 L655.04,109.42 L654.87,109.6 L654.7,109.79 L654.53,109.98 L654.36,110.17 L654.19,110.36 L654.02,110.55 L653.85,110.74 L653.68,110.93 L653.52,111.13 L653.35,111.33 L653.18,111.53 L653.01,111.73 L652.84,111.94 L652.67,112.15 L652.5,112.36 L652.33,112.57 L652.16,112.79 L651.99,113.02 L651.82,113.24 L651.65,113.48 L651.48,113.71 L651.31,113.95 L651.14,114.2 L650.97,114.45 L650.8,114.71 L650.63,114.98 L650.46,115.25 L650.29,115.52 L650.12,115.81 L649.95,116.1 L649.78,116.39 L649.61,116.7 L649.44,117.01 L649.27,117.33 L649.1,117.66 L648.93,117.99 L648.76,118.34 L648.59,118.69 L648.42,119.05 L648.25,119.42 L648.08,119.81 L647.92,120.2 L647.75,120.6 L647.58,121.01 L647.41,121.43 L647.24,121.86 L647.07,122.31 L646.9,122.76 L646.73,123.23 L646.56,123.71 L646.39,124.2 L646.22,124.71 L646.05,125.23 L645.88,125.76 L645.71,126.31 L645.54,126.87 L645.37,127.44 L645.2,128.04 L645.03,128.65 L644.86,129.28 L644.69,129.94 L644.52,130.62 L644.35,131.33 L644.18,132.07 L644.01,132.84 L643.84,133.65 L643.67,134.5 L643.5,135.38 L643.33,136.31 L643.16,137.28 L642.99,138.3 L642.82,139.36 L642.65,140.45 L642.48,141.58 L642.32,142.75 L642.15,143.95 L641.98,145.18 L641.81,146.44 L641.64,147.72 L641.47,149.03 L641.3,150.37 L641.13,151.74 L640.96,153.14 L640.79,154.59 L640.62,156.09 L640.45,157.63 L640.28,159.24 L640.11,160.9 L639.94,162.63 L639.77,164.43 L639.6,166.3 L639.6,166.3 Z" fill="#e0d0fa" stroke="none"/>
<path d="M639.6,166.3 L639.77,164.43 L639.94,162.63 L640.11,160.9 L640.28,159.24 L640.45,157.63 L640.62,156.09 L640.79,154.59 L640.96,153.14 L641.13,151.74 L641.3,150.37 L641.47,149.03 L641.64,147.72 L641.81,146.44 L641.98,145.18 L642.15,143.95 L642.32,142.75 L642.48,141.58 L642.65,140.45 L642.82,139.36 L642.99,138.3 L643.16,137.28 L643.33,136.31 L643.5,135.38 L643.67,134.5 L643.84,133.65 L644.01,132.84 L644.18,132.07 L644.35,131.33 L644.52,130.62 L644.69,129.94 L644.86,129.28 L645.03,128.65 L645.2,128.04 L645.37,127.44 L645.54,126.87 L645.71,126.31 L645.88,125.76 L646.05,125.23 L646.22,124.71 L646.39,124.2 L646.56,123.71 L646.73,123.23 L646.9,122.76 L647.07,122.31 L647.24,121.86 L647.41,121.43 L647.58,121.01 L647.75,120.6 L647.92,120.2 L648.08,119.81 L648.25,119.42 L648.42,119.05 L648.59,118.69 L648.76,118.34 L648.93,117.99 L649.1,117.66 L649.27,117.33 L649.44,117.01 L649.61,116.7 L649.78,116.39 L649.95,116.1 L650.12,115.81 L650.29,115.52 L650.46,115.25 L650.63,114.98 L650.8,114.71 L650.97,114.45 L651.14,114.2 L651.31,113.95 L651.48,113.71 L651.65,113.48 L651.82,113.24 L651.99,113.02 L652.16,112.79 L652.33,112.57 L652.5,112.36 L652.67,112.15 L652.84,111.94 L653.01,111.73 L653.18,111.53 L653.35,111.33 L653.52,111.13 L653.68,110.93 L653.85,110.74 L654.02,110.55 L654.19,110.36 L654.36,110.17 L654.53,109.98 L654.7,109.79 L654.87,109.6 L655.04,109.42 L655.21,109.23 L655.38,109.04 L655.55,108.85 L655.72,108.67 L655.89,108.48 L656.06,108.29 L656.23,108.09 L656.4,107.9 L656.87,107.52 L657.33,107.15 L657.8,106.77 L658.26,106.4 L658.73,106.03 L659.2,105.66 L659.66,105.29 L660.13,104.93 L660.59,104.57 L661.06,104.21 L661.53,103.85 L661.99,103.51 L662.46,103.16 L662.93,102.82 L663.39,102.48 L663.86,102.15 L664.32,101.83 L664.79,101.51 L665.26,101.2 L665.72,100.89 L666.19,100.59 L666.65,100.3 L667.12,100.02 L667.59,99.74 L668.05,99.47 L668.52,99.21 L668.98,98.96 L669.45,98.71 L669.92,98.47 L670.38,98.24 L670.85,98.02 L671.32,97.8 L671.78,97.59 L672.25,97.39 L672.71,97.19 L673.18,97 L673.65,96.81 L674.11,96.63 L674.58,96.46 L675.04,96.28 L675.51,96.12 L675.98,95.95 L676.44,95.8 L676.91,95.64 L677.37,95.49 L677.84,95.34 L678.31,95.2 L678.77,95.05 L679.24,94.91 L679.71,94.78 L680.17,94.64 L680.64,94.51 L681.1,94.37 L681.57,94.24 L682.04,94.11 L682.5,93.98 L682.97,93.86 L683.43,93.73 L683.9,93.6 L683.9,166.3 Z" fill="#d2f2e0" stroke="none"/>
<circle cx="555.4" cy="48.01" r="2.25" fill="url(#rg)" stroke="#d01010" stroke-width="0.4"/>
<circle cx="573.8" cy="49.23" r="2.25" fill="url(#rg)" stroke="#d01010" stroke-width="0.4"/>
<circle cx="592.2" cy="53.27" r="2.25" fill="url(#rg)" stroke="#d01010" stroke-width="0.4"/>
<circle cx="601.4" cy="57.31" r="2.25" fill="url(#rg)" stroke="#d01010" stroke-width="0.4"/>
<circle cx="610.6" cy="61.96" r="2.25" fill="url(#rg)" stroke="#d01010" stroke-width="0.4"/>
<circle cx="619.8" cy="66.41" r="2.25" fill="url(#rg)" stroke="#d01010" stroke-width="0.4"/>
<circle cx="629" cy="76.52" r="2.25" fill="url(#rg)" stroke="#d01010" stroke-width="0.4"/>
<circle cx="638.2" cy="84.41" r="2.25" fill="url(#rg)" stroke="#d01010" stroke-width="0.4"/>
<circle cx="647.4" cy="96.54" r="2.25" fill="url(#rg)" stroke="#d01010" stroke-width="0.4"/>
<path d="M647.12,117.7 L650.09,120.4 L647.12,123.1 L644.15,120.4 Z" fill="#0c0c8c"/>
<path d="M656.14,105.16 L659.11,107.86 L656.14,110.56 L653.17,107.86 Z" fill="#0c0c8c"/>
<path d="M665.16,97.89 L668.13,100.59 L665.16,103.29 L662.19,100.59 Z" fill="#0c0c8c"/>
<path d="M640.04,157.94 L643.01,160.64 L640.04,163.34 L637.07,160.64 Z" fill="#8010f0"/>
<path d="M643.26,133.67 L646.23,136.37 L643.26,139.07 L640.29,136.37 Z" fill="#8010f0"/>
<rect x="555.5" y="4.5" width="128" height="162" fill="none" stroke="#262626" stroke-width="1"/>
<line x1="555.4" y1="166.5" x2="555.4" y2="170.5" stroke="#262626" stroke-width="1"/>
<line x1="592.2" y1="166.5" x2="592.2" y2="170.5" stroke="#262626" stroke-width="1"/>
<line x1="629" y1="166.5" x2="629" y2="170.5" stroke="#262626" stroke-width="1"/>
<line x1="665.8" y1="166.5" x2="665.8" y2="170.5" stroke="#262626" stroke-width="1"/>
<line x1="573.8" y1="166.5" x2="573.8" y2="168.7" stroke="#262626" stroke-width="1"/>
<line x1="610.6" y1="166.5" x2="610.6" y2="168.7" stroke="#262626" stroke-width="1"/>
<line x1="647.4" y1="166.5" x2="647.4" y2="168.7" stroke="#262626" stroke-width="1"/>
<text transform="translate(555.4,180.2) scale(1,1.2)" font-size="7.6" text-anchor="middle" font-weight="normal" font-style="normal" fill="#1e1e1e" stroke="#1e1e1e" >0</text>
<text transform="translate(592.2,180.2) scale(1,1.2)" font-size="7.6" text-anchor="middle" font-weight="normal" font-style="normal" fill="#1e1e1e" stroke="#1e1e1e" >4</text>
<text transform="translate(629,180.2) scale(1,1.2)" font-size="7.6" text-anchor="middle" font-weight="normal" font-style="normal" fill="#1e1e1e" stroke="#1e1e1e" >8</text>
<text transform="translate(665.8,180.2) scale(1,1.2)" font-size="7.6" text-anchor="middle" font-weight="normal" font-style="normal" fill="#1e1e1e" stroke="#1e1e1e" >12</text>
<line x1="551.7" y1="166.3" x2="555.5" y2="166.3" stroke="#262626" stroke-width="1"/>
<line x1="551.7" y1="125.86" x2="555.5" y2="125.86" stroke="#262626" stroke-width="1"/>
<line x1="551.7" y1="85.42" x2="555.5" y2="85.42" stroke="#262626" stroke-width="1"/>
<line x1="551.7" y1="44.98" x2="555.5" y2="44.98" stroke="#262626" stroke-width="1"/>
<line x1="551.7" y1="4.54" x2="555.5" y2="4.54" stroke="#262626" stroke-width="1"/>
<line x1="553.3" y1="146.08" x2="555.5" y2="146.08" stroke="#262626" stroke-width="1"/>
<line x1="553.3" y1="105.64" x2="555.5" y2="105.64" stroke="#262626" stroke-width="1"/>
<line x1="553.3" y1="65.2" x2="555.5" y2="65.2" stroke="#262626" stroke-width="1"/>
<line x1="553.3" y1="24.76" x2="555.5" y2="24.76" stroke="#262626" stroke-width="1"/>
<text transform="translate(548.9,168.68) scale(1,1.2)" font-size="7.6" text-anchor="end" font-weight="normal" font-style="normal" fill="#1e1e1e" stroke="#1e1e1e" >0</text>
<text transform="translate(548.9,128.24) scale(1,1.2)" font-size="7.6" text-anchor="end" font-weight="normal" font-style="normal" fill="#1e1e1e" stroke="#1e1e1e" >2</text>
<text transform="translate(548.9,87.8) scale(1,1.2)" font-size="7.6" text-anchor="end" font-weight="normal" font-style="normal" fill="#1e1e1e" stroke="#1e1e1e" >4</text>
<text transform="translate(548.9,47.36) scale(1,1.2)" font-size="7.6" text-anchor="end" font-weight="normal" font-style="normal" fill="#1e1e1e" stroke="#1e1e1e" >6</text>
<text transform="translate(548.9,6.92) scale(1,1.2)" font-size="7.6" text-anchor="end" font-weight="normal" font-style="normal" fill="#1e1e1e" stroke="#1e1e1e" >8</text>
<text transform="translate(614.2,118.8) scale(1,1.2)" font-size="8" text-anchor="middle" font-weight="bold" font-style="normal" fill="#1e1e1e" stroke="#1e1e1e" >AFM1</text>
<text transform="translate(666.6,154.1) scale(1,1.2)" font-size="8" text-anchor="middle" font-weight="bold" font-style="normal" fill="#1e1e1e" stroke="#1e1e1e" >AFM3</text>
<circle cx="569.6" cy="128.4" r="2.25" fill="url(#rg)" stroke="#d01010" stroke-width="0.4"/>
<path d="M569.6,140.1 L572.57,142.8 L569.6,145.5 L566.63,142.8 Z" fill="#0c0c8c"/>
<path d="M569.6,154.5 L572.57,157.2 L569.6,159.9 L566.63,157.2 Z" fill="#8010f0"/>
<text transform="translate(581.6,131.8) scale(1,1.09)" font-size="9.6" font-style="italic" fill="#1e1e1e" stroke="#1e1e1e">T</text>
<text transform="translate(586.6,134)" font-size="6.8" font-style="italic" fill="#1e1e1e" stroke="#1e1e1e">N,R</text>
<text transform="translate(581.6,146.2) scale(1,1.09)" font-size="9.6" font-style="italic" fill="#1e1e1e" stroke="#1e1e1e">T</text>
<text transform="translate(586.6,148.4)" font-size="6.8" font-style="italic" fill="#1e1e1e" stroke="#1e1e1e">N2,R</text>
<text transform="translate(581.6,160.6) scale(1,1.09)" font-size="9.6" font-style="italic" fill="#1e1e1e" stroke="#1e1e1e">T</text>
<text transform="translate(586.6,162.8)" font-size="6.8" font-style="italic" fill="#1e1e1e" stroke="#1e1e1e">N2,MR</text>
<text transform="translate(619.6,14.7) scale(1,1.2)" font-size="8" text-anchor="middle" font-weight="normal" font-style="normal" fill="#1e1e1e" stroke="#1e1e1e" ><tspan font-style="italic">P</tspan> = 0.5 GPa</text>
<text transform="translate(619.6,194.7) scale(1,1.14)" font-size="10.1" text-anchor="middle" fill="#1e1e1e" stroke="#1e1e1e"><tspan font-style="italic">B</tspan> (T)</text>
<text transform="translate(537,84.7) rotate(-90) scale(1,1.14)" x="0" y="0" font-size="10.1" text-anchor="middle" fill="#1e1e1e" stroke="#1e1e1e"><tspan font-style="italic">T</tspan> (K)</text>
<text transform="translate(527.4,9.2) scale(1,1.0)" font-size="9.8" fill="#1e1e1e" stroke="#1e1e1e">(d)</text>
<path d="M150.6,239.67 L151.28,239.22 L151.97,238.76 L152.65,238.3 L153.34,237.83 L154.02,237.36 L154.71,236.88 L155.39,236.4 L156.07,235.9 L156.76,235.41 L157.44,234.9 L158.13,234.39 L158.81,233.86 L159.49,233.33 L160.18,232.8 L160.86,232.25 L161.55,231.69 L162.23,231.13 L162.92,230.55 L163.6,229.96" fill="none" stroke="#ff3c3c" stroke-width="1.1" stroke-linejoin="round" stroke-linecap="round" />
<path d="M39.6,369.85 L41.35,369.24 L43.1,368.38 L44.85,367.27 L46.6,365.94 L48.35,364.39 L50.1,362.64 L51.85,360.7 L53.6,358.58 L55.35,356.3 L57.1,353.88 L58.85,351.32 L60.6,348.63 L62.35,345.84 L64.1,342.95 L65.85,339.98 L67.6,336.95 L69.35,333.85 L71.1,330.72 L72.85,327.56 L74.6,324.38 L76.35,321.2 L78.1,318.03 L79.85,314.89 L81.6,311.79 L83.35,308.73 L85.1,305.72 L86.85,302.77 L88.6,299.86 L90.35,297.02 L92.1,294.23 L93.85,291.51 L95.6,288.86 L97.35,286.27 L99.1,283.76 L100.85,281.33 L102.6,278.97 L104.35,276.7 L106.1,274.51 L107.85,272.4 L109.6,270.39 L111.35,268.47 L113.1,266.65 L114.85,264.91 L116.6,263.25 L118.35,261.67 L120.1,260.17 L121.85,258.72 L123.6,257.34 L125.35,256.01 L127.1,254.74 L128.85,253.5 L130.6,252.31 L132.35,251.14 L134.1,250.01 L135.85,248.9 L137.6,247.8 L139.35,246.72 L141.1,245.64 L142.85,244.57 L144.6,243.49 L146.35,242.4 L148.1,241.29 L149.85,240.16" fill="none" stroke="#ff3c3c" stroke-width="0.6" stroke-linejoin="round" stroke-linecap="round" />
<path d="M38.60,368.85h2.0v2.0h-2.0zM40.35,368.24h2.0v2.0h-2.0zM42.10,367.38h2.0v2.0h-2.0zM43.85,366.27h2.0v2.0h-2.0zM45.60,364.94h2.0v2.0h-2.0zM47.35,363.39h2.0v2.0h-2.0zM49.10,361.64h2.0v2.0h-2.0zM50.85,359.70h2.0v2.0h-2.0zM52.60,357.58h2.0v2.0h-2.0zM54.35,355.30h2.0v2.0h-2.0zM56.10,352.88h2.0v2.0h-2.0zM57.85,350.32h2.0v2.0h-2.0zM59.60,347.63h2.0v2.0h-2.0zM61.35,344.84h2.0v2.0h-2.0zM63.10,341.95h2.0v2.0h-2.0zM64.85,338.98h2.0v2.0h-2.0zM66.60,335.95h2.0v2.0h-2.0zM68.35,332.85h2.0v2.0h-2.0zM70.10,329.72h2.0v2.0h-2.0zM71.85,326.56h2.0v2.0h-2.0zM73.60,323.38h2.0v2.0h-2.0zM75.35,320.20h2.0v2.0h-2.0zM77.10,317.03h2.0v2.0h-2.0zM78.85,313.89h2.0v2.0h-2.0zM80.60,310.79h2.0v2.0h-2.0zM82.35,307.73h2.0v2.0h-2.0zM84.10,304.72h2.0v2.0h-2.0zM85.85,301.77h2.0v2.0h-2.0zM87.60,298.86h2.0v2.0h-2.0zM89.35,296.02h2.0v2.0h-2.0zM91.10,293.23h2.0v2.0h-2.0zM92.85,290.51h2.0v2.0h-2.0zM94.60,287.86h2.0v2.0h-2.0zM96.35,285.27h2.0v2.0h-2.0zM98.10,282.76h2.0v2.0h-2.0zM99.85,280.33h2.0v2.0h-2.0zM101.60,277.97h2.0v2.0h-2.0zM103.35,275.70h2.0v2.0h-2.0zM105.10,273.51h2.0v2.0h-2.0zM106.85,271.40h2.0v2.0h-2.0zM108.60,269.39h2.0v2.0h-2.0zM110.35,267.47h2.0v2.0h-2.0zM112.10,265.65h2.0v2.0h-2.0zM113.85,263.91h2.0v2.0h-2.0zM115.60,262.25h2.0v2.0h-2.0zM117.35,260.67h2.0v2.0h-2.0zM119.10,259.17h2.0v2.0h-2.0zM120.85,257.72h2.0v2.0h-2.0zM122.60,256.34h2.0v2.0h-2.0zM124.35,255.01h2.0v2.0h-2.0zM126.10,253.74h2.0v2.0h-2.0zM127.85,252.50h2.0v2.0h-2.0zM129.60,251.31h2.0v2.0h-2.0zM131.35,250.14h2.0v2.0h-2.0zM133.10,249.01h2.0v2.0h-2.0zM134.85,247.90h2.0v2.0h-2.0zM136.60,246.80h2.0v2.0h-2.0zM138.35,245.72h2.0v2.0h-2.0zM140.10,244.64h2.0v2.0h-2.0zM141.85,243.57h2.0v2.0h-2.0zM143.60,242.49h2.0v2.0h-2.0zM145.35,241.40h2.0v2.0h-2.0zM147.10,240.29h2.0v2.0h-2.0zM148.85,239.16h2.0v2.0h-2.0z" fill="#ff3c3c"/>
<path d="M39.6,366.95 L41.35,366.21 L43.1,365.23 L44.85,364.02 L46.6,362.58 L48.35,360.94 L50.1,359.11 L51.85,357.1 L53.6,354.92 L55.35,352.6 L57.1,350.14 L58.85,347.55 L60.6,344.86 L62.35,342.07 L64.1,339.2 L65.85,336.26 L67.6,333.27 L69.35,330.24 L71.1,327.18 L72.85,324.11 L74.6,321.04 L76.35,317.98 L78.1,314.95 L79.85,311.96 L81.6,309 L83.35,306.1 L85.1,303.24 L86.85,300.44 L88.6,297.69 L90.35,294.99 L92.1,292.35 L93.85,289.77 L95.6,287.26 L97.35,284.8 L99.1,282.41 L100.85,280.09 L102.6,277.84 L104.35,275.65 L106.1,273.54 L107.85,271.51 L109.6,269.55 L111.35,267.67 L113.1,265.87 L114.85,264.14 L116.6,262.49 L118.35,260.9 L120.1,259.37 L121.85,257.91 L123.6,256.51 L125.35,255.16 L127.1,253.86 L128.85,252.6 L130.6,251.39 L132.35,250.22 L134.1,249.09 L135.85,247.99 L137.6,246.92 L139.35,245.88 L141.1,244.86 L142.85,243.86 L144.6,242.88 L146.35,241.91 L148.1,240.94 L149.85,239.99" fill="none" stroke="#b0b436" stroke-width="0.6" stroke-linejoin="round" stroke-linecap="round" />
<path d="M38.60,365.95h2.0v2.0h-2.0zM40.35,365.21h2.0v2.0h-2.0zM42.10,364.23h2.0v2.0h-2.0zM43.85,363.02h2.0v2.0h-2.0zM45.60,361.58h2.0v2.0h-2.0zM47.35,359.94h2.0v2.0h-2.0zM49.10,358.11h2.0v2.0h-2.0zM50.85,356.10h2.0v2.0h-2.0zM52.60,353.92h2.0v2.0h-2.0zM54.35,351.60h2.0v2.0h-2.0zM56.10,349.14h2.0v2.0h-2.0zM57.85,346.55h2.0v2.0h-2.0zM59.60,343.86h2.0v2.0h-2.0zM61.35,341.07h2.0v2.0h-2.0zM63.10,338.20h2.0v2.0h-2.0zM64.85,335.26h2.0v2.0h-2.0zM66.60,332.27h2.0v2.0h-2.0zM68.35,329.24h2.0v2.0h-2.0zM70.10,326.18h2.0v2.0h-2.0zM71.85,323.11h2.0v2.0h-2.0zM73.60,320.04h2.0v2.0h-2.0zM75.35,316.98h2.0v2.0h-2.0zM77.10,313.95h2.0v2.0h-2.0zM78.85,310.96h2.0v2.0h-2.0zM80.60,308.00h2.0v2.0h-2.0zM82.35,305.10h2.0v2.0h-2.0zM84.10,302.24h2.0v2.0h-2.0zM85.85,299.44h2.0v2.0h-2.0zM87.60,296.69h2.0v2.0h-2.0zM89.35,293.99h2.0v2.0h-2.0zM91.10,291.35h2.0v2.0h-2.0zM92.85,288.77h2.0v2.0h-2.0zM94.60,286.26h2.0v2.0h-2.0zM96.35,283.80h2.0v2.0h-2.0zM98.10,281.41h2.0v2.0h-2.0zM99.85,279.09h2.0v2.0h-2.0zM101.60,276.84h2.0v2.0h-2.0zM103.35,274.65h2.0v2.0h-2.0zM105.10,272.54h2.0v2.0h-2.0zM106.85,270.51h2.0v2.0h-2.0zM108.60,268.55h2.0v2.0h-2.0zM110.35,266.67h2.0v2.0h-2.0zM112.10,264.87h2.0v2.0h-2.0zM113.85,263.14h2.0v2.0h-2.0zM115.60,261.49h2.0v2.0h-2.0zM117.35,259.90h2.0v2.0h-2.0zM119.10,258.37h2.0v2.0h-2.0zM120.85,256.91h2.0v2.0h-2.0zM122.60,255.51h2.0v2.0h-2.0zM124.35,254.16h2.0v2.0h-2.0zM126.10,252.86h2.0v2.0h-2.0zM127.85,251.60h2.0v2.0h-2.0zM129.60,250.39h2.0v2.0h-2.0zM131.35,249.22h2.0v2.0h-2.0zM133.10,248.09h2.0v2.0h-2.0zM134.85,246.99h2.0v2.0h-2.0zM136.60,245.92h2.0v2.0h-2.0zM138.35,244.88h2.0v2.0h-2.0zM140.10,243.86h2.0v2.0h-2.0zM141.85,242.86h2.0v2.0h-2.0zM143.60,241.88h2.0v2.0h-2.0zM145.35,240.91h2.0v2.0h-2.0zM147.10,239.94h2.0v2.0h-2.0zM148.85,238.99h2.0v2.0h-2.0z" fill="#b0b436"/>
<path d="M39.6,364.62 L41.35,363.78 L43.1,362.7 L44.85,361.39 L46.6,359.88 L48.35,358.16 L50.1,356.26 L51.85,354.2 L53.6,351.98 L55.35,349.61 L57.1,347.12 L58.85,344.52 L60.6,341.82 L62.35,339.03 L64.1,336.18 L65.85,333.26 L67.6,330.31 L69.35,327.32 L71.1,324.33 L72.85,321.33 L74.6,318.34 L76.35,315.39 L78.1,312.47 L79.85,309.59 L81.6,306.76 L83.35,303.98 L85.1,301.24 L86.85,298.56 L88.6,295.94 L90.35,293.36 L92.1,290.84 L93.85,288.37 L95.6,285.97 L97.35,283.62 L99.1,281.32 L100.85,279.09 L102.6,276.92 L104.35,274.81 L106.1,272.77 L107.85,270.79 L109.6,268.87 L111.35,267.02 L113.1,265.24 L114.85,263.52 L116.6,261.87 L118.35,260.27 L120.1,258.74 L121.85,257.26 L123.6,255.83 L125.35,254.46 L127.1,253.15 L128.85,251.88 L130.6,250.66 L132.35,249.48 L134.1,248.35 L135.85,247.26 L137.6,246.21 L139.35,245.2 L141.1,244.23 L142.85,243.29 L144.6,242.38 L146.35,241.51 L148.1,240.66 L149.85,239.85" fill="none" stroke="#5ef040" stroke-width="0.6" stroke-linejoin="round" stroke-linecap="round" />
<path d="M38.60,363.62h2.0v2.0h-2.0zM40.35,362.78h2.0v2.0h-2.0zM42.10,361.70h2.0v2.0h-2.0zM43.85,360.39h2.0v2.0h-2.0zM45.60,358.88h2.0v2.0h-2.0zM47.35,357.16h2.0v2.0h-2.0zM49.10,355.26h2.0v2.0h-2.0zM50.85,353.20h2.0v2.0h-2.0zM52.60,350.98h2.0v2.0h-2.0zM54.35,348.61h2.0v2.0h-2.0zM56.10,346.12h2.0v2.0h-2.0zM57.85,343.52h2.0v2.0h-2.0zM59.60,340.82h2.0v2.0h-2.0zM61.35,338.03h2.0v2.0h-2.0zM63.10,335.18h2.0v2.0h-2.0zM64.85,332.26h2.0v2.0h-2.0zM66.60,329.31h2.0v2.0h-2.0zM68.35,326.32h2.0v2.0h-2.0zM70.10,323.33h2.0v2.0h-2.0zM71.85,320.33h2.0v2.0h-2.0zM73.60,317.34h2.0v2.0h-2.0zM75.35,314.39h2.0v2.0h-2.0zM77.10,311.47h2.0v2.0h-2.0zM78.85,308.59h2.0v2.0h-2.0zM80.60,305.76h2.0v2.0h-2.0zM82.35,302.98h2.0v2.0h-2.0zM84.10,300.24h2.0v2.0h-2.0zM85.85,297.56h2.0v2.0h-2.0zM87.60,294.94h2.0v2.0h-2.0zM89.35,292.36h2.0v2.0h-2.0zM91.10,289.84h2.0v2.0h-2.0zM92.85,287.37h2.0v2.0h-2.0zM94.60,284.97h2.0v2.0h-2.0zM96.35,282.62h2.0v2.0h-2.0zM98.10,280.32h2.0v2.0h-2.0zM99.85,278.09h2.0v2.0h-2.0zM101.60,275.92h2.0v2.0h-2.0zM103.35,273.81h2.0v2.0h-2.0zM105.10,271.77h2.0v2.0h-2.0zM106.85,269.79h2.0v2.0h-2.0zM108.60,267.87h2.0v2.0h-2.0zM110.35,266.02h2.0v2.0h-2.0zM112.10,264.24h2.0v2.0h-2.0zM113.85,262.52h2.0v2.0h-2.0zM115.60,260.87h2.0v2.0h-2.0zM117.35,259.27h2.0v2.0h-2.0zM119.10,257.74h2.0v2.0h-2.0zM120.85,256.26h2.0v2.0h-2.0zM122.60,254.83h2.0v2.0h-2.0zM124.35,253.46h2.0v2.0h-2.0zM126.10,252.15h2.0v2.0h-2.0zM127.85,250.88h2.0v2.0h-2.0zM129.60,249.66h2.0v2.0h-2.0zM131.35,248.48h2.0v2.0h-2.0zM133.10,247.35h2.0v2.0h-2.0zM134.85,246.26h2.0v2.0h-2.0zM136.60,245.21h2.0v2.0h-2.0zM138.35,244.20h2.0v2.0h-2.0zM140.10,243.23h2.0v2.0h-2.0zM141.85,242.29h2.0v2.0h-2.0zM143.60,241.38h2.0v2.0h-2.0zM145.35,240.51h2.0v2.0h-2.0zM147.10,239.66h2.0v2.0h-2.0zM148.85,238.85h2.0v2.0h-2.0z" fill="#5ef040"/>
<path d="M39.6,362.77 L41.35,361.85 L43.1,360.69 L44.85,359.31 L46.6,357.73 L48.35,355.96 L50.1,354.01 L51.85,351.9 L53.6,349.64 L55.35,347.25 L57.1,344.73 L58.85,342.12 L60.6,339.41 L62.35,336.62 L64.1,333.78 L65.85,330.89 L67.6,327.96 L69.35,325.01 L71.1,322.06 L72.85,319.12 L74.6,316.21 L76.35,313.33 L78.1,310.5 L79.85,307.71 L81.6,304.98 L83.35,302.29 L85.1,299.66 L86.85,297.08 L88.6,294.55 L90.35,292.07 L92.1,289.64 L93.85,287.26 L95.6,284.94 L97.35,282.67 L99.1,280.46 L100.85,278.3 L102.6,276.2 L104.35,274.15 L106.1,272.15 L107.85,270.21 L109.6,268.33 L111.35,266.51 L113.1,264.74 L114.85,263.03 L116.6,261.38 L118.35,259.78 L120.1,258.23 L121.85,256.74 L123.6,255.3 L125.35,253.92 L127.1,252.58 L128.85,251.3 L130.6,250.07 L132.35,248.89 L134.1,247.76 L135.85,246.68 L137.6,245.65 L139.35,244.66 L141.1,243.73 L142.85,242.84 L144.6,241.99 L146.35,241.2 L148.1,240.44 L149.85,239.73" fill="none" stroke="#7440ff" stroke-width="0.6" stroke-linejoin="round" stroke-linecap="round" />
<path d="M38.60,361.77h2.0v2.0h-2.0zM40.35,360.85h2.0v2.0h-2.0zM42.10,359.69h2.0v2.0h-2.0zM43.85,358.31h2.0v2.0h-2.0zM45.60,356.73h2.0v2.0h-2.0zM47.35,354.96h2.0v2.0h-2.0zM49.10,353.01h2.0v2.0h-2.0zM50.85,350.90h2.0v2.0h-2.0zM52.60,348.64h2.0v2.0h-2.0zM54.35,346.25h2.0v2.0h-2.0zM56.10,343.73h2.0v2.0h-2.0zM57.85,341.12h2.0v2.0h-2.0zM59.60,338.41h2.0v2.0h-2.0zM61.35,335.62h2.0v2.0h-2.0zM63.10,332.78h2.0v2.0h-2.0zM64.85,329.89h2.0v2.0h-2.0zM66.60,326.96h2.0v2.0h-2.0zM68.35,324.01h2.0v2.0h-2.0zM70.10,321.06h2.0v2.0h-2.0zM71.85,318.12h2.0v2.0h-2.0zM73.60,315.21h2.0v2.0h-2.0zM75.35,312.33h2.0v2.0h-2.0zM77.10,309.50h2.0v2.0h-2.0zM78.85,306.71h2.0v2.0h-2.0zM80.60,303.98h2.0v2.0h-2.0zM82.35,301.29h2.0v2.0h-2.0zM84.10,298.66h2.0v2.0h-2.0zM85.85,296.08h2.0v2.0h-2.0zM87.60,293.55h2.0v2.0h-2.0zM89.35,291.07h2.0v2.0h-2.0zM91.10,288.64h2.0v2.0h-2.0zM92.85,286.26h2.0v2.0h-2.0zM94.60,283.94h2.0v2.0h-2.0zM96.35,281.67h2.0v2.0h-2.0zM98.10,279.46h2.0v2.0h-2.0zM99.85,277.30h2.0v2.0h-2.0zM101.60,275.20h2.0v2.0h-2.0zM103.35,273.15h2.0v2.0h-2.0zM105.10,271.15h2.0v2.0h-2.0zM106.85,269.21h2.0v2.0h-2.0zM108.60,267.33h2.0v2.0h-2.0zM110.35,265.51h2.0v2.0h-2.0zM112.10,263.74h2.0v2.0h-2.0zM113.85,262.03h2.0v2.0h-2.0zM115.60,260.38h2.0v2.0h-2.0zM117.35,258.78h2.0v2.0h-2.0zM119.10,257.23h2.0v2.0h-2.0zM120.85,255.74h2.0v2.0h-2.0zM122.60,254.30h2.0v2.0h-2.0zM124.35,252.92h2.0v2.0h-2.0zM126.10,251.58h2.0v2.0h-2.0zM127.85,250.30h2.0v2.0h-2.0zM129.60,249.07h2.0v2.0h-2.0zM131.35,247.89h2.0v2.0h-2.0zM133.10,246.76h2.0v2.0h-2.0zM134.85,245.68h2.0v2.0h-2.0zM136.60,244.65h2.0v2.0h-2.0zM138.35,243.66h2.0v2.0h-2.0zM140.10,242.73h2.0v2.0h-2.0zM141.85,241.84h2.0v2.0h-2.0zM143.60,240.99h2.0v2.0h-2.0zM145.35,240.20h2.0v2.0h-2.0zM147.10,239.44h2.0v2.0h-2.0zM148.85,238.73h2.0v2.0h-2.0z" fill="#7440ff"/>
<path d="M39.6,361.8 L41.35,360.84 L43.1,359.64 L44.85,358.23 L46.6,356.61 L48.35,354.81 L50.1,352.83 L51.85,350.7 L53.6,348.42 L55.35,346.01 L57.1,343.49 L58.85,340.86 L60.6,338.15 L62.35,335.37 L64.1,332.53 L65.85,329.65 L67.6,326.73 L69.35,323.81 L71.1,320.88 L72.85,317.97 L74.6,315.09 L76.35,312.26 L78.1,309.47 L79.85,306.74 L81.6,304.05 L83.35,301.42 L85.1,298.83 L86.85,296.3 L88.6,293.82 L90.35,291.39 L92.1,289.01 L93.85,286.68 L95.6,284.41 L97.35,282.18 L99.1,280.01 L100.85,277.89 L102.6,275.82 L104.35,273.8 L106.1,271.83 L107.85,269.92 L109.6,268.05 L111.35,266.24 L113.1,264.48 L114.85,262.78 L116.6,261.12 L118.35,259.52 L120.1,257.97 L121.85,256.47 L123.6,255.02 L125.35,253.63 L127.1,252.29 L128.85,251 L130.6,249.77 L132.35,248.58 L134.1,247.45 L135.85,246.38 L137.6,245.35 L139.35,244.38 L141.1,243.46 L142.85,242.6 L144.6,241.79 L146.35,241.03 L148.1,240.33 L149.85,239.68" fill="none" stroke="#c850ff" stroke-width="0.6" stroke-linejoin="round" stroke-linecap="round" />
<path d="M38.60,360.80h2.0v2.0h-2.0zM40.35,359.84h2.0v2.0h-2.0zM42.10,358.64h2.0v2.0h-2.0zM43.85,357.23h2.0v2.0h-2.0zM45.60,355.61h2.0v2.0h-2.0zM47.35,353.81h2.0v2.0h-2.0zM49.10,351.83h2.0v2.0h-2.0zM50.85,349.70h2.0v2.0h-2.0zM52.60,347.42h2.0v2.0h-2.0zM54.35,345.01h2.0v2.0h-2.0zM56.10,342.49h2.0v2.0h-2.0zM57.85,339.86h2.0v2.0h-2.0zM59.60,337.15h2.0v2.0h-2.0zM61.35,334.37h2.0v2.0h-2.0zM63.10,331.53h2.0v2.0h-2.0zM64.85,328.65h2.0v2.0h-2.0zM66.60,325.73h2.0v2.0h-2.0zM68.35,322.81h2.0v2.0h-2.0zM70.10,319.88h2.0v2.0h-2.0zM71.85,316.97h2.0v2.0h-2.0zM73.60,314.09h2.0v2.0h-2.0zM75.35,311.26h2.0v2.0h-2.0zM77.10,308.47h2.0v2.0h-2.0zM78.85,305.74h2.0v2.0h-2.0zM80.60,303.05h2.0v2.0h-2.0zM82.35,300.42h2.0v2.0h-2.0zM84.10,297.83h2.0v2.0h-2.0zM85.85,295.30h2.0v2.0h-2.0zM87.60,292.82h2.0v2.0h-2.0zM89.35,290.39h2.0v2.0h-2.0zM91.10,288.01h2.0v2.0h-2.0zM92.85,285.68h2.0v2.0h-2.0zM94.60,283.41h2.0v2.0h-2.0zM96.35,281.18h2.0v2.0h-2.0zM98.10,279.01h2.0v2.0h-2.0zM99.85,276.89h2.0v2.0h-2.0zM101.60,274.82h2.0v2.0h-2.0zM103.35,272.80h2.0v2.0h-2.0zM105.10,270.83h2.0v2.0h-2.0zM106.85,268.92h2.0v2.0h-2.0zM108.60,267.05h2.0v2.0h-2.0zM110.35,265.24h2.0v2.0h-2.0zM112.10,263.48h2.0v2.0h-2.0zM113.85,261.78h2.0v2.0h-2.0zM115.60,260.12h2.0v2.0h-2.0zM117.35,258.52h2.0v2.0h-2.0zM119.10,256.97h2.0v2.0h-2.0zM120.85,255.47h2.0v2.0h-2.0zM122.60,254.02h2.0v2.0h-2.0zM124.35,252.63h2.0v2.0h-2.0zM126.10,251.29h2.0v2.0h-2.0zM127.85,250.00h2.0v2.0h-2.0zM129.60,248.77h2.0v2.0h-2.0zM131.35,247.58h2.0v2.0h-2.0zM133.10,246.45h2.0v2.0h-2.0zM134.85,245.38h2.0v2.0h-2.0zM136.60,244.35h2.0v2.0h-2.0zM138.35,243.38h2.0v2.0h-2.0zM140.10,242.46h2.0v2.0h-2.0zM141.85,241.60h2.0v2.0h-2.0zM143.60,240.79h2.0v2.0h-2.0zM145.35,240.03h2.0v2.0h-2.0zM147.10,239.33h2.0v2.0h-2.0zM148.85,238.68h2.0v2.0h-2.0z" fill="#c850ff"/>
<rect x="36" y="219.5" width="128" height="162" fill="none" stroke="#262626" stroke-width="1"/>
<line x1="36" y1="381.5" x2="36" y2="385.5" stroke="#262626" stroke-width="1"/>
<line x1="78.66" y1="381.5" x2="78.66" y2="385.5" stroke="#262626" stroke-width="1"/>
<line x1="121.32" y1="381.5" x2="121.32" y2="385.5" stroke="#262626" stroke-width="1"/>
<line x1="163.98" y1="381.5" x2="163.98" y2="385.5" stroke="#262626" stroke-width="1"/>
<line x1="57.33" y1="381.5" x2="57.33" y2="383.7" stroke="#262626" stroke-width="1"/>
<line x1="99.99" y1="381.5" x2="99.99" y2="383.7" stroke="#262626" stroke-width="1"/>
<line x1="142.65" y1="381.5" x2="142.65" y2="383.7" stroke="#262626" stroke-width="1"/>
<text transform="translate(36,395.2) scale(1,1.2)" font-size="7.6" text-anchor="middle" font-weight="normal" font-style="normal" fill="#1e1e1e" stroke="#1e1e1e" >0</text>
<text transform="translate(78.66,395.2) scale(1,1.2)" font-size="7.6" text-anchor="middle" font-weight="normal" font-style="normal" fill="#1e1e1e" stroke="#1e1e1e" >3</text>
<text transform="translate(121.32,395.2) scale(1,1.2)" font-size="7.6" text-anchor="middle" font-weight="normal" font-style="normal" fill="#1e1e1e" stroke="#1e1e1e" >6</text>
<text transform="translate(163.98,395.2) scale(1,1.2)" font-size="7.6" text-anchor="middle" font-weight="normal" font-style="normal" fill="#1e1e1e" stroke="#1e1e1e" >9</text>
<line x1="32.2" y1="366.5" x2="36" y2="366.5" stroke="#262626" stroke-width="1"/>
<line x1="32.2" y1="329.7" x2="36" y2="329.7" stroke="#262626" stroke-width="1"/>
<line x1="32.2" y1="292.9" x2="36" y2="292.9" stroke="#262626" stroke-width="1"/>
<line x1="32.2" y1="256.1" x2="36" y2="256.1" stroke="#262626" stroke-width="1"/>
<line x1="32.2" y1="219.3" x2="36" y2="219.3" stroke="#262626" stroke-width="1"/>
<line x1="33.8" y1="375.7" x2="36" y2="375.7" stroke="#262626" stroke-width="1"/>
<line x1="33.8" y1="348.1" x2="36" y2="348.1" stroke="#262626" stroke-width="1"/>
<line x1="33.8" y1="311.3" x2="36" y2="311.3" stroke="#262626" stroke-width="1"/>
<line x1="33.8" y1="274.5" x2="36" y2="274.5" stroke="#262626" stroke-width="1"/>
<line x1="33.8" y1="237.7" x2="36" y2="237.7" stroke="#262626" stroke-width="1"/>
<text transform="translate(29.4,368.88) scale(1,1.2)" font-size="7.6" text-anchor="end" font-weight="normal" font-style="normal" fill="#1e1e1e" stroke="#1e1e1e" >12</text>
<text transform="translate(29.4,332.08) scale(1,1.2)" font-size="7.6" text-anchor="end" font-weight="normal" font-style="normal" fill="#1e1e1e" stroke="#1e1e1e" >12</text>
<text transform="translate(29.4,295.28) scale(1,1.2)" font-size="7.6" text-anchor="end" font-weight="normal" font-style="normal" fill="#1e1e1e" stroke="#1e1e1e" >13</text>
<text transform="translate(29.4,258.48) scale(1,1.2)" font-size="7.6" text-anchor="end" font-weight="normal" font-style="normal" fill="#1e1e1e" stroke="#1e1e1e" >13</text>
<text transform="translate(29.4,221.68) scale(1,1.2)" font-size="7.6" text-anchor="end" font-weight="normal" font-style="normal" fill="#1e1e1e" stroke="#1e1e1e" >14</text>
<line x1="124" y1="334.2" x2="142.6" y2="334.2" stroke="#ff3c3c" stroke-width="1.2"/>
<rect x="132.3" y="333.2" width="2" height="2" fill="#ff3c3c"/>
<text transform="translate(144.6,337.1) scale(1,1.2)" font-size="8" text-anchor="start" font-weight="normal" font-style="normal" fill="#1e1e1e" stroke="#1e1e1e" >0 T</text>
<line x1="124" y1="344.23" x2="142.6" y2="344.23" stroke="#b0b436" stroke-width="1.2"/>
<rect x="132.3" y="343.23" width="2" height="2" fill="#b0b436"/>
<text transform="translate(144.6,347.13) scale(1,1.2)" font-size="8" text-anchor="start" font-weight="normal" font-style="normal" fill="#1e1e1e" stroke="#1e1e1e" >3 T</text>
<line x1="124" y1="354.26" x2="142.6" y2="354.26" stroke="#5ef040" stroke-width="1.2"/>
<rect x="132.3" y="353.26" width="2" height="2" fill="#5ef040"/>
<text transform="translate(144.6,357.16) scale(1,1.2)" font-size="8" text-anchor="start" font-weight="normal" font-style="normal" fill="#1e1e1e" stroke="#1e1e1e" >6 T</text>
<line x1="124" y1="364.29" x2="142.6" y2="364.29" stroke="#7440ff" stroke-width="1.2"/>
<rect x="132.3" y="363.29" width="2" height="2" fill="#7440ff"/>
<text transform="translate(144.6,367.19) scale(1,1.2)" font-size="8" text-anchor="start" font-weight="normal" font-style="normal" fill="#1e1e1e" stroke="#1e1e1e" >9 T</text>
<line x1="124" y1="374.32" x2="142.6" y2="374.32" stroke="#c850ff" stroke-width="1.2"/>
<rect x="132.3" y="373.32" width="2" height="2" fill="#c850ff"/>
<text transform="translate(144.6,377.22) scale(1,1.2)" font-size="8" text-anchor="start" font-weight="normal" font-style="normal" fill="#1e1e1e" stroke="#1e1e1e" >12 T</text>
<text transform="translate(99.6,232.2) scale(1,1.2)" font-size="8" text-anchor="middle" font-weight="normal" font-style="normal" fill="#1e1e1e" stroke="#1e1e1e" ><tspan font-style="italic">P</tspan> = 9.1 GPa</text>
<text transform="translate(99.8,410.1) scale(1,1.14)" font-size="10.1" text-anchor="middle" fill="#1e1e1e" stroke="#1e1e1e"><tspan font-style="italic">T</tspan> (K)</text>
<text transform="translate(11.3,300.4) rotate(-90) scale(1,1.14)" x="0" y="0" font-size="10.1" text-anchor="middle" fill="#1e1e1e" stroke="#1e1e1e"><tspan font-style="italic">R</tspan> (mΩ)</text>
<text transform="translate(1.2,222.8) scale(1,1.0)" font-size="9.8" fill="#1e1e1e" stroke="#1e1e1e">(e)</text>
<path d="M331,358.04 L331.47,358.24 L331.93,358.43 L332.4,358.62 L332.86,358.81 L333.33,359 L333.79,359.19 L334.26,359.37 L334.72,359.56 L335.19,359.73 L335.66,359.91 L336.12,360.08 L336.59,360.25 L337.05,360.41 L337.52,360.57 L337.98,360.72 L338.45,360.86 L338.91,361 L339.38,361.14 L339.84,361.26 L340.31,361.38 L340.78,361.49 L341.24,361.59 L341.71,361.69 L342.17,361.77 L342.64,361.85 L343.1,361.91 L343.57,361.97 L344.03,362.01 L344.5,362.04" fill="none" stroke="#ff4040" stroke-width="1.6" stroke-linejoin="round" stroke-linecap="round" />
<path d="M220.9,373.51 L221.12,372.2 L221.34,370.9 L221.56,369.61 L221.78,368.34 L222,367.08 L222.23,365.84 L222.45,364.6 L222.67,363.39 L222.89,362.18 L223.11,360.99 L223.33,359.8 L223.55,358.63 L223.77,357.48 L223.99,356.33 L224.21,355.19 L224.43,354.07 L224.65,352.96 L224.88,351.85 L225.1,350.76 L225.32,349.68 L225.54,348.6 L225.76,347.54 L225.98,346.49 L226.2,345.44 L226.42,344.4 L226.64,343.37 L226.86,342.35 L227.08,341.34 L227.3,340.34 L227.53,339.34 L227.75,338.35 L227.97,337.37 L228.19,336.39 L228.41,335.42 L228.63,334.46 L228.85,333.5 L229.07,332.55 L229.29,331.61 L229.51,330.67 L229.73,329.73 L229.95,328.8 L230.18,327.88 L230.4,326.95 L230.62,326.04 L230.84,325.12 L231.06,324.21 L231.28,323.31 L231.5,322.4 L231.72,321.5 L231.94,320.6 L232.16,319.7 L232.38,318.8 L232.6,317.91 L232.83,317.01 L233.05,316.12 L233.27,315.23 L233.49,314.34 L233.71,313.44 L233.93,312.55 L234.15,311.66 L234.37,310.76 L234.59,309.86 L234.81,308.97 L235.03,308.07 L235.25,307.17 L235.48,306.27 L235.7,305.37 L235.92,304.47 L236.14,303.57 L236.36,302.68 L236.58,301.79 L236.8,300.89 L237.02,300.01 L237.24,299.12 L237.46,298.24 L237.68,297.36 L237.9,296.49 L238.13,295.63 L238.35,294.77 L238.57,293.91 L238.79,293.06 L239.01,292.22 L239.23,291.39 L239.45,290.56 L239.67,289.75 L239.89,288.94 L240.11,288.14 L240.33,287.35 L240.55,286.57 L240.78,285.8 L241,285.03 L241.22,284.28 L241.44,283.53 L241.66,282.8 L241.88,282.07 L242.1,281.35 L242.32,280.64 L242.54,279.94 L242.76,279.25 L242.98,278.56 L243.21,277.89 L243.43,277.22 L243.65,276.57 L243.87,275.92 L244.09,275.28 L244.31,274.65 L244.53,274.03 L244.75,273.41 L244.97,272.81 L245.19,272.21 L245.41,271.63 L245.63,271.05 L245.86,270.48 L246.08,269.92 L246.3,269.36 L246.52,268.82 L246.74,268.28 L246.96,267.76 L247.18,267.24 L247.4,266.73 L247.62,266.23 L247.84,265.74 L248.06,265.25 L248.28,264.78 L248.51,264.31 L248.73,263.85 L248.95,263.4 L249.17,262.96 L249.39,262.53 L249.61,262.1 L249.83,261.69 L250.05,261.28 L250.27,260.88 L250.49,260.49 L250.71,260.11 L250.93,259.73 L251.16,259.37 L251.38,259.01 L251.6,258.66 L251.82,258.32 L252.04,257.99 L252.26,257.67 L252.48,257.35 L252.7,257.05 L252.92,256.75 L253.14,256.46 L253.36,256.17 L253.58,255.9 L253.81,255.63 L254.03,255.38 L254.25,255.13 L254.47,254.89 L254.69,254.65 L254.91,254.43 L255.13,254.21 L255.35,254 L255.57,253.8 L255.79,253.61 L256.01,253.43 L256.23,253.25 L256.46,253.08 L256.68,252.92 L256.9,252.77 L257.12,252.63 L257.34,252.49 L257.56,252.37 L257.78,252.25 L258,252.14 L258.22,252.03 L258.44,251.94 L258.66,251.85 L258.88,251.77 L259.11,251.7 L259.33,251.64 L259.55,251.58 L259.77,251.53 L259.99,251.49 L260.21,251.46 L260.43,251.44 L260.65,251.42 L260.87,251.42 L261.09,251.42 L261.31,251.42 L261.53,251.44 L261.76,251.46 L261.98,251.49 L262.2,251.53 L262.42,251.58 L262.64,251.63 L262.86,251.7 L263.08,251.77 L263.3,251.84 L263.52,251.93 L263.74,252.02 L263.96,252.12 L264.18,252.23 L264.41,252.35 L264.63,252.47 L264.85,252.61 L265.07,252.75 L265.29,252.89 L265.51,253.05 L265.73,253.21 L265.95,253.38 L266.17,253.56 L266.39,253.74 L266.61,253.93 L266.84,254.13 L267.06,254.34 L267.28,254.56 L267.5,254.78 L267.72,255.01 L267.94,255.25 L268.16,255.49 L268.38,255.75 L268.6,256.01 L268.82,256.28 L269.04,256.55 L269.26,256.83 L269.49,257.12 L269.71,257.42 L269.93,257.72 L270.15,258.04 L270.37,258.36 L270.59,258.68 L270.81,259.02 L271.03,259.36 L271.25,259.7 L271.47,260.06 L271.69,260.42 L271.91,260.79 L272.14,261.16 L272.36,261.54 L272.58,261.93 L272.8,262.33 L273.02,262.73 L273.24,263.14 L273.46,263.56 L273.68,263.98 L273.9,264.41 L274.12,264.84 L274.34,265.28 L274.56,265.73 L274.79,266.19 L275.01,266.65 L275.23,267.11 L275.45,267.59 L275.67,268.07 L275.89,268.55 L276.11,269.05 L276.33,269.54 L276.55,270.05 L276.77,270.56 L276.99,271.07 L277.21,271.6 L277.44,272.13 L277.66,272.66 L277.88,273.2 L278.1,273.74 L278.32,274.3 L278.54,274.85 L278.76,275.42 L278.98,275.98 L279.2,276.56 L279.42,277.14 L279.64,277.72 L279.86,278.31 L280.09,278.91 L280.31,279.51 L280.53,280.11 L280.75,280.72 L280.97,281.34 L281.19,281.95 L281.41,282.58 L281.63,283.2 L281.85,283.83 L282.07,284.46 L282.29,285.1 L282.51,285.74 L282.74,286.38 L282.96,287.03 L283.18,287.68 L283.4,288.33 L283.62,288.98 L283.84,289.63 L284.06,290.29 L284.28,290.95 L284.5,291.61 L284.72,292.27 L284.94,292.93 L285.16,293.6 L285.39,294.26 L285.61,294.93 L285.83,295.6 L286.05,296.26 L286.27,296.93 L286.49,297.6 L286.71,298.27 L286.93,298.93 L287.15,299.6 L287.37,300.27 L287.59,300.93 L287.82,301.6 L288.04,302.26 L288.26,302.92 L288.48,303.59 L288.7,304.25 L288.92,304.9 L289.14,305.56 L289.36,306.21 L289.58,306.87 L289.8,307.51 L290.02,308.16 L290.24,308.81 L290.47,309.45 L290.69,310.1 L290.91,310.74 L291.13,311.37 L291.35,312.01 L291.57,312.65 L291.79,313.28 L292.01,313.91 L292.23,314.55 L292.45,315.18 L292.67,315.8 L292.89,316.43 L293.12,317.06 L293.34,317.68 L293.56,318.31 L293.78,318.93 L294,319.55 L294.22,320.17 L294.44,320.79 L294.66,321.41 L294.88,322.03 L295.1,322.65 L295.32,323.27 L295.54,323.88 L295.77,324.5 L295.99,325.11 L296.21,325.71 L296.43,326.32 L296.65,326.92 L296.87,327.52 L297.09,328.11 L297.31,328.7 L297.53,329.28 L297.75,329.86 L297.97,330.43 L298.19,330.99 L298.42,331.55 L298.64,332.1 L298.86,332.64 L299.08,333.17 L299.3,333.7 L299.52,334.21 L299.74,334.72 L299.96,335.21 L300.18,335.7 L300.4,336.18 L300.62,336.64 L300.84,337.1 L301.07,337.54 L301.29,337.97 L301.51,338.4 L301.73,338.81 L301.95,339.22 L302.17,339.61 L302.39,340 L302.61,340.37 L302.83,340.74 L303.05,341.1 L303.27,341.45 L303.49,341.79 L303.72,342.12 L303.94,342.45 L304.16,342.76 L304.38,343.07 L304.6,343.37 L304.82,343.67 L305.04,343.95 L305.26,344.23 L305.48,344.5 L305.7,344.77 L305.92,345.03 L306.14,345.28 L306.37,345.53 L306.59,345.77 L306.81,346 L307.03,346.23 L307.25,346.45 L307.47,346.67 L307.69,346.88 L307.91,347.09 L308.13,347.29 L308.35,347.49 L308.57,347.68 L308.79,347.87 L309.02,348.06 L309.24,348.24 L309.46,348.42 L309.68,348.59 L309.9,348.76 L310.12,348.93 L310.34,349.09 L310.56,349.25 L310.78,349.41 L311,349.56 L311.22,349.71 L311.45,349.86 L311.67,350 L311.89,350.15 L312.11,350.29 L312.33,350.42 L312.55,350.56 L312.77,350.69 L312.99,350.82 L313.21,350.94 L313.43,351.07 L313.65,351.19 L313.87,351.31 L314.1,351.43 L314.32,351.54 L314.54,351.66 L314.76,351.77 L314.98,351.88 L315.2,351.98 L315.42,352.09 L315.64,352.19 L315.86,352.29 L316.08,352.39 L316.3,352.49 L316.52,352.59 L316.75,352.68 L316.97,352.78 L317.19,352.87 L317.41,352.96 L317.63,353.05 L317.85,353.14 L318.07,353.23 L318.29,353.31 L318.51,353.4 L318.73,353.48 L318.95,353.56 L319.17,353.65 L319.4,353.73 L319.62,353.81 L319.84,353.89 L320.06,353.97 L320.28,354.04 L320.5,354.12 L320.72,354.2 L320.94,354.27 L321.16,354.35 L321.38,354.43 L321.6,354.5 L321.82,354.58 L322.05,354.65 L322.27,354.73 L322.49,354.8 L322.71,354.88 L322.93,354.95 L323.15,355.03 L323.37,355.1 L323.59,355.18 L323.81,355.25 L324.03,355.33 L324.25,355.41 L324.47,355.48 L324.7,355.56 L324.92,355.64 L325.14,355.72 L325.36,355.8 L325.58,355.88 L325.8,355.96 L326.02,356.04 L326.24,356.12 L326.46,356.21 L326.68,356.29 L326.9,356.38 L327.12,356.46 L327.35,356.55 L327.57,356.63 L327.79,356.72 L328.01,356.81 L328.23,356.9 L328.45,356.99 L328.67,357.08 L328.89,357.17 L329.11,357.26 L329.33,357.35 L329.55,357.44 L329.77,357.53 L330,357.62 L330.22,357.72 L330.44,357.81 L330.66,357.9 L330.88,357.99 L331.1,358.08" fill="none" stroke="#ff4040" stroke-width="1.6" stroke-linejoin="round" stroke-linecap="round" />
<path d="M220.9,371.59 L221.12,370.31 L221.34,369.05 L221.56,367.8 L221.78,366.57 L222,365.35 L222.23,364.14 L222.45,362.95 L222.67,361.78 L222.89,360.61 L223.11,359.46 L223.33,358.32 L223.55,357.19 L223.77,356.07 L223.99,354.97 L224.21,353.87 L224.43,352.79 L224.65,351.71 L224.88,350.65 L225.1,349.6 L225.32,348.55 L225.54,347.52 L225.76,346.49 L225.98,345.47 L226.2,344.47 L226.42,343.47 L226.64,342.47 L226.86,341.49 L227.08,340.51 L227.3,339.54 L227.53,338.57 L227.75,337.61 L227.97,336.66 L228.19,335.71 L228.41,334.77 L228.63,333.83 L228.85,332.9 L229.07,331.97 L229.29,331.05 L229.51,330.13 L229.73,329.21 L229.95,328.3 L230.18,327.38 L230.4,326.48 L230.62,325.57 L230.84,324.67 L231.06,323.77 L231.28,322.87 L231.5,321.98 L231.72,321.09 L231.94,320.2 L232.16,319.31 L232.38,318.42 L232.6,317.53 L232.83,316.65 L233.05,315.76 L233.27,314.88 L233.49,314 L233.71,313.12 L233.93,312.24 L234.15,311.36 L234.37,310.48 L234.59,309.6 L234.81,308.72 L235.03,307.84 L235.25,306.96 L235.48,306.08 L235.7,305.2 L235.92,304.33 L236.14,303.45 L236.36,302.58 L236.58,301.71 L236.8,300.85 L237.02,299.98 L237.24,299.13 L237.46,298.27 L237.68,297.42 L237.9,296.57 L238.13,295.73 L238.35,294.9 L238.57,294.07 L238.79,293.25 L239.01,292.43 L239.23,291.62 L239.45,290.82 L239.67,290.02 L239.89,289.24 L240.11,288.46 L240.33,287.68 L240.55,286.92 L240.78,286.16 L241,285.42 L241.22,284.68 L241.44,283.95 L241.66,283.22 L241.88,282.51 L242.1,281.8 L242.32,281.1 L242.54,280.41 L242.76,279.73 L242.98,279.05 L243.21,278.39 L243.43,277.73 L243.65,277.08 L243.87,276.44 L244.09,275.8 L244.31,275.18 L244.53,274.56 L244.75,273.96 L244.97,273.36 L245.19,272.77 L245.41,272.18 L245.63,271.61 L245.86,271.04 L246.08,270.49 L246.3,269.94 L246.52,269.4 L246.74,268.87 L246.96,268.35 L247.18,267.84 L247.4,267.33 L247.62,266.84 L247.84,266.35 L248.06,265.87 L248.28,265.4 L248.51,264.94 L248.73,264.49 L248.95,264.05 L249.17,263.61 L249.39,263.19 L249.61,262.77 L249.83,262.37 L250.05,261.97 L250.27,261.58 L250.49,261.2 L250.71,260.83 L250.93,260.47 L251.16,260.12 L251.38,259.77 L251.6,259.44 L251.82,259.12 L252.04,258.8 L252.26,258.5 L252.48,258.2 L252.7,257.91 L252.92,257.63 L253.14,257.37 L253.36,257.11 L253.58,256.86 L253.81,256.62 L254.03,256.38 L254.25,256.16 L254.47,255.95 L254.69,255.74 L254.91,255.55 L255.13,255.36 L255.35,255.18 L255.57,255.01 L255.79,254.85 L256.01,254.7 L256.23,254.56 L256.46,254.42 L256.68,254.3 L256.9,254.18 L257.12,254.07 L257.34,253.96 L257.56,253.87 L257.78,253.78 L258,253.71 L258.22,253.64 L258.44,253.58 L258.66,253.52 L258.88,253.48 L259.11,253.44 L259.33,253.41 L259.55,253.38 L259.77,253.37 L259.99,253.36 L260.21,253.36 L260.43,253.36 L260.65,253.38 L260.87,253.4 L261.09,253.43 L261.31,253.46 L261.53,253.51 L261.76,253.56 L261.98,253.61 L262.2,253.67 L262.42,253.75 L262.64,253.82 L262.86,253.91 L263.08,254 L263.3,254.09 L263.52,254.2 L263.74,254.31 L263.96,254.42 L264.18,254.54 L264.41,254.67 L264.63,254.81 L264.85,254.95 L265.07,255.1 L265.29,255.26 L265.51,255.42 L265.73,255.59 L265.95,255.76 L266.17,255.94 L266.39,256.13 L266.61,256.33 L266.84,256.53 L267.06,256.74 L267.28,256.96 L267.5,257.19 L267.72,257.42 L267.94,257.66 L268.16,257.9 L268.38,258.16 L268.6,258.42 L268.82,258.69 L269.04,258.97 L269.26,259.25 L269.49,259.55 L269.71,259.85 L269.93,260.16 L270.15,260.47 L270.37,260.8 L270.59,261.13 L270.81,261.47 L271.03,261.82 L271.25,262.17 L271.47,262.54 L271.69,262.91 L271.91,263.29 L272.14,263.68 L272.36,264.08 L272.58,264.48 L272.8,264.89 L273.02,265.31 L273.24,265.73 L273.46,266.16 L273.68,266.6 L273.9,267.05 L274.12,267.5 L274.34,267.96 L274.56,268.43 L274.79,268.9 L275.01,269.38 L275.23,269.87 L275.45,270.36 L275.67,270.86 L275.89,271.36 L276.11,271.87 L276.33,272.39 L276.55,272.91 L276.77,273.44 L276.99,273.97 L277.21,274.51 L277.44,275.06 L277.66,275.61 L277.88,276.16 L278.1,276.72 L278.32,277.29 L278.54,277.86 L278.76,278.43 L278.98,279.01 L279.2,279.6 L279.42,280.18 L279.64,280.78 L279.86,281.37 L280.09,281.98 L280.31,282.58 L280.53,283.19 L280.75,283.8 L280.97,284.42 L281.19,285.04 L281.41,285.66 L281.63,286.28 L281.85,286.91 L282.07,287.54 L282.29,288.17 L282.51,288.81 L282.74,289.44 L282.96,290.08 L283.18,290.72 L283.4,291.37 L283.62,292.01 L283.84,292.66 L284.06,293.31 L284.28,293.96 L284.5,294.61 L284.72,295.26 L284.94,295.91 L285.16,296.56 L285.39,297.22 L285.61,297.87 L285.83,298.53 L286.05,299.18 L286.27,299.84 L286.49,300.5 L286.71,301.15 L286.93,301.81 L287.15,302.47 L287.37,303.12 L287.59,303.78 L287.82,304.43 L288.04,305.08 L288.26,305.74 L288.48,306.39 L288.7,307.04 L288.92,307.68 L289.14,308.33 L289.36,308.98 L289.58,309.62 L289.8,310.26 L290.02,310.9 L290.24,311.54 L290.47,312.17 L290.69,312.81 L290.91,313.44 L291.13,314.07 L291.35,314.7 L291.57,315.33 L291.79,315.95 L292.01,316.58 L292.23,317.2 L292.45,317.82 L292.67,318.44 L292.89,319.05 L293.12,319.67 L293.34,320.28 L293.56,320.89 L293.78,321.5 L294,322.11 L294.22,322.71 L294.44,323.31 L294.66,323.91 L294.88,324.51 L295.1,325.1 L295.32,325.69 L295.54,326.28 L295.77,326.86 L295.99,327.44 L296.21,328.02 L296.43,328.59 L296.65,329.16 L296.87,329.72 L297.09,330.27 L297.31,330.82 L297.53,331.36 L297.75,331.9 L297.97,332.43 L298.19,332.95 L298.42,333.46 L298.64,333.97 L298.86,334.46 L299.08,334.95 L299.3,335.43 L299.52,335.9 L299.74,336.37 L299.96,336.82 L300.18,337.26 L300.4,337.7 L300.62,338.12 L300.84,338.54 L301.07,338.94 L301.29,339.34 L301.51,339.73 L301.73,340.1 L301.95,340.47 L302.17,340.83 L302.39,341.19 L302.61,341.53 L302.83,341.87 L303.05,342.19 L303.27,342.51 L303.49,342.82 L303.72,343.13 L303.94,343.42 L304.16,343.71 L304.38,344 L304.6,344.27 L304.82,344.54 L305.04,344.8 L305.26,345.06 L305.48,345.31 L305.7,345.55 L305.92,345.79 L306.14,346.02 L306.37,346.24 L306.59,346.46 L306.81,346.68 L307.03,346.88 L307.25,347.09 L307.47,347.29 L307.69,347.48 L307.91,347.67 L308.13,347.85 L308.35,348.03 L308.57,348.21 L308.79,348.38 L309.02,348.55 L309.24,348.72 L309.46,348.88 L309.68,349.03 L309.9,349.19 L310.12,349.34 L310.34,349.49 L310.56,349.63 L310.78,349.77 L311,349.91 L311.22,350.05 L311.45,350.18 L311.67,350.32 L311.89,350.45 L312.11,350.57 L312.33,350.7 L312.55,350.82 L312.77,350.94 L312.99,351.06 L313.21,351.17 L313.43,351.29 L313.65,351.4 L313.87,351.51 L314.1,351.62 L314.32,351.72 L314.54,351.83 L314.76,351.93 L314.98,352.04 L315.2,352.14 L315.42,352.24 L315.64,352.34 L315.86,352.43 L316.08,352.53 L316.3,352.63 L316.52,352.72 L316.75,352.82 L316.97,352.91 L317.19,353 L317.41,353.09 L317.63,353.19 L317.85,353.28 L318.07,353.37 L318.29,353.46 L318.51,353.55 L318.73,353.64 L318.95,353.73 L319.17,353.82 L319.4,353.91 L319.62,354 L319.84,354.09 L320.06,354.18 L320.28,354.26 L320.5,354.35 L320.72,354.44 L320.94,354.53 L321.16,354.62 L321.38,354.71 L321.6,354.8 L321.82,354.88 L322.05,354.97 L322.27,355.06 L322.49,355.15 L322.71,355.24 L322.93,355.33 L323.15,355.41 L323.37,355.5 L323.59,355.59 L323.81,355.68 L324.03,355.77 L324.25,355.86 L324.47,355.95 L324.7,356.04 L324.92,356.13 L325.14,356.22 L325.36,356.3 L325.58,356.39 L325.8,356.48 L326.02,356.58 L326.24,356.67 L326.46,356.76 L326.68,356.85 L326.9,356.94 L327.12,357.03 L327.35,357.12 L327.57,357.21 L327.79,357.3 L328.01,357.39 L328.23,357.48 L328.45,357.57 L328.67,357.66 L328.89,357.75 L329.11,357.84 L329.33,357.93 L329.55,358.02 L329.77,358.11 L330,358.19 L330.22,358.28 L330.44,358.37 L330.66,358.45 L330.88,358.53 L331.1,358.62" fill="none" stroke="#b0b434" stroke-width="1.6" stroke-linejoin="round" stroke-linecap="round" />
<path d="M220.9,367.68 L221.12,366.48 L221.34,365.29 L221.56,364.12 L221.78,362.97 L222,361.83 L222.23,360.71 L222.45,359.6 L222.67,358.51 L222.89,357.42 L223.11,356.35 L223.33,355.3 L223.55,354.25 L223.77,353.22 L223.99,352.2 L224.21,351.18 L224.43,350.18 L224.65,349.19 L224.88,348.21 L225.1,347.23 L225.32,346.27 L225.54,345.31 L225.76,344.37 L225.98,343.42 L226.2,342.49 L226.42,341.56 L226.64,340.64 L226.86,339.72 L227.08,338.81 L227.3,337.91 L227.53,337.01 L227.75,336.11 L227.97,335.22 L228.19,334.32 L228.41,333.44 L228.63,332.55 L228.85,331.67 L229.07,330.79 L229.29,329.91 L229.51,329.03 L229.73,328.15 L229.95,327.27 L230.18,326.39 L230.4,325.51 L230.62,324.63 L230.84,323.75 L231.06,322.87 L231.28,322 L231.5,321.12 L231.72,320.25 L231.94,319.38 L232.16,318.51 L232.38,317.64 L232.6,316.77 L232.83,315.9 L233.05,315.04 L233.27,314.18 L233.49,313.32 L233.71,312.46 L233.93,311.6 L234.15,310.75 L234.37,309.9 L234.59,309.05 L234.81,308.21 L235.03,307.36 L235.25,306.52 L235.48,305.69 L235.7,304.86 L235.92,304.03 L236.14,303.2 L236.36,302.38 L236.58,301.56 L236.8,300.75 L237.02,299.94 L237.24,299.13 L237.46,298.33 L237.68,297.54 L237.9,296.74 L238.13,295.96 L238.35,295.17 L238.57,294.39 L238.79,293.62 L239.01,292.85 L239.23,292.09 L239.45,291.33 L239.67,290.58 L239.89,289.84 L240.11,289.1 L240.33,288.36 L240.55,287.63 L240.78,286.91 L241,286.19 L241.22,285.48 L241.44,284.78 L241.66,284.08 L241.88,283.39 L242.1,282.71 L242.32,282.03 L242.54,281.36 L242.76,280.7 L242.98,280.04 L243.21,279.39 L243.43,278.75 L243.65,278.12 L243.87,277.49 L244.09,276.87 L244.31,276.26 L244.53,275.65 L244.75,275.06 L244.97,274.47 L245.19,273.89 L245.41,273.32 L245.63,272.75 L245.86,272.2 L246.08,271.65 L246.3,271.11 L246.52,270.58 L246.74,270.06 L246.96,269.55 L247.18,269.04 L247.4,268.55 L247.62,268.07 L247.84,267.59 L248.06,267.12 L248.28,266.67 L248.51,266.22 L248.73,265.78 L248.95,265.35 L249.17,264.94 L249.39,264.53 L249.61,264.13 L249.83,263.74 L250.05,263.36 L250.27,263 L250.49,262.64 L250.71,262.29 L250.93,261.96 L251.16,261.63 L251.38,261.32 L251.6,261.02 L251.82,260.73 L252.04,260.44 L252.26,260.18 L252.48,259.92 L252.7,259.67 L252.92,259.44 L253.14,259.21 L253.36,259 L253.58,258.8 L253.81,258.61 L254.03,258.43 L254.25,258.26 L254.47,258.11 L254.69,257.96 L254.91,257.82 L255.13,257.69 L255.35,257.58 L255.57,257.47 L255.79,257.37 L256.01,257.29 L256.23,257.21 L256.46,257.14 L256.68,257.08 L256.9,257.03 L257.12,256.98 L257.34,256.95 L257.56,256.92 L257.78,256.9 L258,256.89 L258.22,256.89 L258.44,256.9 L258.66,256.91 L258.88,256.93 L259.11,256.96 L259.33,257 L259.55,257.04 L259.77,257.09 L259.99,257.14 L260.21,257.2 L260.43,257.27 L260.65,257.35 L260.87,257.43 L261.09,257.51 L261.31,257.6 L261.53,257.7 L261.76,257.8 L261.98,257.91 L262.2,258.02 L262.42,258.14 L262.64,258.26 L262.86,258.39 L263.08,258.52 L263.3,258.66 L263.52,258.8 L263.74,258.94 L263.96,259.09 L264.18,259.24 L264.41,259.39 L264.63,259.55 L264.85,259.71 L265.07,259.88 L265.29,260.05 L265.51,260.23 L265.73,260.41 L265.95,260.6 L266.17,260.79 L266.39,260.99 L266.61,261.19 L266.84,261.4 L267.06,261.62 L267.28,261.84 L267.5,262.07 L267.72,262.3 L267.94,262.55 L268.16,262.8 L268.38,263.05 L268.6,263.32 L268.82,263.59 L269.04,263.88 L269.26,264.17 L269.49,264.46 L269.71,264.77 L269.93,265.09 L270.15,265.42 L270.37,265.75 L270.59,266.1 L270.81,266.45 L271.03,266.82 L271.25,267.19 L271.47,267.58 L271.69,267.97 L271.91,268.38 L272.14,268.79 L272.36,269.21 L272.58,269.65 L272.8,270.09 L273.02,270.54 L273.24,271 L273.46,271.46 L273.68,271.94 L273.9,272.42 L274.12,272.91 L274.34,273.4 L274.56,273.91 L274.79,274.42 L275.01,274.94 L275.23,275.46 L275.45,275.99 L275.67,276.53 L275.89,277.07 L276.11,277.62 L276.33,278.17 L276.55,278.73 L276.77,279.29 L276.99,279.86 L277.21,280.43 L277.44,281.01 L277.66,281.59 L277.88,282.18 L278.1,282.77 L278.32,283.36 L278.54,283.95 L278.76,284.55 L278.98,285.16 L279.2,285.76 L279.42,286.37 L279.64,286.98 L279.86,287.59 L280.09,288.2 L280.31,288.82 L280.53,289.44 L280.75,290.05 L280.97,290.67 L281.19,291.29 L281.41,291.91 L281.63,292.54 L281.85,293.16 L282.07,293.78 L282.29,294.41 L282.51,295.03 L282.74,295.66 L282.96,296.28 L283.18,296.91 L283.4,297.54 L283.62,298.17 L283.84,298.8 L284.06,299.43 L284.28,300.06 L284.5,300.69 L284.72,301.32 L284.94,301.95 L285.16,302.58 L285.39,303.22 L285.61,303.85 L285.83,304.48 L286.05,305.11 L286.27,305.75 L286.49,306.38 L286.71,307.01 L286.93,307.65 L287.15,308.28 L287.37,308.91 L287.59,309.55 L287.82,310.18 L288.04,310.81 L288.26,311.44 L288.48,312.07 L288.7,312.7 L288.92,313.33 L289.14,313.96 L289.36,314.58 L289.58,315.21 L289.8,315.83 L290.02,316.46 L290.24,317.08 L290.47,317.7 L290.69,318.32 L290.91,318.93 L291.13,319.55 L291.35,320.16 L291.57,320.77 L291.79,321.38 L292.01,321.98 L292.23,322.59 L292.45,323.19 L292.67,323.78 L292.89,324.38 L293.12,324.97 L293.34,325.56 L293.56,326.14 L293.78,326.72 L294,327.29 L294.22,327.86 L294.44,328.42 L294.66,328.98 L294.88,329.53 L295.1,330.08 L295.32,330.61 L295.54,331.15 L295.77,331.67 L295.99,332.19 L296.21,332.7 L296.43,333.21 L296.65,333.7 L296.87,334.19 L297.09,334.67 L297.31,335.14 L297.53,335.6 L297.75,336.05 L297.97,336.49 L298.19,336.92 L298.42,337.35 L298.64,337.76 L298.86,338.17 L299.08,338.57 L299.3,338.96 L299.52,339.34 L299.74,339.71 L299.96,340.08 L300.18,340.44 L300.4,340.79 L300.62,341.13 L300.84,341.46 L301.07,341.79 L301.29,342.11 L301.51,342.42 L301.73,342.73 L301.95,343.03 L302.17,343.32 L302.39,343.6 L302.61,343.88 L302.83,344.15 L303.05,344.42 L303.27,344.67 L303.49,344.93 L303.72,345.17 L303.94,345.41 L304.16,345.65 L304.38,345.88 L304.6,346.1 L304.82,346.32 L305.04,346.53 L305.26,346.73 L305.48,346.94 L305.7,347.13 L305.92,347.32 L306.14,347.51 L306.37,347.69 L306.59,347.87 L306.81,348.04 L307.03,348.21 L307.25,348.38 L307.47,348.54 L307.69,348.69 L307.91,348.84 L308.13,348.99 L308.35,349.14 L308.57,349.28 L308.79,349.42 L309.02,349.55 L309.24,349.68 L309.46,349.81 L309.68,349.94 L309.9,350.06 L310.12,350.18 L310.34,350.3 L310.56,350.41 L310.78,350.52 L311,350.63 L311.22,350.74 L311.45,350.85 L311.67,350.95 L311.89,351.05 L312.11,351.15 L312.33,351.25 L312.55,351.35 L312.77,351.45 L312.99,351.54 L313.21,351.63 L313.43,351.73 L313.65,351.82 L313.87,351.91 L314.1,352 L314.32,352.09 L314.54,352.18 L314.76,352.27 L314.98,352.36 L315.2,352.45 L315.42,352.54 L315.64,352.63 L315.86,352.72 L316.08,352.81 L316.3,352.9 L316.52,352.99 L316.75,353.08 L316.97,353.17 L317.19,353.27 L317.41,353.36 L317.63,353.46 L317.85,353.55 L318.07,353.65 L318.29,353.75 L318.51,353.86 L318.73,353.96 L318.95,354.06 L319.17,354.17 L319.4,354.28 L319.62,354.38 L319.84,354.49 L320.06,354.6 L320.28,354.71 L320.5,354.83 L320.72,354.94 L320.94,355.05 L321.16,355.16 L321.38,355.28 L321.6,355.39 L321.82,355.51 L322.05,355.62 L322.27,355.74 L322.49,355.85 L322.71,355.97 L322.93,356.08 L323.15,356.2 L323.37,356.32 L323.59,356.43 L323.81,356.55 L324.03,356.66 L324.25,356.77 L324.47,356.89 L324.7,357 L324.92,357.11 L325.14,357.22 L325.36,357.33 L325.58,357.44 L325.8,357.55 L326.02,357.66 L326.24,357.77 L326.46,357.87 L326.68,357.98 L326.9,358.08 L327.12,358.18 L327.35,358.28 L327.57,358.38 L327.79,358.48 L328.01,358.58 L328.23,358.67 L328.45,358.76 L328.67,358.85 L328.89,358.94 L329.11,359.03 L329.33,359.11 L329.55,359.19 L329.77,359.27 L330,359.35 L330.22,359.42 L330.44,359.5 L330.66,359.57 L330.88,359.63 L331.1,359.7" fill="none" stroke="#60f040" stroke-width="1.6" stroke-linejoin="round" stroke-linecap="round" />
<path d="M220.9,361.95 L221.12,360.88 L221.34,359.81 L221.56,358.75 L221.78,357.7 L222,356.65 L222.23,355.61 L222.45,354.57 L222.67,353.54 L222.89,352.51 L223.11,351.49 L223.33,350.47 L223.55,349.45 L223.77,348.45 L223.99,347.44 L224.21,346.44 L224.43,345.45 L224.65,344.45 L224.88,343.47 L225.1,342.48 L225.32,341.5 L225.54,340.52 L225.76,339.55 L225.98,338.58 L226.2,337.61 L226.42,336.65 L226.64,335.68 L226.86,334.73 L227.08,333.77 L227.3,332.81 L227.53,331.86 L227.75,330.91 L227.97,329.96 L228.19,329.02 L228.41,328.07 L228.63,327.13 L228.85,326.19 L229.07,325.25 L229.29,324.31 L229.51,323.37 L229.73,322.43 L229.95,321.49 L230.18,320.56 L230.4,319.62 L230.62,318.69 L230.84,317.76 L231.06,316.83 L231.28,315.9 L231.5,314.97 L231.72,314.05 L231.94,313.13 L232.16,312.21 L232.38,311.29 L232.6,310.38 L232.83,309.47 L233.05,308.56 L233.27,307.66 L233.49,306.76 L233.71,305.86 L233.93,304.97 L234.15,304.08 L234.37,303.2 L234.59,302.32 L234.81,301.45 L235.03,300.58 L235.25,299.72 L235.48,298.87 L235.7,298.01 L235.92,297.17 L236.14,296.33 L236.36,295.5 L236.58,294.67 L236.8,293.86 L237.02,293.04 L237.24,292.24 L237.46,291.44 L237.68,290.65 L237.9,289.87 L238.13,289.1 L238.35,288.33 L238.57,287.57 L238.79,286.82 L239.01,286.08 L239.23,285.35 L239.45,284.63 L239.67,283.92 L239.89,283.21 L240.11,282.52 L240.33,281.84 L240.55,281.16 L240.78,280.5 L241,279.85 L241.22,279.2 L241.44,278.57 L241.66,277.95 L241.88,277.34 L242.1,276.74 L242.32,276.16 L242.54,275.58 L242.76,275.02 L242.98,274.47 L243.21,273.93 L243.43,273.4 L243.65,272.89 L243.87,272.39 L244.09,271.9 L244.31,271.42 L244.53,270.96 L244.75,270.51 L244.97,270.07 L245.19,269.65 L245.41,269.24 L245.63,268.85 L245.86,268.47 L246.08,268.1 L246.3,267.75 L246.52,267.41 L246.74,267.08 L246.96,266.77 L247.18,266.46 L247.4,266.17 L247.62,265.9 L247.84,265.63 L248.06,265.38 L248.28,265.13 L248.51,264.9 L248.73,264.68 L248.95,264.47 L249.17,264.27 L249.39,264.08 L249.61,263.91 L249.83,263.74 L250.05,263.58 L250.27,263.43 L250.49,263.28 L250.71,263.15 L250.93,263.03 L251.16,262.91 L251.38,262.81 L251.6,262.71 L251.82,262.62 L252.04,262.53 L252.26,262.46 L252.48,262.39 L252.7,262.33 L252.92,262.27 L253.14,262.22 L253.36,262.18 L253.58,262.15 L253.81,262.12 L254.03,262.1 L254.25,262.09 L254.47,262.08 L254.69,262.08 L254.91,262.09 L255.13,262.1 L255.35,262.12 L255.57,262.14 L255.79,262.17 L256.01,262.21 L256.23,262.26 L256.46,262.3 L256.68,262.36 L256.9,262.42 L257.12,262.49 L257.34,262.56 L257.56,262.64 L257.78,262.72 L258,262.81 L258.22,262.9 L258.44,263 L258.66,263.1 L258.88,263.21 L259.11,263.33 L259.33,263.45 L259.55,263.57 L259.77,263.7 L259.99,263.83 L260.21,263.97 L260.43,264.11 L260.65,264.26 L260.87,264.41 L261.09,264.57 L261.31,264.73 L261.53,264.89 L261.76,265.06 L261.98,265.23 L262.2,265.41 L262.42,265.59 L262.64,265.77 L262.86,265.96 L263.08,266.16 L263.3,266.35 L263.52,266.56 L263.74,266.76 L263.96,266.98 L264.18,267.19 L264.41,267.42 L264.63,267.64 L264.85,267.88 L265.07,268.11 L265.29,268.36 L265.51,268.61 L265.73,268.86 L265.95,269.12 L266.17,269.39 L266.39,269.66 L266.61,269.94 L266.84,270.23 L267.06,270.52 L267.28,270.82 L267.5,271.13 L267.72,271.44 L267.94,271.76 L268.16,272.09 L268.38,272.42 L268.6,272.76 L268.82,273.11 L269.04,273.46 L269.26,273.83 L269.49,274.2 L269.71,274.58 L269.93,274.96 L270.15,275.36 L270.37,275.76 L270.59,276.17 L270.81,276.59 L271.03,277.02 L271.25,277.46 L271.47,277.9 L271.69,278.35 L271.91,278.81 L272.14,279.28 L272.36,279.75 L272.58,280.23 L272.8,280.72 L273.02,281.21 L273.24,281.71 L273.46,282.21 L273.68,282.72 L273.9,283.24 L274.12,283.76 L274.34,284.29 L274.56,284.82 L274.79,285.36 L275.01,285.9 L275.23,286.45 L275.45,287 L275.67,287.55 L275.89,288.11 L276.11,288.68 L276.33,289.24 L276.55,289.81 L276.77,290.39 L276.99,290.96 L277.21,291.54 L277.44,292.13 L277.66,292.71 L277.88,293.3 L278.1,293.89 L278.32,294.48 L278.54,295.07 L278.76,295.67 L278.98,296.26 L279.2,296.86 L279.42,297.46 L279.64,298.06 L279.86,298.66 L280.09,299.26 L280.31,299.86 L280.53,300.46 L280.75,301.06 L280.97,301.66 L281.19,302.26 L281.41,302.86 L281.63,303.46 L281.85,304.06 L282.07,304.65 L282.29,305.25 L282.51,305.84 L282.74,306.43 L282.96,307.02 L283.18,307.61 L283.4,308.2 L283.62,308.78 L283.84,309.36 L284.06,309.94 L284.28,310.52 L284.5,311.09 L284.72,311.67 L284.94,312.24 L285.16,312.8 L285.39,313.37 L285.61,313.93 L285.83,314.49 L286.05,315.05 L286.27,315.61 L286.49,316.16 L286.71,316.71 L286.93,317.25 L287.15,317.8 L287.37,318.34 L287.59,318.88 L287.82,319.41 L288.04,319.94 L288.26,320.47 L288.48,321 L288.7,321.52 L288.92,322.04 L289.14,322.55 L289.36,323.06 L289.58,323.57 L289.8,324.08 L290.02,324.58 L290.24,325.08 L290.47,325.57 L290.69,326.06 L290.91,326.55 L291.13,327.03 L291.35,327.51 L291.57,327.99 L291.79,328.46 L292.01,328.93 L292.23,329.39 L292.45,329.85 L292.67,330.3 L292.89,330.75 L293.12,331.2 L293.34,331.64 L293.56,332.08 L293.78,332.52 L294,332.94 L294.22,333.37 L294.44,333.79 L294.66,334.2 L294.88,334.61 L295.1,335.02 L295.32,335.42 L295.54,335.82 L295.77,336.21 L295.99,336.6 L296.21,336.98 L296.43,337.36 L296.65,337.73 L296.87,338.09 L297.09,338.45 L297.31,338.81 L297.53,339.16 L297.75,339.51 L297.97,339.85 L298.19,340.18 L298.42,340.51 L298.64,340.83 L298.86,341.15 L299.08,341.46 L299.3,341.77 L299.52,342.07 L299.74,342.37 L299.96,342.66 L300.18,342.94 L300.4,343.22 L300.62,343.49 L300.84,343.76 L301.07,344.02 L301.29,344.27 L301.51,344.52 L301.73,344.76 L301.95,344.99 L302.17,345.22 L302.39,345.45 L302.61,345.67 L302.83,345.88 L303.05,346.09 L303.27,346.29 L303.49,346.49 L303.72,346.68 L303.94,346.87 L304.16,347.05 L304.38,347.23 L304.6,347.41 L304.82,347.58 L305.04,347.74 L305.26,347.9 L305.48,348.06 L305.7,348.21 L305.92,348.36 L306.14,348.51 L306.37,348.65 L306.59,348.79 L306.81,348.92 L307.03,349.05 L307.25,349.18 L307.47,349.3 L307.69,349.42 L307.91,349.54 L308.13,349.66 L308.35,349.77 L308.57,349.88 L308.79,349.99 L309.02,350.09 L309.24,350.19 L309.46,350.29 L309.68,350.39 L309.9,350.48 L310.12,350.58 L310.34,350.67 L310.56,350.76 L310.78,350.85 L311,350.93 L311.22,351.02 L311.45,351.1 L311.67,351.18 L311.89,351.26 L312.11,351.34 L312.33,351.42 L312.55,351.5 L312.77,351.58 L312.99,351.65 L313.21,351.73 L313.43,351.81 L313.65,351.88 L313.87,351.95 L314.1,352.03 L314.32,352.1 L314.54,352.18 L314.76,352.25 L314.98,352.33 L315.2,352.4 L315.42,352.48 L315.64,352.55 L315.86,352.63 L316.08,352.71 L316.3,352.79 L316.52,352.87 L316.75,352.95 L316.97,353.03 L317.19,353.11 L317.41,353.19 L317.63,353.28 L317.85,353.37 L318.07,353.46 L318.29,353.55 L318.51,353.64 L318.73,353.73 L318.95,353.83 L319.17,353.92 L319.4,354.02 L319.62,354.12 L319.84,354.22 L320.06,354.32 L320.28,354.42 L320.5,354.53 L320.72,354.63 L320.94,354.73 L321.16,354.84 L321.38,354.94 L321.6,355.05 L321.82,355.16 L322.05,355.26 L322.27,355.37 L322.49,355.47 L322.71,355.58 L322.93,355.69 L323.15,355.79 L323.37,355.9 L323.59,356 L323.81,356.11 L324.03,356.21 L324.25,356.32 L324.47,356.42 L324.7,356.52 L324.92,356.62 L325.14,356.73 L325.36,356.82 L325.58,356.92 L325.8,357.02 L326.02,357.12 L326.24,357.21 L326.46,357.3 L326.68,357.39 L326.9,357.48 L327.12,357.57 L327.35,357.66 L327.57,357.74 L327.79,357.82 L328.01,357.9 L328.23,357.98 L328.45,358.06 L328.67,358.13 L328.89,358.2 L329.11,358.27 L329.33,358.34 L329.55,358.4 L329.77,358.46 L330,358.52 L330.22,358.57 L330.44,358.62 L330.66,358.67 L330.88,358.71 L331.1,358.76" fill="none" stroke="#7440ff" stroke-width="1.6" stroke-linejoin="round" stroke-linecap="round" />
<path d="M220.9,356.71 L221.12,355.54 L221.34,354.44 L221.56,353.38 L221.78,352.36 L222,351.39 L222.23,350.45 L222.45,349.55 L222.67,348.69 L222.89,347.85 L223.11,347.03 L223.33,346.23 L223.55,345.46 L223.77,344.69 L223.99,343.94 L224.21,343.19 L224.43,342.45 L224.65,341.7 L224.88,340.95 L225.1,340.2 L225.32,339.43 L225.54,338.65 L225.76,337.86 L225.98,337.04 L226.2,336.21 L226.42,335.37 L226.64,334.51 L226.86,333.64 L227.08,332.76 L227.3,331.86 L227.53,330.96 L227.75,330.04 L227.97,329.11 L228.19,328.17 L228.41,327.23 L228.63,326.28 L228.85,325.32 L229.07,324.35 L229.29,323.38 L229.51,322.41 L229.73,321.43 L229.95,320.44 L230.18,319.46 L230.4,318.47 L230.62,317.47 L230.84,316.46 L231.06,315.45 L231.28,314.42 L231.5,313.38 L231.72,312.32 L231.94,311.24 L232.16,310.15 L232.38,309.04 L232.6,307.9 L232.83,306.76 L233.05,305.6 L233.27,304.45 L233.49,303.3 L233.71,302.16 L233.93,301.05 L234.15,299.95 L234.37,298.88 L234.59,297.85 L234.81,296.83 L235.03,295.84 L235.25,294.88 L235.48,293.94 L235.7,293.02 L235.92,292.12 L236.14,291.23 L236.36,290.37 L236.58,289.51 L236.8,288.68 L237.02,287.86 L237.24,287.04 L237.46,286.24 L237.68,285.45 L237.9,284.67 L238.13,283.89 L238.35,283.12 L238.57,282.35 L238.79,281.58 L239.01,280.82 L239.23,280.05 L239.45,279.29 L239.67,278.52 L239.89,277.75 L240.11,276.99 L240.33,276.23 L240.55,275.48 L240.78,274.73 L241,274 L241.22,273.27 L241.44,272.57 L241.66,271.87 L241.88,271.2 L242.1,270.55 L242.32,269.92 L242.54,269.32 L242.76,268.74 L242.98,268.19 L243.21,267.68 L243.43,267.19 L243.65,266.74 L243.87,266.33 L244.09,265.94 L244.31,265.58 L244.53,265.25 L244.75,264.94 L244.97,264.67 L245.19,264.41 L245.41,264.18 L245.63,263.97 L245.86,263.78 L246.08,263.61 L246.3,263.46 L246.52,263.32 L246.74,263.2 L246.96,263.09 L247.18,263 L247.4,262.91 L247.62,262.84 L247.84,262.77 L248.06,262.72 L248.28,262.66 L248.51,262.61 L248.73,262.57 L248.95,262.53 L249.17,262.49 L249.39,262.44 L249.61,262.4 L249.83,262.35 L250.05,262.3 L250.27,262.25 L250.49,262.2 L250.71,262.15 L250.93,262.09 L251.16,262.04 L251.38,261.98 L251.6,261.93 L251.82,261.88 L252.04,261.83 L252.26,261.77 L252.48,261.73 L252.7,261.68 L252.92,261.63 L253.14,261.59 L253.36,261.55 L253.58,261.52 L253.81,261.48 L254.03,261.46 L254.25,261.43 L254.47,261.41 L254.69,261.4 L254.91,261.39 L255.13,261.39 L255.35,261.39 L255.57,261.4 L255.79,261.41 L256.01,261.44 L256.23,261.47 L256.46,261.51 L256.68,261.55 L256.9,261.61 L257.12,261.67 L257.34,261.74 L257.56,261.82 L257.78,261.92 L258,262.02 L258.22,262.13 L258.44,262.25 L258.66,262.39 L258.88,262.53 L259.11,262.69 L259.33,262.86 L259.55,263.04 L259.77,263.23 L259.99,263.44 L260.21,263.66 L260.43,263.89 L260.65,264.13 L260.87,264.39 L261.09,264.65 L261.31,264.93 L261.53,265.22 L261.76,265.52 L261.98,265.83 L262.2,266.15 L262.42,266.48 L262.64,266.82 L262.86,267.18 L263.08,267.54 L263.3,267.91 L263.52,268.29 L263.74,268.68 L263.96,269.08 L264.18,269.49 L264.41,269.9 L264.63,270.33 L264.85,270.76 L265.07,271.2 L265.29,271.65 L265.51,272.11 L265.73,272.57 L265.95,273.05 L266.17,273.52 L266.39,274.01 L266.61,274.5 L266.84,275 L267.06,275.51 L267.28,276.02 L267.5,276.54 L267.72,277.06 L267.94,277.59 L268.16,278.13 L268.38,278.67 L268.6,279.22 L268.82,279.77 L269.04,280.32 L269.26,280.88 L269.49,281.45 L269.71,282.02 L269.93,282.59 L270.15,283.16 L270.37,283.74 L270.59,284.33 L270.81,284.91 L271.03,285.5 L271.25,286.1 L271.47,286.69 L271.69,287.29 L271.91,287.89 L272.14,288.49 L272.36,289.09 L272.58,289.7 L272.8,290.31 L273.02,290.91 L273.24,291.52 L273.46,292.13 L273.68,292.75 L273.9,293.36 L274.12,293.97 L274.34,294.58 L274.56,295.19 L274.79,295.81 L275.01,296.42 L275.23,297.03 L275.45,297.64 L275.67,298.25 L275.89,298.86 L276.11,299.47 L276.33,300.07 L276.55,300.68 L276.77,301.28 L276.99,301.88 L277.21,302.48 L277.44,303.07 L277.66,303.66 L277.88,304.25 L278.1,304.84 L278.32,305.42 L278.54,306.01 L278.76,306.58 L278.98,307.16 L279.2,307.72 L279.42,308.29 L279.64,308.85 L279.86,309.41 L280.09,309.97 L280.31,310.52 L280.53,311.06 L280.75,311.61 L280.97,312.15 L281.19,312.68 L281.41,313.21 L281.63,313.74 L281.85,314.27 L282.07,314.79 L282.29,315.31 L282.51,315.82 L282.74,316.33 L282.96,316.84 L283.18,317.34 L283.4,317.84 L283.62,318.33 L283.84,318.82 L284.06,319.31 L284.28,319.79 L284.5,320.27 L284.72,320.75 L284.94,321.22 L285.16,321.69 L285.39,322.16 L285.61,322.62 L285.83,323.08 L286.05,323.53 L286.27,323.98 L286.49,324.43 L286.71,324.87 L286.93,325.31 L287.15,325.74 L287.37,326.17 L287.59,326.6 L287.82,327.03 L288.04,327.45 L288.26,327.86 L288.48,328.27 L288.7,328.68 L288.92,329.09 L289.14,329.49 L289.36,329.89 L289.58,330.28 L289.8,330.67 L290.02,331.06 L290.24,331.44 L290.47,331.82 L290.69,332.19 L290.91,332.56 L291.13,332.93 L291.35,333.29 L291.57,333.65 L291.79,334.01 L292.01,334.36 L292.23,334.71 L292.45,335.05 L292.67,335.4 L292.89,335.73 L293.12,336.07 L293.34,336.39 L293.56,336.72 L293.78,337.04 L294,337.36 L294.22,337.67 L294.44,337.99 L294.66,338.29 L294.88,338.59 L295.1,338.89 L295.32,339.19 L295.54,339.48 L295.77,339.77 L295.99,340.05 L296.21,340.33 L296.43,340.61 L296.65,340.88 L296.87,341.15 L297.09,341.41 L297.31,341.68 L297.53,341.93 L297.75,342.19 L297.97,342.44 L298.19,342.68 L298.42,342.92 L298.64,343.16 L298.86,343.4 L299.08,343.63 L299.3,343.85 L299.52,344.08 L299.74,344.3 L299.96,344.51 L300.18,344.72 L300.4,344.93 L300.62,345.14 L300.84,345.34 L301.07,345.54 L301.29,345.73 L301.51,345.92 L301.73,346.11 L301.95,346.29 L302.17,346.47 L302.39,346.65 L302.61,346.83 L302.83,347 L303.05,347.17 L303.27,347.33 L303.49,347.49 L303.72,347.65 L303.94,347.81 L304.16,347.96 L304.38,348.11 L304.6,348.26 L304.82,348.41 L305.04,348.55 L305.26,348.69 L305.48,348.83 L305.7,348.96 L305.92,349.09 L306.14,349.22 L306.37,349.35 L306.59,349.48 L306.81,349.6 L307.03,349.72 L307.25,349.84 L307.47,349.95 L307.69,350.07 L307.91,350.18 L308.13,350.29 L308.35,350.39 L308.57,350.5 L308.79,350.6 L309.02,350.7 L309.24,350.8 L309.46,350.9 L309.68,351 L309.9,351.09 L310.12,351.18 L310.34,351.27 L310.56,351.36 L310.78,351.45 L311,351.54 L311.22,351.62 L311.45,351.71 L311.67,351.79 L311.89,351.87 L312.11,351.95 L312.33,352.03 L312.55,352.1 L312.77,352.18 L312.99,352.25 L313.21,352.33 L313.43,352.4 L313.65,352.47 L313.87,352.54 L314.1,352.61 L314.32,352.68 L314.54,352.75 L314.76,352.81 L314.98,352.88 L315.2,352.94 L315.42,353.01 L315.64,353.07 L315.86,353.14 L316.08,353.2 L316.3,353.26 L316.52,353.32 L316.75,353.39 L316.97,353.45 L317.19,353.51 L317.41,353.57 L317.63,353.63 L317.85,353.69 L318.07,353.75 L318.29,353.81 L318.51,353.87 L318.73,353.93 L318.95,353.99 L319.17,354.05 L319.4,354.11 L319.62,354.17 L319.84,354.23 L320.06,354.3 L320.28,354.36 L320.5,354.42 L320.72,354.48 L320.94,354.54 L321.16,354.61 L321.38,354.67 L321.6,354.73 L321.82,354.8 L322.05,354.86 L322.27,354.93 L322.49,355 L322.71,355.07 L322.93,355.13 L323.15,355.2 L323.37,355.27 L323.59,355.34 L323.81,355.42 L324.03,355.49 L324.25,355.56 L324.47,355.64 L324.7,355.72 L324.92,355.79 L325.14,355.87 L325.36,355.95 L325.58,356.03 L325.8,356.12 L326.02,356.2 L326.24,356.29 L326.46,356.38 L326.68,356.46 L326.9,356.56 L327.12,356.65 L327.35,356.74 L327.57,356.84 L327.79,356.93 L328.01,357.03 L328.23,357.14 L328.45,357.24 L328.67,357.34 L328.89,357.45 L329.11,357.56 L329.33,357.67 L329.55,357.78 L329.77,357.9 L330,358.02 L330.22,358.14 L330.44,358.26 L330.66,358.38 L330.88,358.51 L331.1,358.64" fill="none" stroke="#c050ff" stroke-width="1.6" stroke-linejoin="round" stroke-linecap="round" />
<rect x="217" y="219.5" width="128" height="162" fill="none" stroke="#262626" stroke-width="1"/>
<line x1="217" y1="381.5" x2="217" y2="385.5" stroke="#262626" stroke-width="1"/>
<line x1="259.66" y1="381.5" x2="259.66" y2="385.5" stroke="#262626" stroke-width="1"/>
<line x1="302.32" y1="381.5" x2="302.32" y2="385.5" stroke="#262626" stroke-width="1"/>
<line x1="344.98" y1="381.5" x2="344.98" y2="385.5" stroke="#262626" stroke-width="1"/>
<line x1="238.33" y1="381.5" x2="238.33" y2="383.7" stroke="#262626" stroke-width="1"/>
<line x1="280.99" y1="381.5" x2="280.99" y2="383.7" stroke="#262626" stroke-width="1"/>
<line x1="323.65" y1="381.5" x2="323.65" y2="383.7" stroke="#262626" stroke-width="1"/>
<text transform="translate(217,395.2) scale(1,1.2)" font-size="7.6" text-anchor="middle" font-weight="normal" font-style="normal" fill="#1e1e1e" stroke="#1e1e1e" >0</text>
<text transform="translate(259.66,395.2) scale(1,1.2)" font-size="7.6" text-anchor="middle" font-weight="normal" font-style="normal" fill="#1e1e1e" stroke="#1e1e1e" >3</text>
<text transform="translate(302.32,395.2) scale(1,1.2)" font-size="7.6" text-anchor="middle" font-weight="normal" font-style="normal" fill="#1e1e1e" stroke="#1e1e1e" >6</text>
<text transform="translate(344.98,395.2) scale(1,1.2)" font-size="7.6" text-anchor="middle" font-weight="normal" font-style="normal" fill="#1e1e1e" stroke="#1e1e1e" >9</text>
<line x1="213.2" y1="381.5" x2="217" y2="381.5" stroke="#262626" stroke-width="1"/>
<line x1="213.2" y1="340.92" x2="217" y2="340.92" stroke="#262626" stroke-width="1"/>
<line x1="213.2" y1="300.35" x2="217" y2="300.35" stroke="#262626" stroke-width="1"/>
<line x1="213.2" y1="259.77" x2="217" y2="259.77" stroke="#262626" stroke-width="1"/>
<line x1="213.2" y1="219.2" x2="217" y2="219.2" stroke="#262626" stroke-width="1"/>
<line x1="214.8" y1="361.21" x2="217" y2="361.21" stroke="#262626" stroke-width="1"/>
<line x1="214.8" y1="320.64" x2="217" y2="320.64" stroke="#262626" stroke-width="1"/>
<line x1="214.8" y1="280.06" x2="217" y2="280.06" stroke="#262626" stroke-width="1"/>
<line x1="214.8" y1="239.48" x2="217" y2="239.48" stroke="#262626" stroke-width="1"/>
<text transform="translate(210.4,383.88) scale(1,1.2)" font-size="7.6" text-anchor="end" font-weight="normal" font-style="normal" fill="#1e1e1e" stroke="#1e1e1e" >0.08</text>
<text transform="translate(210.4,343.31) scale(1,1.2)" font-size="7.6" text-anchor="end" font-weight="normal" font-style="normal" fill="#1e1e1e" stroke="#1e1e1e" >0.16</text>
<text transform="translate(210.4,302.73) scale(1,1.2)" font-size="7.6" text-anchor="end" font-weight="normal" font-style="normal" fill="#1e1e1e" stroke="#1e1e1e" >0.24</text>
<text transform="translate(210.4,262.16) scale(1,1.2)" font-size="7.6" text-anchor="end" font-weight="normal" font-style="normal" fill="#1e1e1e" stroke="#1e1e1e" >0.32</text>
<text transform="translate(210.4,221.58) scale(1,1.2)" font-size="7.6" text-anchor="end" font-weight="normal" font-style="normal" fill="#1e1e1e" stroke="#1e1e1e" >0.40</text>
<line x1="304.5" y1="248.8" x2="323" y2="248.8" stroke="#ff4040" stroke-width="1.6"/>
<text transform="translate(325.2,251.7) scale(1,1.2)" font-size="8" text-anchor="start" font-weight="normal" font-style="normal" fill="#1e1e1e" stroke="#1e1e1e" >0 T</text>
<line x1="304.5" y1="258.83" x2="323" y2="258.83" stroke="#b0b434" stroke-width="1.6"/>
<text transform="translate(325.2,261.73) scale(1,1.2)" font-size="8" text-anchor="start" font-weight="normal" font-style="normal" fill="#1e1e1e" stroke="#1e1e1e" >3 T</text>
<line x1="304.5" y1="268.86" x2="323" y2="268.86" stroke="#60f040" stroke-width="1.6"/>
<text transform="translate(325.2,271.76) scale(1,1.2)" font-size="8" text-anchor="start" font-weight="normal" font-style="normal" fill="#1e1e1e" stroke="#1e1e1e" >6 T</text>
<line x1="304.5" y1="278.89" x2="323" y2="278.89" stroke="#7440ff" stroke-width="1.6"/>
<text transform="translate(325.2,281.79) scale(1,1.2)" font-size="8" text-anchor="start" font-weight="normal" font-style="normal" fill="#1e1e1e" stroke="#1e1e1e" >9 T</text>
<line x1="304.5" y1="288.92" x2="323" y2="288.92" stroke="#c050ff" stroke-width="1.6"/>
<text transform="translate(325.2,291.82) scale(1,1.2)" font-size="8" text-anchor="start" font-weight="normal" font-style="normal" fill="#1e1e1e" stroke="#1e1e1e" >12 T</text>
<text transform="translate(280.8,232.2) scale(1,1.2)" font-size="8" text-anchor="middle" font-weight="normal" font-style="normal" fill="#1e1e1e" stroke="#1e1e1e" ><tspan font-style="italic">P</tspan> = 9.1 GPa</text>
<text transform="translate(280.8,410.1) scale(1,1.14)" font-size="10.1" text-anchor="middle" fill="#1e1e1e" stroke="#1e1e1e"><tspan font-style="italic">T</tspan> (K)</text>
<text transform="translate(181.5,300.4) rotate(-90) scale(1,1.14)" x="0" y="0" font-size="10.1" text-anchor="middle" fill="#1e1e1e" stroke="#1e1e1e"><tspan font-style="italic">dR</tspan>/<tspan font-style="italic">dT</tspan> (mΩ/K)</text>
<text transform="translate(172.8,222.8) scale(1,1.0)" font-size="9.8" fill="#1e1e1e" stroke="#1e1e1e">(f)</text>
<path d="M392.4,372 L392.55,371.95 L392.69,371.89 L392.84,371.84 L392.98,371.79 L393.13,371.74 L393.28,371.7 L393.42,371.65 L393.57,371.61 L393.71,371.56 L393.86,371.52 L394.01,371.48 L394.15,371.44 L394.3,371.4 L394.44,371.37 L394.59,371.33 L394.73,371.29 L394.88,371.26 L395.03,371.22 L395.17,371.19 L395.32,371.16 L395.46,371.12 L395.61,371.09 L395.76,371.06 L395.9,371.03 L396.05,371 L396.19,370.97 L396.34,370.94 L396.49,370.91 L396.63,370.88 L396.78,370.85 L396.92,370.82 L397.07,370.79 L397.22,370.76 L397.36,370.72 L397.51,370.69 L397.65,370.66 L397.8,370.63 L397.95,370.6 L398.09,370.57 L398.24,370.53 L398.38,370.5 L398.53,370.47 L398.68,370.43 L398.82,370.4 L398.97,370.36 L399.11,370.32 L399.26,370.28 L399.4,370.25 L399.55,370.21 L399.7,370.16 L399.84,370.12 L399.99,370.08 L400.13,370.03 L400.28,369.99 L400.43,369.94 L400.57,369.89 L400.72,369.84 L400.86,369.79 L401.01,369.73 L401.16,369.68 L401.3,369.62 L401.45,369.56 L401.59,369.5 L401.74,369.44 L401.89,369.38 L402.03,369.31 L402.18,369.25 L402.32,369.18 L402.47,369.11 L402.62,369.04 L402.76,368.96 L402.91,368.89 L403.05,368.82 L403.2,368.74 L403.34,368.66 L403.49,368.58 L403.64,368.5 L403.78,368.42 L403.93,368.34 L404.07,368.26 L404.22,368.17 L404.37,368.09 L404.51,368 L404.66,367.91 L404.8,367.83 L404.95,367.74 L405.1,367.65 L405.24,367.56 L405.39,367.47 L405.53,367.38 L405.68,367.29 L405.83,367.21 L405.97,367.12 L406.12,367.03 L406.26,366.94 L406.41,366.85 L406.56,366.76 L406.7,366.68 L406.85,366.59 L406.99,366.5 L407.14,366.42 L407.29,366.34 L407.43,366.25 L407.58,366.17 L407.72,366.09 L407.87,366.01 L408.01,365.93 L408.16,365.85 L408.31,365.77 L408.45,365.69 L408.6,365.61 L408.74,365.53 L408.89,365.45 L409.04,365.37 L409.18,365.3 L409.33,365.22 L409.47,365.14 L409.62,365.06 L409.77,364.98 L409.91,364.9 L410.06,364.82 L410.2,364.74 L410.35,364.66 L410.5,364.58 L410.64,364.5 L410.79,364.41 L410.93,364.33 L411.08,364.25 L411.23,364.16 L411.37,364.08 L411.52,363.99 L411.66,363.9 L411.81,363.81 L411.95,363.72 L412.1,363.63 L412.25,363.53 L412.39,363.44 L412.54,363.34 L412.68,363.25 L412.83,363.15 L412.98,363.05 L413.12,362.94 L413.27,362.84 L413.41,362.74 L413.56,362.63 L413.71,362.52 L413.85,362.42 L414,362.31 L414.14,362.2 L414.29,362.08 L414.44,361.97 L414.58,361.86 L414.73,361.74 L414.87,361.62 L415.02,361.51 L415.17,361.39 L415.31,361.27 L415.46,361.15 L415.6,361.02 L415.75,360.9 L415.9,360.78 L416.04,360.65 L416.19,360.52 L416.33,360.4 L416.48,360.27 L416.62,360.14 L416.77,360.01 L416.92,359.88 L417.06,359.75 L417.21,359.61 L417.35,359.48 L417.5,359.34 L417.65,359.21 L417.79,359.07 L417.94,358.94 L418.08,358.8 L418.23,358.66 L418.38,358.52 L418.52,358.38 L418.67,358.24 L418.81,358.1 L418.96,357.95 L419.11,357.81 L419.25,357.67 L419.4,357.52 L419.54,357.38 L419.69,357.23 L419.84,357.09 L419.98,356.94 L420.13,356.8 L420.27,356.65 L420.42,356.5 L420.56,356.35 L420.71,356.2 L420.86,356.05 L421,355.9 L421.15,355.75 L421.29,355.6 L421.44,355.45 L421.59,355.3 L421.73,355.15 L421.88,355 L422.02,354.84 L422.17,354.69 L422.32,354.54 L422.46,354.38 L422.61,354.23 L422.75,354.07 L422.9,353.92 L423.05,353.76 L423.19,353.61 L423.34,353.45 L423.48,353.29 L423.63,353.13 L423.78,352.98 L423.92,352.82 L424.07,352.66 L424.21,352.5 L424.36,352.34 L424.51,352.18 L424.65,352.02 L424.8,351.85 L424.94,351.69 L425.09,351.53 L425.23,351.37 L425.38,351.2 L425.53,351.04 L425.67,350.87 L425.82,350.71 L425.96,350.54 L426.11,350.37 L426.26,350.21 L426.4,350.04 L426.55,349.87 L426.69,349.7 L426.84,349.53 L426.99,349.36 L427.13,349.19 L427.28,349.02 L427.42,348.85 L427.57,348.67 L427.72,348.5 L427.86,348.33 L428.01,348.16 L428.15,347.98 L428.3,347.81 L428.45,347.63 L428.59,347.46 L428.74,347.28 L428.88,347.1 L429.03,346.93 L429.17,346.75 L429.32,346.57 L429.47,346.39 L429.61,346.21 L429.76,346.04 L429.9,345.86 L430.05,345.68 L430.2,345.5 L430.34,345.32 L430.49,345.14 L430.63,344.95 L430.78,344.77 L430.93,344.59 L431.07,344.41 L431.22,344.23 L431.36,344.05 L431.51,343.86 L431.66,343.68 L431.8,343.5 L431.95,343.31 L432.09,343.13 L432.24,342.94 L432.39,342.76 L432.53,342.58 L432.68,342.39 L432.82,342.21 L432.97,342.02 L433.12,341.84 L433.26,341.65 L433.41,341.46 L433.55,341.28 L433.7,341.09 L433.84,340.91 L433.99,340.72 L434.14,340.53 L434.28,340.35 L434.43,340.16 L434.57,339.97 L434.72,339.79 L434.87,339.6 L435.01,339.41 L435.16,339.22 L435.3,339.04 L435.45,338.85 L435.6,338.66 L435.74,338.47 L435.89,338.29 L436.03,338.1 L436.18,337.91 L436.33,337.72 L436.47,337.54 L436.62,337.35 L436.76,337.16 L436.91,336.97 L437.06,336.79 L437.2,336.6 L437.35,336.41 L437.49,336.22 L437.64,336.03 L437.78,335.84 L437.93,335.65 L438.08,335.46 L438.22,335.27 L438.37,335.08 L438.51,334.89 L438.66,334.7 L438.81,334.5 L438.95,334.31 L439.1,334.11 L439.24,333.92 L439.39,333.72 L439.54,333.52 L439.68,333.32 L439.83,333.13 L439.97,332.92 L440.12,332.72 L440.27,332.52 L440.41,332.32 L440.56,332.11 L440.7,331.9 L440.85,331.69 L441,331.49 L441.14,331.27 L441.29,331.06 L441.43,330.85 L441.58,330.63 L441.73,330.41 L441.87,330.2 L442.02,329.97 L442.16,329.75 L442.31,329.53 L442.45,329.3 L442.6,329.07 L442.75,328.84 L442.89,328.61 L443.04,328.38 L443.18,328.15 L443.33,327.91 L443.48,327.67 L443.62,327.43 L443.77,327.19 L443.91,326.95 L444.06,326.71 L444.21,326.47 L444.35,326.22 L444.5,325.98 L444.64,325.73 L444.79,325.48 L444.94,325.23 L445.08,324.98 L445.23,324.73 L445.37,324.48 L445.52,324.22 L445.67,323.97 L445.81,323.71 L445.96,323.46 L446.1,323.2 L446.25,322.94 L446.39,322.69 L446.54,322.43 L446.69,322.17 L446.83,321.91 L446.98,321.65 L447.12,321.39 L447.27,321.13 L447.42,320.86 L447.56,320.6 L447.71,320.34 L447.85,320.08 L448,319.82 L448.15,319.55 L448.29,319.29 L448.44,319.03 L448.58,318.77 L448.73,318.5 L448.88,318.24 L449.02,317.98 L449.17,317.72 L449.31,317.46 L449.46,317.2 L449.61,316.94 L449.75,316.68 L449.9,316.42 L450.04,316.16 L450.19,315.9 L450.34,315.64 L450.48,315.38 L450.63,315.13 L450.77,314.87 L450.92,314.62 L451.06,314.36 L451.21,314.11 L451.36,313.86 L451.5,313.61 L451.65,313.35 L451.79,313.1 L451.94,312.85 L452.09,312.6 L452.23,312.35 L452.38,312.1 L452.52,311.85 L452.67,311.6 L452.82,311.35 L452.96,311.09 L453.11,310.84 L453.25,310.59 L453.4,310.34 L453.55,310.08 L453.69,309.83 L453.84,309.57 L453.98,309.32 L454.13,309.06 L454.28,308.8 L454.42,308.54 L454.57,308.28 L454.71,308.02 L454.86,307.76 L455.01,307.49 L455.15,307.22 L455.3,306.96 L455.44,306.69 L455.59,306.42 L455.73,306.15 L455.88,305.87 L456.03,305.6 L456.17,305.33 L456.32,305.05 L456.46,304.78 L456.61,304.5 L456.76,304.23 L456.9,303.95 L457.05,303.67 L457.19,303.4 L457.34,303.12 L457.49,302.84 L457.63,302.56 L457.78,302.29 L457.92,302.01 L458.07,301.74 L458.22,301.46 L458.36,301.19 L458.51,300.92 L458.65,300.64 L458.8,300.37 L458.95,300.1 L459.09,299.83 L459.24,299.56 L459.38,299.3 L459.53,299.03 L459.67,298.77 L459.82,298.5 L459.97,298.24 L460.11,297.98 L460.26,297.72 L460.4,297.46 L460.55,297.2 L460.7,296.94 L460.84,296.68 L460.99,296.42 L461.13,296.16 L461.28,295.9 L461.43,295.65 L461.57,295.39 L461.72,295.13 L461.86,294.87 L462.01,294.61 L462.16,294.36 L462.3,294.1 L462.45,293.84 L462.59,293.58 L462.74,293.32 L462.89,293.06 L463.03,292.8 L463.18,292.54 L463.32,292.28 L463.47,292.02 L463.62,291.75 L463.76,291.49 L463.91,291.22 L464.05,290.96 L464.2,290.69 L464.34,290.42 L464.49,290.15 L464.64,289.88 L464.78,289.61 L464.93,289.33 L465.07,289.06 L465.22,288.78 L465.37,288.5 L465.51,288.23 L465.66,287.95 L465.8,287.66 L465.95,287.38 L466.1,287.1 L466.24,286.82 L466.39,286.54 L466.53,286.26 L466.68,285.97 L466.83,285.69 L466.97,285.41 L467.12,285.13 L467.26,284.85 L467.41,284.58 L467.56,284.3 L467.7,284.03 L467.85,283.75 L467.99,283.48 L468.14,283.21 L468.28,282.95 L468.43,282.68 L468.58,282.42 L468.72,282.16 L468.87,281.9 L469.01,281.65 L469.16,281.4 L469.31,281.16 L469.45,280.91 L469.6,280.67 L469.74,280.44 L469.89,280.21 L470.04,279.98 L470.18,279.75 L470.33,279.53 L470.47,279.31 L470.62,279.1 L470.77,278.88 L470.91,278.67 L471.06,278.46 L471.2,278.26 L471.35,278.05 L471.5,277.85 L471.64,277.65 L471.79,277.45 L471.93,277.26 L472.08,277.06 L472.23,276.87 L472.37,276.68 L472.52,276.49 L472.66,276.3 L472.81,276.11 L472.95,275.92 L473.1,275.74 L473.25,275.55 L473.39,275.36 L473.54,275.18 L473.68,274.99 L473.83,274.81 L473.98,274.62 L474.12,274.44 L474.27,274.25 L474.41,274.07 L474.56,273.88 L474.71,273.69 L474.85,273.5 L475,273.32 L475.14,273.13 L475.29,272.94 L475.44,272.75 L475.58,272.56 L475.73,272.37 L475.87,272.18 L476.02,271.99 L476.17,271.8 L476.31,271.61 L476.46,271.43 L476.6,271.24 L476.75,271.05 L476.89,270.87 L477.04,270.69 L477.19,270.5 L477.33,270.32 L477.48,270.14 L477.62,269.97 L477.77,269.79 L477.92,269.62 L478.06,269.44 L478.21,269.28 L478.35,269.11 L478.5,268.94 L478.65,268.78 L478.79,268.62 L478.94,268.47 L479.08,268.31 L479.23,268.16 L479.38,268.01 L479.52,267.87 L479.67,267.73 L479.81,267.59 L479.96,267.45 L480.11,267.32 L480.25,267.19 L480.4,267.06 L480.54,266.93 L480.69,266.81 L480.84,266.68 L480.98,266.56 L481.13,266.45 L481.27,266.33 L481.42,266.22 L481.56,266.1 L481.71,265.99 L481.86,265.88 L482,265.78 L482.15,265.67 L482.29,265.57 L482.44,265.46 L482.59,265.36 L482.73,265.26 L482.88,265.16 L483.02,265.07 L483.17,264.97 L483.32,264.87 L483.46,264.78 L483.61,264.69 L483.75,264.59 L483.9,264.5 L484.05,264.41 L484.19,264.32 L484.34,264.23 L484.48,264.14 L484.63,264.05 L484.78,263.96 L484.92,263.87 L485.07,263.79 L485.21,263.7 L485.36,263.62 L485.5,263.53 L485.65,263.45 L485.8,263.37 L485.94,263.29 L486.09,263.21 L486.23,263.14 L486.38,263.06 L486.53,262.99 L486.67,262.91 L486.82,262.84 L486.96,262.77 L487.11,262.7 L487.26,262.64 L487.4,262.57 L487.55,262.51 L487.69,262.45 L487.84,262.39 L487.99,262.33 L488.13,262.27 L488.28,262.22 L488.42,262.17 L488.57,262.12 L488.72,262.07 L488.86,262.02 L489.01,261.98 L489.15,261.94 L489.3,261.9 L489.45,261.86 L489.59,261.82 L489.74,261.79 L489.88,261.76 L490.03,261.73 L490.17,261.71 L490.32,261.69 L490.47,261.67 L490.61,261.65 L490.76,261.63 L490.9,261.62 L491.05,261.61 L491.2,261.6 L491.34,261.59 L491.49,261.59 L491.63,261.59 L491.78,261.59 L491.93,261.6 L492.07,261.6 L492.22,261.61 L492.36,261.63 L492.51,261.64 L492.66,261.66 L492.8,261.68 L492.95,261.7 L493.09,261.72 L493.24,261.75 L493.39,261.78 L493.53,261.81 L493.68,261.85 L493.82,261.89 L493.97,261.93 L494.11,261.97 L494.26,262.02 L494.41,262.07 L494.55,262.12 L494.7,262.17 L494.84,262.23 L494.99,262.29 L495.14,262.35 L495.28,262.42 L495.43,262.49 L495.57,262.56 L495.72,262.63 L495.87,262.71 L496.01,262.79 L496.16,262.87 L496.3,262.95 L496.45,263.04 L496.6,263.13 L496.74,263.23 L496.89,263.33 L497.03,263.43 L497.18,263.53 L497.33,263.64 L497.47,263.75 L497.62,263.86 L497.76,263.97 L497.91,264.09 L498.06,264.22 L498.2,264.34 L498.35,264.47 L498.49,264.6 L498.64,264.74 L498.78,264.88 L498.93,265.02 L499.08,265.17 L499.22,265.31 L499.37,265.47 L499.51,265.62 L499.66,265.78 L499.81,265.94 L499.95,266.11 L500.1,266.28 L500.24,266.45 L500.39,266.63 L500.54,266.81 L500.68,266.99 L500.83,267.18 L500.97,267.36 L501.12,267.56 L501.27,267.75 L501.41,267.95 L501.56,268.15 L501.7,268.36 L501.85,268.56 L502,268.77 L502.14,268.99 L502.29,269.2 L502.43,269.42 L502.58,269.64 L502.72,269.87 L502.87,270.1 L503.02,270.33 L503.16,270.56 L503.31,270.8 L503.45,271.04 L503.6,271.28 L503.75,271.52 L503.89,271.77 L504.04,272.02 L504.18,272.27 L504.33,272.53 L504.48,272.79 L504.62,273.05 L504.77,273.31 L504.91,273.57 L505.06,273.84 L505.21,274.11 L505.35,274.38 L505.5,274.66 L505.64,274.93 L505.79,275.21 L505.94,275.5 L506.08,275.78 L506.23,276.07 L506.37,276.35 L506.52,276.65 L506.67,276.94 L506.81,277.23 L506.96,277.53 L507.1,277.83 L507.25,278.13 L507.39,278.43 L507.54,278.74 L507.69,279.05 L507.83,279.36 L507.98,279.67 L508.12,279.98 L508.27,280.3 L508.42,280.61 L508.56,280.93 L508.71,281.25 L508.85,281.58 L509,281.9" fill="none" stroke="#5ef07a" stroke-width="1.0" stroke-linejoin="round" stroke-linecap="round" />
<rect x="391.4" y="371" width="2" height="2" fill="#5ef07a"/>
<rect x="393.89" y="370.26" width="2" height="2" fill="#5ef07a"/>
<rect x="396.43" y="369.71" width="2" height="2" fill="#5ef07a"/>
<rect x="398.95" y="369.09" width="2" height="2" fill="#5ef07a"/>
<rect x="401.38" y="368.15" width="2" height="2" fill="#5ef07a"/>
<rect x="403.66" y="366.91" width="2" height="2" fill="#5ef07a"/>
<rect x="405.89" y="365.57" width="2" height="2" fill="#5ef07a"/>
<rect x="408.16" y="364.31" width="2" height="2" fill="#5ef07a"/>
<rect x="410.43" y="363.04" width="2" height="2" fill="#5ef07a"/>
<rect x="412.6" y="361.6" width="2" height="2" fill="#5ef07a"/>
<rect x="414.64" y="359.99" width="2" height="2" fill="#5ef07a"/>
<rect x="416.58" y="358.27" width="2" height="2" fill="#5ef07a"/>
<rect x="418.46" y="356.47" width="2" height="2" fill="#5ef07a"/>
<rect x="420.28" y="354.61" width="2" height="2" fill="#5ef07a"/>
<rect x="422.07" y="352.73" width="2" height="2" fill="#5ef07a"/>
<rect x="423.83" y="350.82" width="2" height="2" fill="#5ef07a"/>
<rect x="425.55" y="348.87" width="2" height="2" fill="#5ef07a"/>
<rect x="427.23" y="346.88" width="2" height="2" fill="#5ef07a"/>
<rect x="428.89" y="344.88" width="2" height="2" fill="#5ef07a"/>
<rect x="430.52" y="342.85" width="2" height="2" fill="#5ef07a"/>
<rect x="432.13" y="340.81" width="2" height="2" fill="#5ef07a"/>
<rect x="433.74" y="338.77" width="2" height="2" fill="#5ef07a"/>
<rect x="435.33" y="336.71" width="2" height="2" fill="#5ef07a"/>
<rect x="436.93" y="334.66" width="2" height="2" fill="#5ef07a"/>
<rect x="438.49" y="332.58" width="2" height="2" fill="#5ef07a"/>
<rect x="440.01" y="330.47" width="2" height="2" fill="#5ef07a"/>
<rect x="441.45" y="328.31" width="2" height="2" fill="#5ef07a"/>
<rect x="442.82" y="326.1" width="2" height="2" fill="#5ef07a"/>
<rect x="444.15" y="323.86" width="2" height="2" fill="#5ef07a"/>
<rect x="445.44" y="321.61" width="2" height="2" fill="#5ef07a"/>
<rect x="446.71" y="319.34" width="2" height="2" fill="#5ef07a"/>
<rect x="447.97" y="317.07" width="2" height="2" fill="#5ef07a"/>
<rect x="449.25" y="314.8" width="2" height="2" fill="#5ef07a"/>
<rect x="450.54" y="312.54" width="2" height="2" fill="#5ef07a"/>
<rect x="451.84" y="310.3" width="2" height="2" fill="#5ef07a"/>
<rect x="453.14" y="308.04" width="2" height="2" fill="#5ef07a"/>
<rect x="454.4" y="305.77" width="2" height="2" fill="#5ef07a"/>
<rect x="455.62" y="303.47" width="2" height="2" fill="#5ef07a"/>
<rect x="456.84" y="301.17" width="2" height="2" fill="#5ef07a"/>
<rect x="458.06" y="298.88" width="2" height="2" fill="#5ef07a"/>
<rect x="459.32" y="296.61" width="2" height="2" fill="#5ef07a"/>
<rect x="460.6" y="294.34" width="2" height="2" fill="#5ef07a"/>
<rect x="461.88" y="292.08" width="2" height="2" fill="#5ef07a"/>
<rect x="463.14" y="289.8" width="2" height="2" fill="#5ef07a"/>
<rect x="464.36" y="287.51" width="2" height="2" fill="#5ef07a"/>
<rect x="465.56" y="285.2" width="2" height="2" fill="#5ef07a"/>
<rect x="466.77" y="282.9" width="2" height="2" fill="#5ef07a"/>
<rect x="468.03" y="280.63" width="2" height="2" fill="#5ef07a"/>
<rect x="469.4" y="278.42" width="2" height="2" fill="#5ef07a"/>
<rect x="470.9" y="276.3" width="2" height="2" fill="#5ef07a"/>
<rect x="472.49" y="274.24" width="2" height="2" fill="#5ef07a"/>
<rect x="474.09" y="272.19" width="2" height="2" fill="#5ef07a"/>
<rect x="475.69" y="270.13" width="2" height="2" fill="#5ef07a"/>
<rect x="477.34" y="268.13" width="2" height="2" fill="#5ef07a"/>
<rect x="479.16" y="266.27" width="2" height="2" fill="#5ef07a"/>
<rect x="481.18" y="264.65" width="2" height="2" fill="#5ef07a"/>
<rect x="483.36" y="263.22" width="2" height="2" fill="#5ef07a"/>
<rect x="485.62" y="261.94" width="2" height="2" fill="#5ef07a"/>
<rect x="488.03" y="260.97" width="2" height="2" fill="#5ef07a"/>
<rect x="490.59" y="260.59" width="2" height="2" fill="#5ef07a"/>
<rect x="493.15" y="260.98" width="2" height="2" fill="#5ef07a"/>
<rect x="495.5" y="262.08" width="2" height="2" fill="#5ef07a"/>
<rect x="497.56" y="263.66" width="2" height="2" fill="#5ef07a"/>
<rect x="499.33" y="265.56" width="2" height="2" fill="#5ef07a"/>
<rect x="500.9" y="267.63" width="2" height="2" fill="#5ef07a"/>
<rect x="502.32" y="269.81" width="2" height="2" fill="#5ef07a"/>
<rect x="503.63" y="272.06" width="2" height="2" fill="#5ef07a"/>
<rect x="504.86" y="274.35" width="2" height="2" fill="#5ef07a"/>
<rect x="506.03" y="276.67" width="2" height="2" fill="#5ef07a"/>
<rect x="507.14" y="279.02" width="2" height="2" fill="#5ef07a"/>
<path d="M392.4,372 L392.55,371.95 L392.69,371.89 L392.84,371.84 L392.98,371.79 L393.13,371.74 L393.28,371.7 L393.42,371.65 L393.57,371.61 L393.71,371.56 L393.86,371.52 L394.01,371.48 L394.15,371.44 L394.3,371.4 L394.44,371.37 L394.59,371.33 L394.73,371.29 L394.88,371.26 L395.03,371.22 L395.17,371.19 L395.32,371.16 L395.46,371.12 L395.61,371.09 L395.76,371.06 L395.9,371.03 L396.05,371 L396.19,370.97 L396.34,370.94 L396.49,370.91 L396.63,370.88 L396.78,370.85 L396.92,370.82 L397.07,370.79 L397.22,370.76 L397.36,370.72 L397.51,370.69 L397.65,370.66 L397.8,370.63 L397.95,370.6 L398.09,370.57 L398.24,370.53 L398.38,370.5 L398.53,370.47 L398.68,370.43 L398.82,370.4 L398.97,370.36 L399.11,370.32 L399.26,370.28 L399.4,370.25 L399.55,370.21 L399.7,370.16 L399.84,370.12 L399.99,370.08 L400.13,370.03 L400.28,369.99 L400.43,369.94 L400.57,369.89 L400.72,369.84 L400.86,369.79 L401.01,369.73 L401.16,369.68 L401.3,369.62 L401.45,369.56 L401.59,369.5 L401.74,369.44 L401.89,369.38 L402.03,369.31 L402.18,369.25 L402.32,369.18 L402.47,369.11 L402.62,369.04 L402.76,368.96 L402.91,368.89 L403.05,368.82 L403.2,368.74 L403.34,368.66 L403.49,368.58 L403.64,368.5 L403.78,368.42 L403.93,368.34 L404.07,368.26 L404.22,368.17 L404.37,368.09 L404.51,368 L404.66,367.92 L404.8,367.83 L404.95,367.74 L405.1,367.65 L405.24,367.56 L405.39,367.47 L405.53,367.38 L405.68,367.3 L405.83,367.21 L405.97,367.12 L406.12,367.03 L406.26,366.94 L406.41,366.85 L406.56,366.76 L406.7,366.68 L406.85,366.59 L406.99,366.5 L407.14,366.42 L407.29,366.34 L407.43,366.25 L407.58,366.17 L407.72,366.09 L407.87,366.01 L408.01,365.93 L408.16,365.85 L408.31,365.77 L408.45,365.69 L408.6,365.61 L408.74,365.53 L408.89,365.45 L409.04,365.37 L409.18,365.29 L409.33,365.21 L409.47,365.13 L409.62,365.05 L409.77,364.97 L409.91,364.89 L410.06,364.81 L410.2,364.73 L410.35,364.65 L410.5,364.57 L410.64,364.49 L410.79,364.41 L410.93,364.32 L411.08,364.24 L411.23,364.16 L411.37,364.07 L411.52,363.98 L411.66,363.9 L411.81,363.81 L411.95,363.72 L412.1,363.63 L412.25,363.53 L412.39,363.44 L412.54,363.35 L412.68,363.25 L412.83,363.15 L412.98,363.05 L413.12,362.95 L413.27,362.85 L413.41,362.75 L413.56,362.64 L413.71,362.54 L413.85,362.43 L414,362.32 L414.14,362.22 L414.29,362.11 L414.44,361.99 L414.58,361.88 L414.73,361.77 L414.87,361.65 L415.02,361.54 L415.17,361.42 L415.31,361.3 L415.46,361.18 L415.6,361.06 L415.75,360.94 L415.9,360.82 L416.04,360.69 L416.19,360.57 L416.33,360.44 L416.48,360.32 L416.62,360.19 L416.77,360.06 L416.92,359.93 L417.06,359.8 L417.21,359.67 L417.35,359.53 L417.5,359.4 L417.65,359.26 L417.79,359.13 L417.94,358.99 L418.08,358.85 L418.23,358.71 L418.38,358.57 L418.52,358.43 L418.67,358.29 L418.81,358.15 L418.96,358 L419.11,357.86 L419.25,357.72 L419.4,357.57 L419.54,357.42 L419.69,357.27 L419.84,357.13 L419.98,356.98 L420.13,356.83 L420.27,356.68 L420.42,356.52 L420.56,356.37 L420.71,356.22 L420.86,356.06 L421,355.91 L421.15,355.75 L421.29,355.6 L421.44,355.44 L421.59,355.28 L421.73,355.13 L421.88,354.97 L422.02,354.81 L422.17,354.65 L422.32,354.49 L422.46,354.32 L422.61,354.16 L422.75,354 L422.9,353.83 L423.05,353.67 L423.19,353.5 L423.34,353.33 L423.48,353.17 L423.63,353 L423.78,352.83 L423.92,352.66 L424.07,352.49 L424.21,352.32 L424.36,352.14 L424.51,351.97 L424.65,351.8 L424.8,351.62 L424.94,351.44 L425.09,351.27 L425.23,351.09 L425.38,350.91 L425.53,350.73 L425.67,350.55 L425.82,350.37 L425.96,350.19 L426.11,350 L426.26,349.82 L426.4,349.63 L426.55,349.45 L426.69,349.26 L426.84,349.07 L426.99,348.88 L427.13,348.69 L427.28,348.5 L427.42,348.31 L427.57,348.12 L427.72,347.92 L427.86,347.73 L428.01,347.53 L428.15,347.33 L428.3,347.13 L428.45,346.93 L428.59,346.73 L428.74,346.53 L428.88,346.33 L429.03,346.13 L429.17,345.92 L429.32,345.72 L429.47,345.51 L429.61,345.3 L429.76,345.09 L429.9,344.88 L430.05,344.67 L430.2,344.46 L430.34,344.25 L430.49,344.03 L430.63,343.82 L430.78,343.6 L430.93,343.38 L431.07,343.16 L431.22,342.94 L431.36,342.72 L431.51,342.5 L431.66,342.28 L431.8,342.05 L431.95,341.83 L432.09,341.6 L432.24,341.37 L432.39,341.14 L432.53,340.91 L432.68,340.68 L432.82,340.45 L432.97,340.22 L433.12,339.99 L433.26,339.75 L433.41,339.52 L433.55,339.28 L433.7,339.04 L433.84,338.8 L433.99,338.56 L434.14,338.32 L434.28,338.08 L434.43,337.84 L434.57,337.6 L434.72,337.35 L434.87,337.11 L435.01,336.86 L435.16,336.62 L435.3,336.37 L435.45,336.12 L435.6,335.87 L435.74,335.62 L435.89,335.37 L436.03,335.12 L436.18,334.86 L436.33,334.61 L436.47,334.36 L436.62,334.1 L436.76,333.84 L436.91,333.59 L437.06,333.33 L437.2,333.07 L437.35,332.81 L437.49,332.55 L437.64,332.29 L437.78,332.03 L437.93,331.76 L438.08,331.5 L438.22,331.24 L438.37,330.97 L438.51,330.71 L438.66,330.44 L438.81,330.17 L438.95,329.9 L439.1,329.63 L439.24,329.37 L439.39,329.1 L439.54,328.82 L439.68,328.55 L439.83,328.28 L439.97,328.01 L440.12,327.74 L440.27,327.46 L440.41,327.19 L440.56,326.91 L440.7,326.64 L440.85,326.36 L441,326.09 L441.14,325.81 L441.29,325.53 L441.43,325.25 L441.58,324.98 L441.73,324.7 L441.87,324.42 L442.02,324.14 L442.16,323.86 L442.31,323.58 L442.45,323.3 L442.6,323.03 L442.75,322.75 L442.89,322.47 L443.04,322.19 L443.18,321.91 L443.33,321.63 L443.48,321.35 L443.62,321.07 L443.77,320.79 L443.91,320.51 L444.06,320.23 L444.21,319.95 L444.35,319.67 L444.5,319.39 L444.64,319.11 L444.79,318.83 L444.94,318.55 L445.08,318.27 L445.23,317.99 L445.37,317.71 L445.52,317.43 L445.67,317.15 L445.81,316.87 L445.96,316.6 L446.1,316.32 L446.25,316.04 L446.39,315.77 L446.54,315.49 L446.69,315.21 L446.83,314.94 L446.98,314.66 L447.12,314.39 L447.27,314.11 L447.42,313.84 L447.56,313.57 L447.71,313.29 L447.85,313.02 L448,312.75 L448.15,312.48 L448.29,312.2 L448.44,311.93 L448.58,311.66 L448.73,311.39 L448.88,311.11 L449.02,310.84 L449.17,310.57 L449.31,310.3 L449.46,310.02 L449.61,309.75 L449.75,309.48 L449.9,309.2 L450.04,308.93 L450.19,308.66 L450.34,308.38 L450.48,308.11 L450.63,307.83 L450.77,307.56 L450.92,307.28 L451.06,307 L451.21,306.72 L451.36,306.44 L451.5,306.17 L451.65,305.89 L451.79,305.6 L451.94,305.32 L452.09,305.04 L452.23,304.76 L452.38,304.47 L452.52,304.19 L452.67,303.9 L452.82,303.61 L452.96,303.32 L453.11,303.04 L453.25,302.74 L453.4,302.45 L453.55,302.16 L453.69,301.86 L453.84,301.57 L453.98,301.27 L454.13,300.97 L454.28,300.67 L454.42,300.37 L454.57,300.07 L454.71,299.76 L454.86,299.46 L455.01,299.15 L455.15,298.84 L455.3,298.53 L455.44,298.22 L455.59,297.91 L455.73,297.59 L455.88,297.28 L456.03,296.96 L456.17,296.64 L456.32,296.32 L456.46,296 L456.61,295.68 L456.76,295.36 L456.9,295.03 L457.05,294.71 L457.19,294.39 L457.34,294.06 L457.49,293.73 L457.63,293.4 L457.78,293.08 L457.92,292.75 L458.07,292.42 L458.22,292.09 L458.36,291.76 L458.51,291.42 L458.65,291.09 L458.8,290.76 L458.95,290.43 L459.09,290.09 L459.24,289.76 L459.38,289.43 L459.53,289.09 L459.67,288.76 L459.82,288.42 L459.97,288.09 L460.11,287.75 L460.26,287.42 L460.4,287.08 L460.55,286.75 L460.7,286.41 L460.84,286.08 L460.99,285.75 L461.13,285.41 L461.28,285.08 L461.43,284.75 L461.57,284.42 L461.72,284.08 L461.86,283.75 L462.01,283.43 L462.16,283.1 L462.3,282.77 L462.45,282.44 L462.59,282.12 L462.74,281.79 L462.89,281.47 L463.03,281.15 L463.18,280.83 L463.32,280.51 L463.47,280.19 L463.62,279.88 L463.76,279.56 L463.91,279.25 L464.05,278.94 L464.2,278.63 L464.34,278.32 L464.49,278.02 L464.64,277.72 L464.78,277.42 L464.93,277.12 L465.07,276.82 L465.22,276.53 L465.37,276.23 L465.51,275.94 L465.66,275.65 L465.8,275.36 L465.95,275.07 L466.1,274.79 L466.24,274.5 L466.39,274.22 L466.53,273.93 L466.68,273.65 L466.83,273.37 L466.97,273.09 L467.12,272.8 L467.26,272.52 L467.41,272.24 L467.56,271.96 L467.7,271.68 L467.85,271.4 L467.99,271.12 L468.14,270.84 L468.28,270.56 L468.43,270.28 L468.58,270 L468.72,269.72 L468.87,269.43 L469.01,269.15 L469.16,268.87 L469.31,268.58 L469.45,268.3 L469.6,268.01 L469.74,267.72 L469.89,267.43 L470.04,267.14 L470.18,266.85 L470.33,266.56 L470.47,266.27 L470.62,265.97 L470.77,265.68 L470.91,265.38 L471.06,265.08 L471.2,264.78 L471.35,264.48 L471.5,264.18 L471.64,263.88 L471.79,263.57 L471.93,263.27 L472.08,262.96 L472.23,262.66 L472.37,262.35 L472.52,262.04 L472.66,261.72 L472.81,261.41 L472.95,261.1 L473.1,260.78 L473.25,260.47 L473.39,260.15 L473.54,259.83 L473.68,259.51 L473.83,259.19 L473.98,258.87 L474.12,258.55 L474.27,258.23 L474.41,257.91 L474.56,257.59 L474.71,257.27 L474.85,256.95 L475,256.63 L475.14,256.32 L475.29,256 L475.44,255.69 L475.58,255.38 L475.73,255.07 L475.87,254.76 L476.02,254.45 L476.17,254.14 L476.31,253.84 L476.46,253.54 L476.6,253.24 L476.75,252.94 L476.89,252.65 L477.04,252.36 L477.19,252.06 L477.33,251.77 L477.48,251.49 L477.62,251.2 L477.77,250.91 L477.92,250.63 L478.06,250.35 L478.21,250.07 L478.35,249.79 L478.5,249.51 L478.65,249.23 L478.79,248.95 L478.94,248.68 L479.08,248.4 L479.23,248.13 L479.38,247.86 L479.52,247.59 L479.67,247.32 L479.81,247.05 L479.96,246.78 L480.11,246.51 L480.25,246.25 L480.4,245.98 L480.54,245.72 L480.69,245.46 L480.84,245.2 L480.98,244.94 L481.13,244.68 L481.27,244.43 L481.42,244.17 L481.56,243.92 L481.71,243.66 L481.86,243.41 L482,243.17 L482.15,242.92 L482.29,242.67 L482.44,242.43 L482.59,242.19 L482.73,241.95 L482.88,241.71 L483.02,241.47 L483.17,241.24 L483.32,241.01 L483.46,240.78 L483.61,240.55 L483.75,240.32 L483.9,240.1 L484.05,239.88 L484.19,239.66 L484.34,239.44 L484.48,239.23 L484.63,239.01 L484.78,238.81 L484.92,238.6 L485.07,238.4 L485.21,238.2 L485.36,238 L485.5,237.8 L485.65,237.61 L485.8,237.42 L485.94,237.24 L486.09,237.05 L486.23,236.87 L486.38,236.7 L486.53,236.53 L486.67,236.36 L486.82,236.19 L486.96,236.03 L487.11,235.87 L487.26,235.72 L487.4,235.56 L487.55,235.41 L487.69,235.27 L487.84,235.13 L487.99,234.98 L488.13,234.85 L488.28,234.71 L488.42,234.58 L488.57,234.45 L488.72,234.32 L488.86,234.19 L489.01,234.06 L489.15,233.94 L489.3,233.82 L489.45,233.7 L489.59,233.57 L489.74,233.46 L489.88,233.34 L490.03,233.22 L490.17,233.1 L490.32,232.98 L490.47,232.87 L490.61,232.75 L490.76,232.63 L490.9,232.52 L491.05,232.4 L491.2,232.29 L491.34,232.18 L491.49,232.07 L491.63,231.96 L491.78,231.85 L491.93,231.74 L492.07,231.63 L492.22,231.53 L492.36,231.43 L492.51,231.33 L492.66,231.23 L492.8,231.13 L492.95,231.04 L493.09,230.95 L493.24,230.86 L493.39,230.78 L493.53,230.69 L493.68,230.61 L493.82,230.54 L493.97,230.46 L494.11,230.39 L494.26,230.32 L494.41,230.26 L494.55,230.19 L494.7,230.13 L494.84,230.07 L494.99,230.01 L495.14,229.96 L495.28,229.9 L495.43,229.85 L495.57,229.8 L495.72,229.75 L495.87,229.7 L496.01,229.65 L496.16,229.6 L496.3,229.55 L496.45,229.51 L496.6,229.46 L496.74,229.41 L496.89,229.37 L497.03,229.32 L497.18,229.27 L497.33,229.23 L497.47,229.18 L497.62,229.13 L497.76,229.09 L497.91,229.04 L498.06,229 L498.2,228.96 L498.35,228.92 L498.49,228.88 L498.64,228.84 L498.78,228.81 L498.93,228.78 L499.08,228.75 L499.22,228.73 L499.37,228.72 L499.51,228.7 L499.66,228.69 L499.81,228.69 L499.95,228.69 L500.1,228.7 L500.24,228.71 L500.39,228.73 L500.54,228.76 L500.68,228.79 L500.83,228.83 L500.97,228.87 L501.12,228.91 L501.27,228.97 L501.41,229.02 L501.56,229.08 L501.7,229.15 L501.85,229.22 L502,229.29 L502.14,229.37 L502.29,229.45 L502.43,229.54 L502.58,229.63 L502.72,229.72 L502.87,229.81 L503.02,229.91 L503.16,230.01 L503.31,230.12 L503.45,230.22 L503.6,230.33 L503.75,230.45 L503.89,230.56 L504.04,230.68 L504.18,230.81 L504.33,230.93 L504.48,231.06 L504.62,231.19 L504.77,231.33 L504.91,231.47 L505.06,231.61 L505.21,231.76 L505.35,231.91 L505.5,232.06 L505.64,232.22 L505.79,232.38 L505.94,232.55 L506.08,232.72 L506.23,232.89 L506.37,233.07 L506.52,233.25 L506.67,233.43 L506.81,233.62 L506.96,233.82 L507.1,234.02 L507.25,234.22 L507.39,234.42 L507.54,234.64 L507.69,234.85 L507.83,235.07 L507.98,235.3 L508.12,235.52 L508.27,235.76 L508.42,236 L508.56,236.24 L508.71,236.49 L508.85,236.74 L509,237" fill="none" stroke="#9ccc3c" stroke-width="1.0" stroke-linejoin="round" stroke-linecap="round" />
<rect x="391.4" y="371" width="2" height="2" fill="#9ccc3c"/>
<rect x="393.89" y="370.26" width="2" height="2" fill="#9ccc3c"/>
<rect x="396.43" y="369.71" width="2" height="2" fill="#9ccc3c"/>
<rect x="398.95" y="369.09" width="2" height="2" fill="#9ccc3c"/>
<rect x="401.38" y="368.15" width="2" height="2" fill="#9ccc3c"/>
<rect x="403.66" y="366.91" width="2" height="2" fill="#9ccc3c"/>
<rect x="405.89" y="365.57" width="2" height="2" fill="#9ccc3c"/>
<rect x="408.16" y="364.3" width="2" height="2" fill="#9ccc3c"/>
<rect x="410.43" y="363.04" width="2" height="2" fill="#9ccc3c"/>
<rect x="412.6" y="361.61" width="2" height="2" fill="#9ccc3c"/>
<rect x="414.66" y="360.02" width="2" height="2" fill="#9ccc3c"/>
<rect x="416.61" y="358.3" width="2" height="2" fill="#9ccc3c"/>
<rect x="418.48" y="356.49" width="2" height="2" fill="#9ccc3c"/>
<rect x="420.28" y="354.62" width="2" height="2" fill="#9ccc3c"/>
<rect x="422.02" y="352.69" width="2" height="2" fill="#9ccc3c"/>
<rect x="423.72" y="350.72" width="2" height="2" fill="#9ccc3c"/>
<rect x="425.35" y="348.7" width="2" height="2" fill="#9ccc3c"/>
<rect x="426.93" y="346.63" width="2" height="2" fill="#9ccc3c"/>
<rect x="428.46" y="344.53" width="2" height="2" fill="#9ccc3c"/>
<rect x="429.93" y="342.38" width="2" height="2" fill="#9ccc3c"/>
<rect x="431.35" y="340.2" width="2" height="2" fill="#9ccc3c"/>
<rect x="432.73" y="338" width="2" height="2" fill="#9ccc3c"/>
<rect x="434.07" y="335.77" width="2" height="2" fill="#9ccc3c"/>
<rect x="435.37" y="333.52" width="2" height="2" fill="#9ccc3c"/>
<rect x="436.65" y="331.26" width="2" height="2" fill="#9ccc3c"/>
<rect x="437.91" y="328.98" width="2" height="2" fill="#9ccc3c"/>
<rect x="439.14" y="326.7" width="2" height="2" fill="#9ccc3c"/>
<rect x="440.36" y="324.4" width="2" height="2" fill="#9ccc3c"/>
<rect x="441.56" y="322.09" width="2" height="2" fill="#9ccc3c"/>
<rect x="442.77" y="319.79" width="2" height="2" fill="#9ccc3c"/>
<rect x="443.97" y="317.48" width="2" height="2" fill="#9ccc3c"/>
<rect x="445.18" y="315.18" width="2" height="2" fill="#9ccc3c"/>
<rect x="446.39" y="312.88" width="2" height="2" fill="#9ccc3c"/>
<rect x="447.62" y="310.59" width="2" height="2" fill="#9ccc3c"/>
<rect x="448.85" y="308.3" width="2" height="2" fill="#9ccc3c"/>
<rect x="450.06" y="306" width="2" height="2" fill="#9ccc3c"/>
<rect x="451.26" y="303.69" width="2" height="2" fill="#9ccc3c"/>
<rect x="452.44" y="301.37" width="2" height="2" fill="#9ccc3c"/>
<rect x="453.58" y="299.04" width="2" height="2" fill="#9ccc3c"/>
<rect x="454.69" y="296.69" width="2" height="2" fill="#9ccc3c"/>
<rect x="455.77" y="294.32" width="2" height="2" fill="#9ccc3c"/>
<rect x="456.83" y="291.95" width="2" height="2" fill="#9ccc3c"/>
<rect x="457.88" y="289.57" width="2" height="2" fill="#9ccc3c"/>
<rect x="458.92" y="287.19" width="2" height="2" fill="#9ccc3c"/>
<rect x="459.96" y="284.81" width="2" height="2" fill="#9ccc3c"/>
<rect x="461.01" y="282.43" width="2" height="2" fill="#9ccc3c"/>
<rect x="462.07" y="280.05" width="2" height="2" fill="#9ccc3c"/>
<rect x="463.17" y="277.69" width="2" height="2" fill="#9ccc3c"/>
<rect x="464.3" y="275.36" width="2" height="2" fill="#9ccc3c"/>
<rect x="465.48" y="273.04" width="2" height="2" fill="#9ccc3c"/>
<rect x="466.68" y="270.73" width="2" height="2" fill="#9ccc3c"/>
<rect x="467.88" y="268.42" width="2" height="2" fill="#9ccc3c"/>
<rect x="469.06" y="266.11" width="2" height="2" fill="#9ccc3c"/>
<rect x="470.21" y="263.77" width="2" height="2" fill="#9ccc3c"/>
<rect x="471.33" y="261.43" width="2" height="2" fill="#9ccc3c"/>
<rect x="472.43" y="259.07" width="2" height="2" fill="#9ccc3c"/>
<rect x="473.51" y="256.71" width="2" height="2" fill="#9ccc3c"/>
<rect x="474.6" y="254.35" width="2" height="2" fill="#9ccc3c"/>
<rect x="475.72" y="252" width="2" height="2" fill="#9ccc3c"/>
<rect x="476.89" y="249.68" width="2" height="2" fill="#9ccc3c"/>
<rect x="478.1" y="247.38" width="2" height="2" fill="#9ccc3c"/>
<rect x="479.34" y="245.09" width="2" height="2" fill="#9ccc3c"/>
<rect x="480.62" y="242.83" width="2" height="2" fill="#9ccc3c"/>
<rect x="481.95" y="240.6" width="2" height="2" fill="#9ccc3c"/>
<rect x="483.36" y="238.41" width="2" height="2" fill="#9ccc3c"/>
<rect x="484.89" y="236.31" width="2" height="2" fill="#9ccc3c"/>
<rect x="486.6" y="234.36" width="2" height="2" fill="#9ccc3c"/>
<rect x="488.54" y="232.62" width="2" height="2" fill="#9ccc3c"/>
<rect x="490.57" y="231" width="2" height="2" fill="#9ccc3c"/>
<rect x="492.74" y="229.58" width="2" height="2" fill="#9ccc3c"/>
<rect x="495.15" y="228.6" width="2" height="2" fill="#9ccc3c"/>
<rect x="497.64" y="227.84" width="2" height="2" fill="#9ccc3c"/>
<rect x="500.19" y="227.94" width="2" height="2" fill="#9ccc3c"/>
<rect x="502.45" y="229.22" width="2" height="2" fill="#9ccc3c"/>
<rect x="504.39" y="230.95" width="2" height="2" fill="#9ccc3c"/>
<rect x="506.05" y="232.94" width="2" height="2" fill="#9ccc3c"/>
<rect x="507.48" y="235.11" width="2" height="2" fill="#9ccc3c"/>
<rect x="390.5" y="219.5" width="128" height="162" fill="none" stroke="#262626" stroke-width="1"/>
<line x1="392.4" y1="381.5" x2="392.4" y2="385.5" stroke="#262626" stroke-width="1"/>
<line x1="421.56" y1="381.5" x2="421.56" y2="385.5" stroke="#262626" stroke-width="1"/>
<line x1="450.72" y1="381.5" x2="450.72" y2="385.5" stroke="#262626" stroke-width="1"/>
<line x1="479.88" y1="381.5" x2="479.88" y2="385.5" stroke="#262626" stroke-width="1"/>
<line x1="509.04" y1="381.5" x2="509.04" y2="385.5" stroke="#262626" stroke-width="1"/>
<line x1="406.98" y1="381.5" x2="406.98" y2="383.7" stroke="#262626" stroke-width="1"/>
<line x1="436.14" y1="381.5" x2="436.14" y2="383.7" stroke="#262626" stroke-width="1"/>
<line x1="465.3" y1="381.5" x2="465.3" y2="383.7" stroke="#262626" stroke-width="1"/>
<line x1="494.46" y1="381.5" x2="494.46" y2="383.7" stroke="#262626" stroke-width="1"/>
<text transform="translate(392.4,395.2) scale(1,1.2)" font-size="7.6" text-anchor="middle" font-weight="normal" font-style="normal" fill="#1e1e1e" stroke="#1e1e1e" >0</text>
<text transform="translate(421.56,395.2) scale(1,1.2)" font-size="7.6" text-anchor="middle" font-weight="normal" font-style="normal" fill="#1e1e1e" stroke="#1e1e1e" >3</text>
<text transform="translate(450.72,395.2) scale(1,1.2)" font-size="7.6" text-anchor="middle" font-weight="normal" font-style="normal" fill="#1e1e1e" stroke="#1e1e1e" >6</text>
<text transform="translate(479.88,395.2) scale(1,1.2)" font-size="7.6" text-anchor="middle" font-weight="normal" font-style="normal" fill="#1e1e1e" stroke="#1e1e1e" >9</text>
<text transform="translate(509.04,395.2) scale(1,1.2)" font-size="7.6" text-anchor="middle" font-weight="normal" font-style="normal" fill="#1e1e1e" stroke="#1e1e1e" >12</text>
<line x1="386.7" y1="372.2" x2="390.5" y2="372.2" stroke="#262626" stroke-width="1"/>
<line x1="386.7" y1="333.98" x2="390.5" y2="333.98" stroke="#262626" stroke-width="1"/>
<line x1="386.7" y1="295.76" x2="390.5" y2="295.76" stroke="#262626" stroke-width="1"/>
<line x1="386.7" y1="257.54" x2="390.5" y2="257.54" stroke="#262626" stroke-width="1"/>
<line x1="386.7" y1="219.32" x2="390.5" y2="219.32" stroke="#262626" stroke-width="1"/>
<line x1="388.3" y1="353.09" x2="390.5" y2="353.09" stroke="#262626" stroke-width="1"/>
<line x1="388.3" y1="314.87" x2="390.5" y2="314.87" stroke="#262626" stroke-width="1"/>
<line x1="388.3" y1="276.65" x2="390.5" y2="276.65" stroke="#262626" stroke-width="1"/>
<line x1="388.3" y1="238.43" x2="390.5" y2="238.43" stroke="#262626" stroke-width="1"/>
<text transform="translate(383.9,374.58) scale(1,1.2)" font-size="7.6" text-anchor="end" font-weight="normal" font-style="normal" fill="#1e1e1e" stroke="#1e1e1e" >0.0</text>
<text transform="translate(383.9,336.36) scale(1,1.2)" font-size="7.6" text-anchor="end" font-weight="normal" font-style="normal" fill="#1e1e1e" stroke="#1e1e1e" >0.2</text>
<text transform="translate(383.9,298.14) scale(1,1.2)" font-size="7.6" text-anchor="end" font-weight="normal" font-style="normal" fill="#1e1e1e" stroke="#1e1e1e" >0.4</text>
<text transform="translate(383.9,259.92) scale(1,1.2)" font-size="7.6" text-anchor="end" font-weight="normal" font-style="normal" fill="#1e1e1e" stroke="#1e1e1e" >0.6</text>
<text transform="translate(383.9,221.7) scale(1,1.2)" font-size="7.6" text-anchor="end" font-weight="normal" font-style="normal" fill="#1e1e1e" stroke="#1e1e1e" >0.8</text>
<line x1="474.2" y1="364.3" x2="493.5" y2="364.3" stroke="#5ef07a" stroke-width="1.1"/>
<rect x="482.8" y="363.3" width="2" height="2" fill="#5ef07a"/>
<text transform="translate(495.6,367.2) scale(1,1.2)" font-size="8" text-anchor="start" font-weight="normal" font-style="normal" fill="#1e1e1e" stroke="#1e1e1e" >0.3 K</text>
<line x1="474.2" y1="374.2" x2="493.5" y2="374.2" stroke="#9ccc3c" stroke-width="1.1"/>
<rect x="482.8" y="373.2" width="2" height="2" fill="#9ccc3c"/>
<text transform="translate(495.6,377.1) scale(1,1.2)" font-size="8" text-anchor="start" font-weight="normal" font-style="normal" fill="#1e1e1e" stroke="#1e1e1e" >1.5 K</text>
<text transform="translate(454.8,232.2) scale(1,1.2)" font-size="8" text-anchor="middle" font-weight="normal" font-style="normal" fill="#1e1e1e" stroke="#1e1e1e" ><tspan font-style="italic">P</tspan> = 9.1 GPa</text>
<text transform="translate(454.8,410.1) scale(1,1.14)" font-size="10.1" text-anchor="middle" fill="#1e1e1e" stroke="#1e1e1e"><tspan font-style="italic">B</tspan> (T)</text>
<text transform="translate(364.2,300.4) rotate(-90) scale(1,1.14)" x="0" y="0" font-size="10.1" text-anchor="middle" fill="#1e1e1e" stroke="#1e1e1e"><tspan font-style="italic">MR</tspan> (%)</text>
<text transform="translate(354.6,222.8) scale(1,1.0)" font-size="9.8" fill="#1e1e1e" stroke="#1e1e1e">(g)</text>
<rect x="555.5" y="219.5" width="128" height="162" fill="#dcf3fd"/>
<path d="M555.4,381.6 L555.4,257.6 L555.95,257.64 L556.5,257.68 L557.06,257.72 L557.61,257.75 L558.16,257.79 L558.71,257.82 L559.26,257.85 L559.81,257.88 L560.37,257.91 L560.92,257.94 L561.47,257.97 L562.02,257.99 L562.57,258.02 L563.12,258.04 L563.68,258.07 L564.23,258.09 L564.78,258.11 L565.33,258.13 L565.88,258.15 L566.44,258.17 L566.99,258.19 L567.54,258.21 L568.09,258.23 L568.64,258.25 L569.19,258.27 L569.75,258.29 L570.3,258.31 L570.85,258.34 L571.4,258.36 L571.95,258.38 L572.5,258.4 L573.06,258.42 L573.61,258.44 L574.16,258.47 L574.71,258.49 L575.26,258.51 L575.82,258.54 L576.37,258.57 L576.92,258.59 L577.47,258.62 L578.02,258.65 L578.57,258.68 L579.13,258.72 L579.68,258.75 L580.23,258.79 L580.78,258.82 L581.33,258.86 L581.88,258.9 L582.44,258.95 L582.99,258.99 L583.54,259.04 L584.09,259.09 L584.64,259.14 L585.19,259.19 L585.75,259.24 L586.3,259.3 L586.85,259.36 L587.4,259.42 L587.95,259.48 L588.51,259.54 L589.06,259.61 L589.61,259.68 L590.16,259.75 L590.71,259.82 L591.26,259.89 L591.82,259.97 L592.37,260.04 L592.92,260.12 L593.47,260.2 L594.02,260.29 L594.57,260.37 L595.13,260.46 L595.68,260.55 L596.23,260.64 L596.78,260.73 L597.33,260.82 L597.89,260.92 L598.44,261.02 L598.99,261.12 L599.54,261.22 L600.09,261.32 L600.64,261.42 L601.2,261.53 L601.75,261.63 L602.3,261.74 L602.85,261.85 L603.4,261.96 L603.95,262.07 L604.51,262.18 L605.06,262.29 L605.61,262.4 L606.16,262.52 L606.71,262.63 L607.27,262.74 L607.82,262.86 L608.37,262.97 L608.92,263.09 L609.47,263.21 L610.02,263.32 L610.58,263.44 L611.13,263.55 L611.68,263.67 L612.23,263.79 L612.78,263.9 L613.33,264.02 L613.89,264.14 L614.44,264.26 L614.99,264.37 L615.54,264.49 L616.09,264.61 L616.65,264.74 L617.2,264.86 L617.75,264.98 L618.3,265.11 L618.85,265.24 L619.4,265.36 L619.96,265.49 L620.51,265.62 L621.06,265.76 L621.61,265.89 L622.16,266.03 L622.71,266.17 L623.27,266.31 L623.82,266.45 L624.37,266.6 L624.92,266.75 L625.47,266.9 L626.03,267.05 L626.58,267.2 L627.13,267.36 L627.68,267.51 L628.23,267.67 L628.78,267.83 L629.34,267.99 L629.89,268.16 L630.44,268.32 L630.99,268.49 L631.54,268.65 L632.09,268.82 L632.65,268.99 L633.2,269.16 L633.75,269.32 L634.3,269.49 L634.85,269.66 L635.41,269.83 L635.96,270 L636.51,270.17 L637.06,270.34 L637.61,270.51 L638.16,270.68 L638.72,270.85 L639.27,271.02 L639.82,271.19 L640.37,271.35 L640.92,271.52 L641.47,271.69 L642.03,271.86 L642.58,272.03 L643.13,272.2 L643.68,272.36 L644.23,272.53 L644.78,272.7 L645.34,272.87 L645.89,273.04 L646.44,273.22 L646.99,273.39 L647.54,273.56 L648.1,273.74 L648.65,273.91 L649.2,274.09 L649.75,274.26 L650.3,274.44 L650.85,274.62 L651.41,274.8 L651.96,274.99 L652.51,275.17 L653.06,275.36 L653.61,275.54 L654.16,275.73 L654.72,275.92 L655.27,276.12 L655.82,276.31 L656.37,276.51 L656.92,276.71 L657.48,276.91 L658.03,277.11 L658.58,277.32 L659.13,277.53 L659.68,277.74 L660.23,277.95 L660.79,278.17 L661.34,278.39 L661.89,278.61 L662.44,278.83 L662.99,279.06 L663.54,279.29 L664.1,279.52 L664.65,279.76 L665.2,280 L665.2,280 L664.91,281.88 L664.62,283.78 L664.33,285.67 L664.03,287.56 L663.74,289.45 L663.45,291.31 L663.16,293.16 L662.87,294.98 L662.58,296.76 L662.28,298.5 L661.99,300.2 L661.7,301.85 L661.41,303.44 L661.12,304.96 L660.83,306.42 L660.54,307.79 L660.24,309.09 L659.95,310.3 L659.66,311.43 L659.37,312.49 L659.08,313.51 L658.79,314.51 L658.49,315.5 L658.2,316.49 L657.91,317.52 L657.62,318.6 L657.33,319.74 L657.04,320.96 L656.75,322.29 L656.45,323.74 L656.16,325.31 L655.87,327 L655.58,328.77 L655.29,330.63 L655,332.55 L654.71,334.53 L654.41,336.54 L654.12,338.57 L653.83,340.61 L653.54,342.65 L653.25,344.66 L652.96,346.64 L652.66,348.6 L652.37,350.54 L652.08,352.47 L651.79,354.38 L651.5,356.3 L651.21,358.23 L650.92,360.16 L650.62,362.12 L650.33,364.1 L650.04,366.11 L649.75,368.16 L649.46,370.25 L649.17,372.4 L648.87,374.6 L648.58,376.86 L648.29,379.19 L648,381.6 Z" fill="#e2d2fe" stroke="none"/>
<path d="M665.2,280 L664.91,281.88 L664.62,283.78 L664.33,285.67 L664.03,287.56 L663.74,289.45 L663.45,291.31 L663.16,293.16 L662.87,294.98 L662.58,296.76 L662.28,298.5 L661.99,300.2 L661.7,301.85 L661.41,303.44 L661.12,304.96 L660.83,306.42 L660.54,307.79 L660.24,309.09 L659.95,310.3 L659.66,311.43 L659.37,312.49 L659.08,313.51 L658.79,314.51 L658.49,315.5 L658.2,316.49 L657.91,317.52 L657.62,318.6 L657.33,319.74 L657.04,320.96 L656.75,322.29 L656.45,323.74 L656.16,325.31 L655.87,327 L655.58,328.77 L655.29,330.63 L655,332.55 L654.71,334.53 L654.41,336.54 L654.12,338.57 L653.83,340.61 L653.54,342.65 L653.25,344.66 L652.96,346.64 L652.66,348.6 L652.37,350.54 L652.08,352.47 L651.79,354.38 L651.5,356.3 L651.21,358.23 L650.92,360.16 L650.62,362.12 L650.33,364.1 L650.04,366.11 L649.75,368.16 L649.46,370.25 L649.17,372.4 L648.87,374.6 L648.58,376.86 L648.29,379.19 L648,381.6 L648,381.6 L683.9,381.6 L683.9,285 L675,282.5 Z" fill="#d6f8d0" stroke="none"/>
<circle cx="556.04" cy="257.72" r="2.25" fill="url(#rg)" stroke="#d01010" stroke-width="0.4"/>
<circle cx="564.51" cy="258.13" r="2.25" fill="url(#rg)" stroke="#d01010" stroke-width="0.4"/>
<circle cx="583.09" cy="258.97" r="2.25" fill="url(#rg)" stroke="#d01010" stroke-width="0.4"/>
<circle cx="610.42" cy="263.13" r="2.25" fill="url(#rg)" stroke="#d01010" stroke-width="0.4"/>
<circle cx="637.92" cy="270.21" r="2.25" fill="url(#rg)" stroke="#d01010" stroke-width="0.4"/>
<circle cx="665.06" cy="279.38" r="2.25" fill="url(#rg)" stroke="#d01010" stroke-width="0.4"/>
<path d="M649.24,370.81 L652.21,373.5 L649.24,376.2 L646.27,373.5 Z" fill="#8010f0"/>
<path d="M655.68,320.82 L658.65,323.52 L655.68,326.22 L652.71,323.52 Z" fill="#8010f0"/>
<rect x="555.5" y="219.5" width="128" height="162" fill="none" stroke="#262626" stroke-width="1"/>
<line x1="555.4" y1="381.5" x2="555.4" y2="385.5" stroke="#262626" stroke-width="1"/>
<line x1="592.2" y1="381.5" x2="592.2" y2="385.5" stroke="#262626" stroke-width="1"/>
<line x1="629" y1="381.5" x2="629" y2="385.5" stroke="#262626" stroke-width="1"/>
<line x1="665.8" y1="381.5" x2="665.8" y2="385.5" stroke="#262626" stroke-width="1"/>
<line x1="573.8" y1="381.5" x2="573.8" y2="383.7" stroke="#262626" stroke-width="1"/>
<line x1="610.6" y1="381.5" x2="610.6" y2="383.7" stroke="#262626" stroke-width="1"/>
<line x1="647.4" y1="381.5" x2="647.4" y2="383.7" stroke="#262626" stroke-width="1"/>
<text transform="translate(555.4,395.2) scale(1,1.2)" font-size="7.6" text-anchor="middle" font-weight="normal" font-style="normal" fill="#1e1e1e" stroke="#1e1e1e" >0</text>
<text transform="translate(592.2,395.2) scale(1,1.2)" font-size="7.6" text-anchor="middle" font-weight="normal" font-style="normal" fill="#1e1e1e" stroke="#1e1e1e" >4</text>
<text transform="translate(629,395.2) scale(1,1.2)" font-size="7.6" text-anchor="middle" font-weight="normal" font-style="normal" fill="#1e1e1e" stroke="#1e1e1e" >8</text>
<text transform="translate(665.8,395.2) scale(1,1.2)" font-size="7.6" text-anchor="middle" font-weight="normal" font-style="normal" fill="#1e1e1e" stroke="#1e1e1e" >12</text>
<line x1="551.7" y1="344.35" x2="555.5" y2="344.35" stroke="#262626" stroke-width="1"/>
<line x1="551.7" y1="302.7" x2="555.5" y2="302.7" stroke="#262626" stroke-width="1"/>
<line x1="551.7" y1="261.05" x2="555.5" y2="261.05" stroke="#262626" stroke-width="1"/>
<line x1="551.7" y1="219.4" x2="555.5" y2="219.4" stroke="#262626" stroke-width="1"/>
<line x1="553.3" y1="365.18" x2="555.5" y2="365.18" stroke="#262626" stroke-width="1"/>
<line x1="553.3" y1="323.52" x2="555.5" y2="323.52" stroke="#262626" stroke-width="1"/>
<line x1="553.3" y1="281.88" x2="555.5" y2="281.88" stroke="#262626" stroke-width="1"/>
<line x1="553.3" y1="240.22" x2="555.5" y2="240.22" stroke="#262626" stroke-width="1"/>
<text transform="translate(548.9,346.73) scale(1,1.2)" font-size="7.6" text-anchor="end" font-weight="normal" font-style="normal" fill="#1e1e1e" stroke="#1e1e1e" >1</text>
<text transform="translate(548.9,305.08) scale(1,1.2)" font-size="7.6" text-anchor="end" font-weight="normal" font-style="normal" fill="#1e1e1e" stroke="#1e1e1e" >2</text>
<text transform="translate(548.9,263.43) scale(1,1.2)" font-size="7.6" text-anchor="end" font-weight="normal" font-style="normal" fill="#1e1e1e" stroke="#1e1e1e" >3</text>
<text transform="translate(548.9,221.78) scale(1,1.2)" font-size="7.6" text-anchor="end" font-weight="normal" font-style="normal" fill="#1e1e1e" stroke="#1e1e1e" >4</text>
<text transform="translate(609.9,325.2) scale(1,1.2)" font-size="8" text-anchor="middle" font-weight="bold" font-style="normal" fill="#1e1e1e" stroke="#1e1e1e" >AFM2</text>
<text transform="translate(670.1,372) scale(1,1.2)" font-size="8" text-anchor="middle" font-weight="bold" font-style="normal" fill="#1e1e1e" stroke="#1e1e1e" >AFM4</text>
<circle cx="571.3" cy="356.5" r="2.25" fill="url(#rg)" stroke="#d01010" stroke-width="0.4"/>
<path d="M571.3,368.1 L574.27,370.8 L571.3,373.5 L568.33,370.8 Z" fill="#8010f0"/>
<text transform="translate(583.5,359.8) scale(1,1.09)" font-size="9.6" font-style="italic" fill="#1e1e1e" stroke="#1e1e1e">T</text>
<text transform="translate(588.5,362)" font-size="6.8" font-style="italic" fill="#1e1e1e" stroke="#1e1e1e">M,R</text>
<text transform="translate(583.5,374.2) scale(1,1.09)" font-size="9.6" font-style="italic" fill="#1e1e1e" stroke="#1e1e1e">T</text>
<text transform="translate(588.5,376.4)" font-size="6.8" font-style="italic" fill="#1e1e1e" stroke="#1e1e1e">M2,MR</text>
<text transform="translate(619.6,232.2) scale(1,1.2)" font-size="8" text-anchor="middle" font-weight="normal" font-style="normal" fill="#1e1e1e" stroke="#1e1e1e" ><tspan font-style="italic">P</tspan> = 9.1 GPa</text>
<text transform="translate(619.6,410.1) scale(1,1.14)" font-size="10.1" text-anchor="middle" fill="#1e1e1e" stroke="#1e1e1e"><tspan font-style="italic">B</tspan> (T)</text>
<text transform="translate(537,299.8) rotate(-90) scale(1,1.14)" x="0" y="0" font-size="10.1" text-anchor="middle" fill="#1e1e1e" stroke="#1e1e1e"><tspan font-style="italic">T</tspan> (K)</text>
<text transform="translate(527.4,222.8) scale(1,1.0)" font-size="9.8" fill="#1e1e1e" stroke="#1e1e1e">(h)</text>
</svg></body></html>
